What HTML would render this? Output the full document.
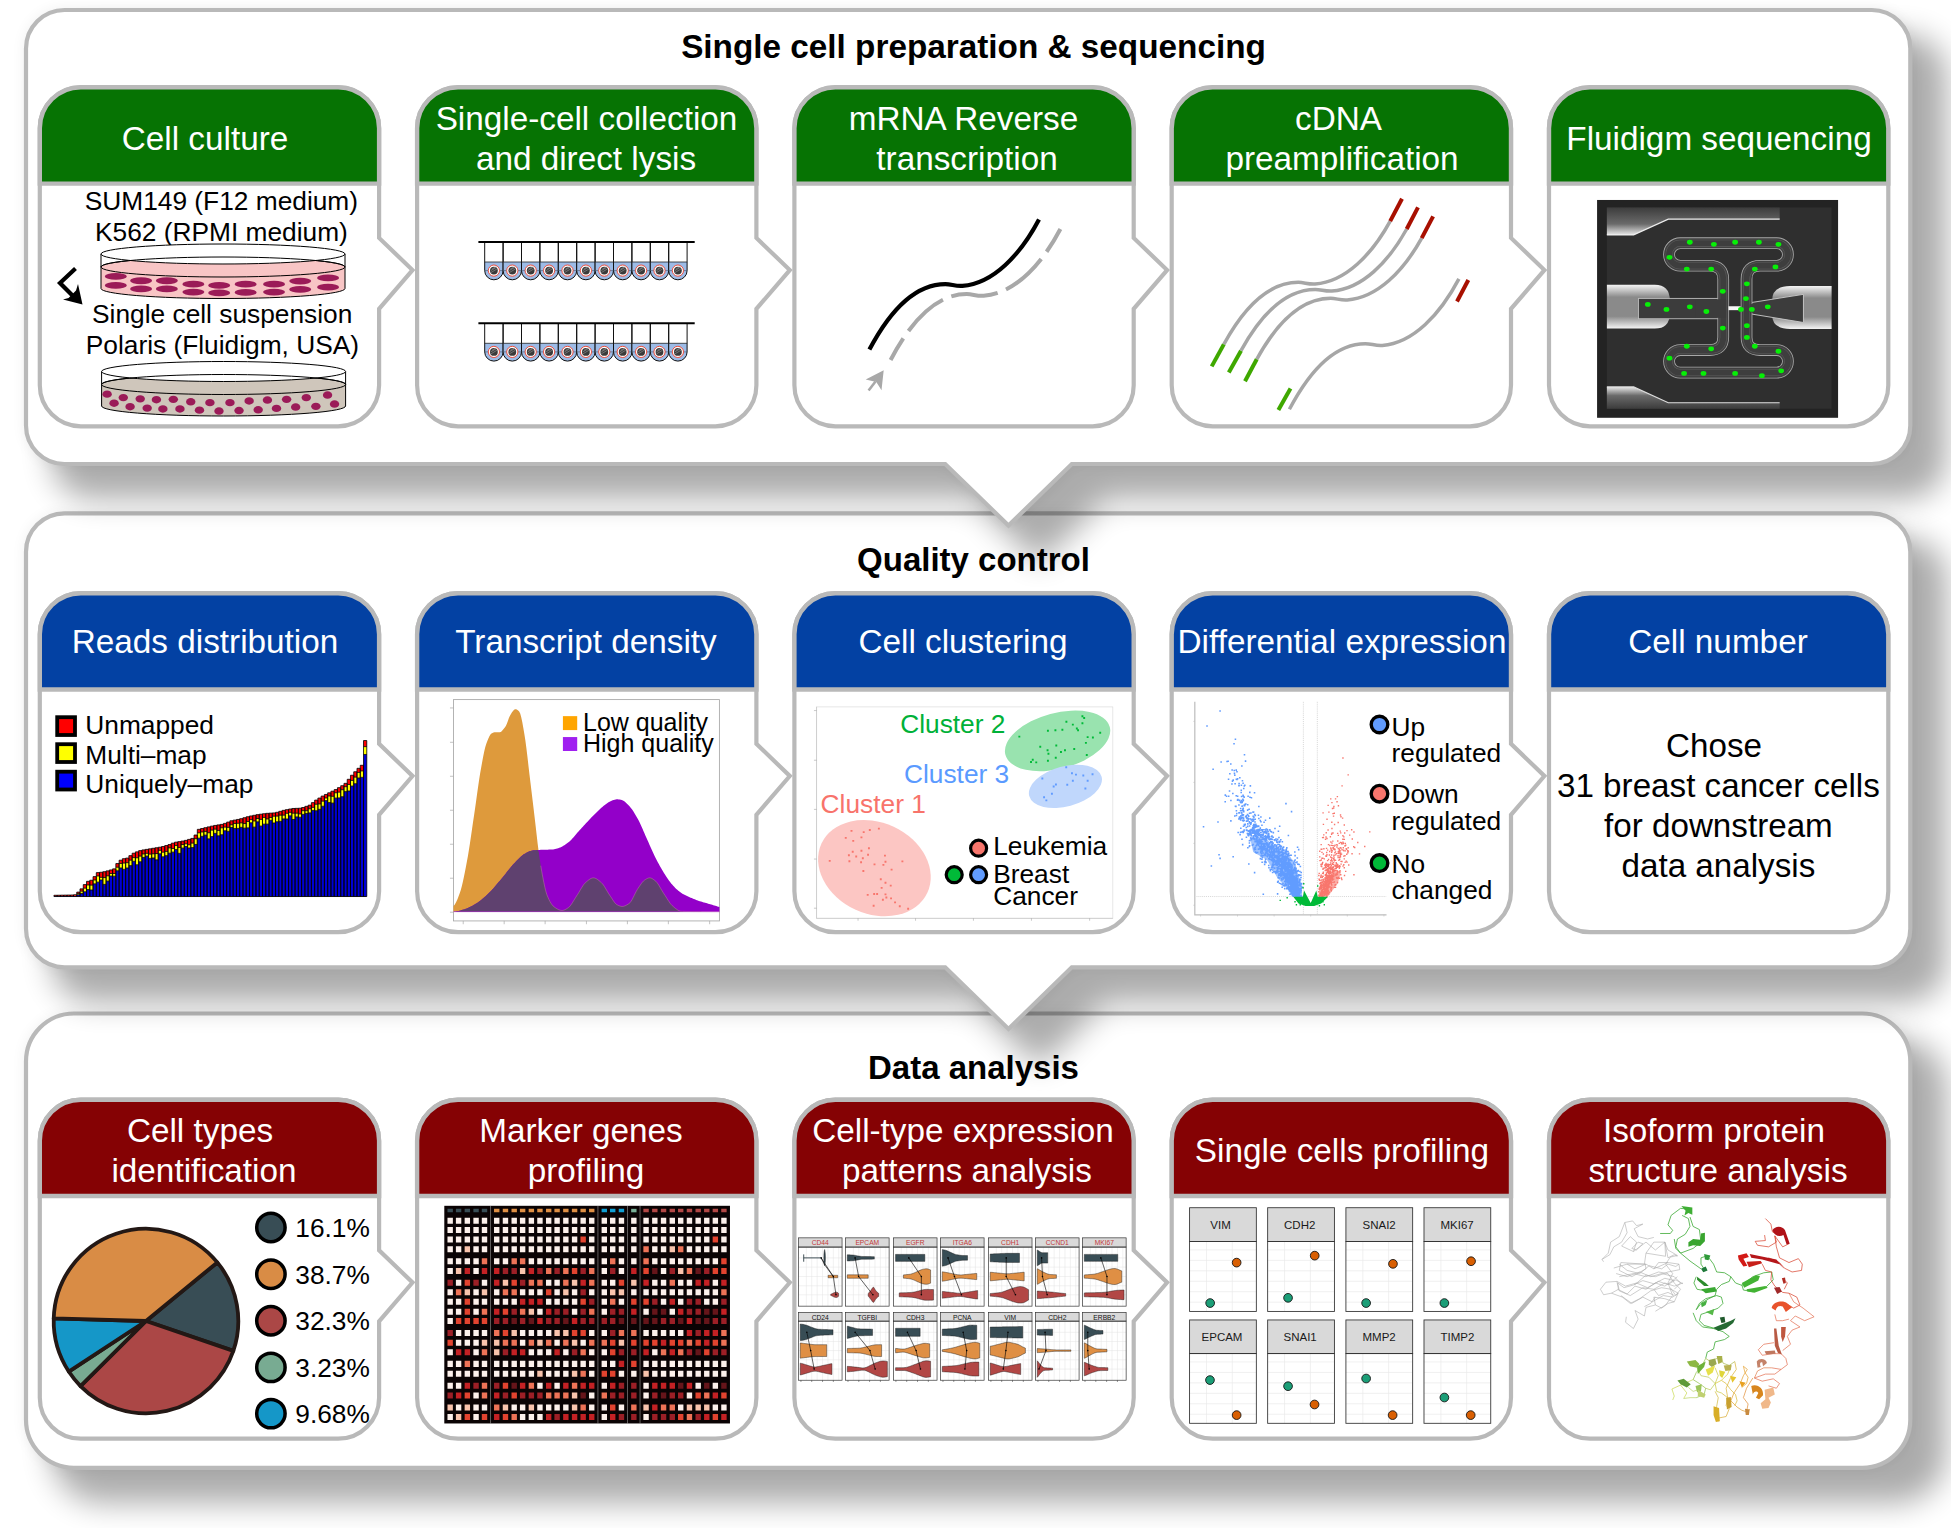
<!DOCTYPE html><html><head><meta charset="utf-8"><title>Workflow</title><style>html,body{margin:0;padding:0;background:#fff}svg{display:block}text{font-family:"Liberation Sans",sans-serif}</style></head><body><svg width="1951" height="1528" viewBox="0 0 1951 1528" font-family="Liberation Sans, sans-serif"><rect width="1951" height="1528" fill="#fff"/><defs><filter id="sh" x="-5%" y="-10%" width="110%" height="130%" color-interpolation-filters="sRGB"><feMorphology in="SourceAlpha" operator="dilate" radius="3"/><feGaussianBlur stdDeviation="15.5"/><feOffset dx="31" dy="30" result="b"/><feComponentTransfer result="s1"><feFuncA type="linear" slope="0.33"/></feComponentTransfer><feGaussianBlur in="SourceAlpha" stdDeviation="7" result="g0"/><feComponentTransfer in="g0" result="g1"><feFuncA type="linear" slope="0.06"/></feComponentTransfer><feMerge><feMergeNode in="g1"/><feMergeNode in="s1"/><feMergeNode in="SourceGraphic"/></feMerge></filter></defs><path d="M74,1013.5L1862.3,1013.5A48,48 0 0 1 1910.3,1061.5L1910.3,1419.8A48,48 0 0 1 1862.3,1467.8L74,1467.8A48,48 0 0 1 26,1419.8L26,1061.5A48,48 0 0 1 74,1013.5Z" fill="#fff" stroke="#b9b9b9" stroke-width="4.2" filter="url(#sh)"/><path d="M64.5,513.3L1871.8,513.3A38.5,38.5 0 0 1 1910.3,551.8L1910.3,928.8A38.5,38.5 0 0 1 1871.8,967.3L1071.8,967.3L1008.5,1028.9L945.2,967.3L64.5,967.3A38.5,38.5 0 0 1 26,928.8L26,551.8A38.5,38.5 0 0 1 64.5,513.3Z" fill="#fff" stroke="#b9b9b9" stroke-width="4.2" filter="url(#sh)"/><path d="M64.5,10L1871.8,10A38.5,38.5 0 0 1 1910.3,48.5L1910.3,425.5A38.5,38.5 0 0 1 1871.8,464L1071.8,464L1008.5,525.6L945.2,464L64.5,464A38.5,38.5 0 0 1 26,425.5L26,48.5A38.5,38.5 0 0 1 64.5,10Z" fill="#fff" stroke="#b9b9b9" stroke-width="4.2" filter="url(#sh)"/><text x="973.5" y="57.9" font-size="33.3" text-anchor="middle" font-weight="bold">Single cell preparation &amp; sequencing</text><text x="973.5" y="571.2" font-size="33" text-anchor="middle" font-weight="bold">Quality control</text><text x="973.5" y="1078.6" font-size="33" text-anchor="middle" font-weight="bold">Data analysis</text><path d="M80.8,87.3L338.1,87.3A41,41 0 0 1 379.1,128.3L379.1,237.9L412.5,270.1L379.1,308.9L379.1,385.3A41,41 0 0 1 338.1,426.3L80.8,426.3A41,41 0 0 1 39.8,385.3L39.8,128.3A41,41 0 0 1 80.8,87.3Z" fill="#fff" stroke="#b9b9b9" stroke-width="4.2" stroke-linejoin="miter"/><path d="M39.8,183.6L39.8,128.3A41,41 0 0 1 80.8,87.3L338.1,87.3A41,41 0 0 1 379.1,128.3L379.1,183.6Z" fill="#067303" stroke="#b9b9b9" stroke-width="4.4"/><text x="205" y="149.7" font-size="33.3" text-anchor="middle" fill="#fff">Cell culture</text><path d="M458.1,87.3L715.4,87.3A41,41 0 0 1 756.4,128.3L756.4,237.9L789.8,270.1L756.4,308.9L756.4,385.3A41,41 0 0 1 715.4,426.3L458.1,426.3A41,41 0 0 1 417.1,385.3L417.1,128.3A41,41 0 0 1 458.1,87.3Z" fill="#fff" stroke="#b9b9b9" stroke-width="4.2" stroke-linejoin="miter"/><path d="M417.1,183.6L417.1,128.3A41,41 0 0 1 458.1,87.3L715.4,87.3A41,41 0 0 1 756.4,128.3L756.4,183.6Z" fill="#067303" stroke="#b9b9b9" stroke-width="4.4"/><text x="586.5" y="130.4" font-size="33.3" text-anchor="middle" fill="#fff">Single-cell collection</text><text x="586" y="170.1" font-size="33.3" text-anchor="middle" fill="#fff">and direct lysis</text><path d="M835.4,87.3L1092.7,87.3A41,41 0 0 1 1133.7,128.3L1133.7,237.9L1167.1,270.1L1133.7,308.9L1133.7,385.3A41,41 0 0 1 1092.7,426.3L835.4,426.3A41,41 0 0 1 794.4,385.3L794.4,128.3A41,41 0 0 1 835.4,87.3Z" fill="#fff" stroke="#b9b9b9" stroke-width="4.2" stroke-linejoin="miter"/><path d="M794.4,183.6L794.4,128.3A41,41 0 0 1 835.4,87.3L1092.7,87.3A41,41 0 0 1 1133.7,128.3L1133.7,183.6Z" fill="#067303" stroke="#b9b9b9" stroke-width="4.4"/><text x="963.5" y="130.4" font-size="33.3" text-anchor="middle" fill="#fff">mRNA Reverse</text><text x="967" y="170.1" font-size="33.3" text-anchor="middle" fill="#fff">transcription</text><path d="M1212.7,87.3L1470,87.3A41,41 0 0 1 1511,128.3L1511,237.9L1544.4,270.1L1511,308.9L1511,385.3A41,41 0 0 1 1470,426.3L1212.7,426.3A41,41 0 0 1 1171.7,385.3L1171.7,128.3A41,41 0 0 1 1212.7,87.3Z" fill="#fff" stroke="#b9b9b9" stroke-width="4.2" stroke-linejoin="miter"/><path d="M1171.7,183.6L1171.7,128.3A41,41 0 0 1 1212.7,87.3L1470,87.3A41,41 0 0 1 1511,128.3L1511,183.6Z" fill="#067303" stroke="#b9b9b9" stroke-width="4.4"/><text x="1338.5" y="130.4" font-size="33.3" text-anchor="middle" fill="#fff">cDNA</text><text x="1342" y="170.1" font-size="33.3" text-anchor="middle" fill="#fff">preamplification</text><path d="M1590,87.3L1847.3,87.3A41,41 0 0 1 1888.3,128.3L1888.3,385.3A41,41 0 0 1 1847.3,426.3L1590,426.3A41,41 0 0 1 1549,385.3L1549,128.3A41,41 0 0 1 1590,87.3Z" fill="#fff" stroke="#b9b9b9" stroke-width="4.2" stroke-linejoin="miter"/><path d="M1549,183.6L1549,128.3A41,41 0 0 1 1590,87.3L1847.3,87.3A41,41 0 0 1 1888.3,128.3L1888.3,183.6Z" fill="#067303" stroke="#b9b9b9" stroke-width="4.4"/><text x="1719" y="149.7" font-size="33.3" text-anchor="middle" fill="#fff">Fluidigm sequencing</text><path d="M80.8,593.2L338.1,593.2A41,41 0 0 1 379.1,634.2L379.1,743.8L412.5,776L379.1,814.8L379.1,891.2A41,41 0 0 1 338.1,932.2L80.8,932.2A41,41 0 0 1 39.8,891.2L39.8,634.2A41,41 0 0 1 80.8,593.2Z" fill="#fff" stroke="#b9b9b9" stroke-width="4.2" stroke-linejoin="miter"/><path d="M39.8,689.5L39.8,634.2A41,41 0 0 1 80.8,593.2L338.1,593.2A41,41 0 0 1 379.1,634.2L379.1,689.5Z" fill="#0341a3" stroke="#b9b9b9" stroke-width="4.4"/><text x="205" y="653.2" font-size="33.3" text-anchor="middle" fill="#fff">Reads distribution</text><path d="M458.1,593.2L715.4,593.2A41,41 0 0 1 756.4,634.2L756.4,743.8L789.8,776L756.4,814.8L756.4,891.2A41,41 0 0 1 715.4,932.2L458.1,932.2A41,41 0 0 1 417.1,891.2L417.1,634.2A41,41 0 0 1 458.1,593.2Z" fill="#fff" stroke="#b9b9b9" stroke-width="4.2" stroke-linejoin="miter"/><path d="M417.1,689.5L417.1,634.2A41,41 0 0 1 458.1,593.2L715.4,593.2A41,41 0 0 1 756.4,634.2L756.4,689.5Z" fill="#0341a3" stroke="#b9b9b9" stroke-width="4.4"/><text x="586" y="653.2" font-size="33.3" text-anchor="middle" fill="#fff">Transcript density</text><path d="M835.4,593.2L1092.7,593.2A41,41 0 0 1 1133.7,634.2L1133.7,743.8L1167.1,776L1133.7,814.8L1133.7,891.2A41,41 0 0 1 1092.7,932.2L835.4,932.2A41,41 0 0 1 794.4,891.2L794.4,634.2A41,41 0 0 1 835.4,593.2Z" fill="#fff" stroke="#b9b9b9" stroke-width="4.2" stroke-linejoin="miter"/><path d="M794.4,689.5L794.4,634.2A41,41 0 0 1 835.4,593.2L1092.7,593.2A41,41 0 0 1 1133.7,634.2L1133.7,689.5Z" fill="#0341a3" stroke="#b9b9b9" stroke-width="4.4"/><text x="963" y="653.2" font-size="33.3" text-anchor="middle" fill="#fff">Cell clustering</text><path d="M1212.7,593.2L1470,593.2A41,41 0 0 1 1511,634.2L1511,743.8L1544.4,776L1511,814.8L1511,891.2A41,41 0 0 1 1470,932.2L1212.7,932.2A41,41 0 0 1 1171.7,891.2L1171.7,634.2A41,41 0 0 1 1212.7,593.2Z" fill="#fff" stroke="#b9b9b9" stroke-width="4.2" stroke-linejoin="miter"/><path d="M1171.7,689.5L1171.7,634.2A41,41 0 0 1 1212.7,593.2L1470,593.2A41,41 0 0 1 1511,634.2L1511,689.5Z" fill="#0341a3" stroke="#b9b9b9" stroke-width="4.4"/><text x="1342" y="653.2" font-size="33.3" text-anchor="middle" fill="#fff">Differential expression</text><path d="M1590,593.2L1847.3,593.2A41,41 0 0 1 1888.3,634.2L1888.3,891.2A41,41 0 0 1 1847.3,932.2L1590,932.2A41,41 0 0 1 1549,891.2L1549,634.2A41,41 0 0 1 1590,593.2Z" fill="#fff" stroke="#b9b9b9" stroke-width="4.2" stroke-linejoin="miter"/><path d="M1549,689.5L1549,634.2A41,41 0 0 1 1590,593.2L1847.3,593.2A41,41 0 0 1 1888.3,634.2L1888.3,689.5Z" fill="#0341a3" stroke="#b9b9b9" stroke-width="4.4"/><text x="1718" y="653.2" font-size="33.3" text-anchor="middle" fill="#fff">Cell number</text><path d="M80.8,1099.7L338.1,1099.7A41,41 0 0 1 379.1,1140.7L379.1,1250.3L412.5,1282.5L379.1,1321.3L379.1,1397.7A41,41 0 0 1 338.1,1438.7L80.8,1438.7A41,41 0 0 1 39.8,1397.7L39.8,1140.7A41,41 0 0 1 80.8,1099.7Z" fill="#fff" stroke="#b9b9b9" stroke-width="4.2" stroke-linejoin="miter"/><path d="M39.8,1196L39.8,1140.7A41,41 0 0 1 80.8,1099.7L338.1,1099.7A41,41 0 0 1 379.1,1140.7L379.1,1196Z" fill="#850204" stroke="#b9b9b9" stroke-width="4.4"/><text x="200" y="1141.7" font-size="33.3" text-anchor="middle" fill="#fff">Cell types</text><text x="204" y="1181.7" font-size="33.3" text-anchor="middle" fill="#fff">identification</text><path d="M458.1,1099.7L715.4,1099.7A41,41 0 0 1 756.4,1140.7L756.4,1250.3L789.8,1282.5L756.4,1321.3L756.4,1397.7A41,41 0 0 1 715.4,1438.7L458.1,1438.7A41,41 0 0 1 417.1,1397.7L417.1,1140.7A41,41 0 0 1 458.1,1099.7Z" fill="#fff" stroke="#b9b9b9" stroke-width="4.2" stroke-linejoin="miter"/><path d="M417.1,1196L417.1,1140.7A41,41 0 0 1 458.1,1099.7L715.4,1099.7A41,41 0 0 1 756.4,1140.7L756.4,1196Z" fill="#850204" stroke="#b9b9b9" stroke-width="4.4"/><text x="581" y="1141.7" font-size="33.3" text-anchor="middle" fill="#fff">Marker genes</text><text x="586" y="1181.7" font-size="33.3" text-anchor="middle" fill="#fff">profiling</text><path d="M835.4,1099.7L1092.7,1099.7A41,41 0 0 1 1133.7,1140.7L1133.7,1250.3L1167.1,1282.5L1133.7,1321.3L1133.7,1397.7A41,41 0 0 1 1092.7,1438.7L835.4,1438.7A41,41 0 0 1 794.4,1397.7L794.4,1140.7A41,41 0 0 1 835.4,1099.7Z" fill="#fff" stroke="#b9b9b9" stroke-width="4.2" stroke-linejoin="miter"/><path d="M794.4,1196L794.4,1140.7A41,41 0 0 1 835.4,1099.7L1092.7,1099.7A41,41 0 0 1 1133.7,1140.7L1133.7,1196Z" fill="#850204" stroke="#b9b9b9" stroke-width="4.4"/><text x="963" y="1141.7" font-size="33.3" text-anchor="middle" fill="#fff">Cell-type expression</text><text x="967" y="1181.7" font-size="33.3" text-anchor="middle" fill="#fff">patterns analysis</text><path d="M1212.7,1099.7L1470,1099.7A41,41 0 0 1 1511,1140.7L1511,1250.3L1544.4,1282.5L1511,1321.3L1511,1397.7A41,41 0 0 1 1470,1438.7L1212.7,1438.7A41,41 0 0 1 1171.7,1397.7L1171.7,1140.7A41,41 0 0 1 1212.7,1099.7Z" fill="#fff" stroke="#b9b9b9" stroke-width="4.2" stroke-linejoin="miter"/><path d="M1171.7,1196L1171.7,1140.7A41,41 0 0 1 1212.7,1099.7L1470,1099.7A41,41 0 0 1 1511,1140.7L1511,1196Z" fill="#850204" stroke="#b9b9b9" stroke-width="4.4"/><text x="1342" y="1162.1" font-size="33.3" text-anchor="middle" fill="#fff">Single cells profiling</text><path d="M1590,1099.7L1847.3,1099.7A41,41 0 0 1 1888.3,1140.7L1888.3,1397.7A41,41 0 0 1 1847.3,1438.7L1590,1438.7A41,41 0 0 1 1549,1397.7L1549,1140.7A41,41 0 0 1 1590,1099.7Z" fill="#fff" stroke="#b9b9b9" stroke-width="4.2" stroke-linejoin="miter"/><path d="M1549,1196L1549,1140.7A41,41 0 0 1 1590,1099.7L1847.3,1099.7A41,41 0 0 1 1888.3,1140.7L1888.3,1196Z" fill="#850204" stroke="#b9b9b9" stroke-width="4.4"/><text x="1714" y="1141.7" font-size="33.3" text-anchor="middle" fill="#fff">Isoform protein</text><text x="1718" y="1181.7" font-size="33.3" text-anchor="middle" fill="#fff">structure analysis</text><text x="221.4" y="210.1" font-size="26.3" text-anchor="middle">SUM149 (F12 medium)</text><text x="221.4" y="241.4" font-size="26.3" text-anchor="middle">K562 (RPMI medium)</text><text x="222.2" y="323.4" font-size="26.3" text-anchor="middle">Single cell suspension</text><text x="222.4" y="354.2" font-size="26.3" text-anchor="middle">Polaris (Fluidigm, USA)</text><path d="M101,267L101,288.5A122,10 0 0 0 345,288.5L345,267Z" fill="#f8c5c5" stroke="#000" stroke-width="1"/><ellipse cx="223" cy="267" rx="122" ry="10" fill="#f8c5c5" stroke="#000" stroke-width="1"/><ellipse cx="115.81" cy="276.38" rx="11" ry="3.4" fill="#9b1b58"/><ellipse cx="141.08" cy="280.73" rx="11" ry="3.4" fill="#9b1b58"/><ellipse cx="166.87" cy="280.73" rx="11" ry="3.4" fill="#9b1b58"/><ellipse cx="193.36" cy="284.22" rx="11" ry="3.4" fill="#9b1b58"/><ellipse cx="219.16" cy="285.44" rx="11" ry="3.4" fill="#9b1b58"/><ellipse cx="245.65" cy="284.22" rx="11" ry="3.4" fill="#9b1b58"/><ellipse cx="274.05" cy="284.22" rx="11" ry="3.4" fill="#9b1b58"/><ellipse cx="300.2" cy="281.08" rx="11" ry="3.4" fill="#9b1b58"/><ellipse cx="328.08" cy="277.94" rx="11" ry="3.4" fill="#9b1b58"/><ellipse cx="115.81" cy="285.44" rx="11" ry="3.4" fill="#9b1b58"/><ellipse cx="141.08" cy="288.92" rx="11" ry="3.4" fill="#9b1b58"/><ellipse cx="166.87" cy="288.92" rx="11" ry="3.4" fill="#9b1b58"/><ellipse cx="193.36" cy="292.06" rx="11" ry="3.4" fill="#9b1b58"/><ellipse cx="219.16" cy="292.93" rx="11" ry="3.4" fill="#9b1b58"/><ellipse cx="245.65" cy="292.41" rx="11" ry="3.4" fill="#9b1b58"/><ellipse cx="274.05" cy="292.06" rx="11" ry="3.4" fill="#9b1b58"/><ellipse cx="300.2" cy="289.45" rx="11" ry="3.4" fill="#9b1b58"/><ellipse cx="328.08" cy="287.18" rx="11" ry="3.4" fill="#9b1b58"/><path d="M101,254L101,267M345,254L345,267" stroke="#000" stroke-width="1" fill="none"/><path d="M101,254A122,10 0 0 1 345,254A122,10 0 0 1 101,254Z" fill="#fff" stroke="#000" stroke-width="1"/><path d="M101,267A122,10 0 0 1 345,267" fill="none" stroke="#000" stroke-width="1"/><path d="M101.6,384.5L101.6,406A122,10 0 0 0 345.6,406L345.6,384.5Z" fill="#cfc6bb" stroke="#000" stroke-width="1"/><ellipse cx="223.6" cy="384.5" rx="122" ry="10" fill="#cfc6bb" stroke="#000" stroke-width="1"/><ellipse cx="107.1" cy="394.13" rx="4.7" ry="3.7" fill="#9b1b58"/><ellipse cx="123.3" cy="397.62" rx="4.7" ry="3.7" fill="#9b1b58"/><ellipse cx="140.21" cy="398.84" rx="4.7" ry="3.7" fill="#9b1b58"/><ellipse cx="156.42" cy="399.71" rx="4.7" ry="3.7" fill="#9b1b58"/><ellipse cx="173.32" cy="399.36" rx="4.7" ry="3.7" fill="#9b1b58"/><ellipse cx="190.75" cy="401.8" rx="4.7" ry="3.7" fill="#9b1b58"/><ellipse cx="209.92" cy="402.67" rx="4.7" ry="3.7" fill="#9b1b58"/><ellipse cx="229.96" cy="402.67" rx="4.7" ry="3.7" fill="#9b1b58"/><ellipse cx="249.13" cy="400.93" rx="4.7" ry="3.7" fill="#9b1b58"/><ellipse cx="267.43" cy="400.06" rx="4.7" ry="3.7" fill="#9b1b58"/><ellipse cx="286.6" cy="399.36" rx="4.7" ry="3.7" fill="#9b1b58"/><ellipse cx="306.29" cy="397.62" rx="4.7" ry="3.7" fill="#9b1b58"/><ellipse cx="327.56" cy="395.01" rx="4.7" ry="3.7" fill="#9b1b58"/><ellipse cx="114.07" cy="403.2" rx="4.7" ry="3.7" fill="#9b1b58"/><ellipse cx="130.1" cy="406.68" rx="4.7" ry="3.7" fill="#9b1b58"/><ellipse cx="147.18" cy="408.08" rx="4.7" ry="3.7" fill="#9b1b58"/><ellipse cx="162.87" cy="408.95" rx="4.7" ry="3.7" fill="#9b1b58"/><ellipse cx="179.94" cy="408.95" rx="4.7" ry="3.7" fill="#9b1b58"/><ellipse cx="199.46" cy="410.17" rx="4.7" ry="3.7" fill="#9b1b58"/><ellipse cx="218.98" cy="411.04" rx="4.7" ry="3.7" fill="#9b1b58"/><ellipse cx="239.02" cy="410.52" rx="4.7" ry="3.7" fill="#9b1b58"/><ellipse cx="258.19" cy="409.82" rx="4.7" ry="3.7" fill="#9b1b58"/><ellipse cx="276.49" cy="408.42" rx="4.7" ry="3.7" fill="#9b1b58"/><ellipse cx="295.66" cy="407.03" rx="4.7" ry="3.7" fill="#9b1b58"/><ellipse cx="315.88" cy="406.33" rx="4.7" ry="3.7" fill="#9b1b58"/><ellipse cx="334.53" cy="404.07" rx="4.7" ry="3.7" fill="#9b1b58"/><path d="M101.6,371.5L101.6,384.5M345.6,371.5L345.6,384.5" stroke="#000" stroke-width="1" fill="none"/><path d="M101.6,371.5A122,10 0 0 1 345.6,371.5A122,10 0 0 1 101.6,371.5Z" fill="#fff" stroke="#000" stroke-width="1"/><path d="M101.6,384.5A122,10 0 0 1 345.6,384.5" fill="none" stroke="#000" stroke-width="1"/><path d="M75.5,268.5L60,283L77,300" fill="none" stroke="#000" stroke-width="4.2" stroke-linejoin="miter"/><path d="M82.5,304.5L63,299.5L68.5,298L76,290.5L78,284Z" fill="#000"/><defs></defs><path d="M484.7,262L484.7,270.6A9.2,9.2 0 0 0 503.1,270.6L503.1,262Z" fill="#9dbbe6"/><path d="M484.7,242L484.7,270.6A9.2,9.2 0 0 0 503.1,270.6L503.1,242" fill="none" stroke="#111" stroke-width="1"/><path d="M484.7,262H503.1" stroke="#222" stroke-width="0.8"/><path d="M484.7,270.6H503.1" stroke="#345" stroke-width="0.5"/><circle cx="493.9" cy="270.6" r="5.6" fill="#fff" stroke="#f0402a" stroke-width="0.9"/><circle cx="493.9" cy="270.6" r="3.9" fill="#3a3a3a"/><path d="M490.9,270.6l5,-3M490.9,272.6l6,-3.6M491.9,269.1l5,-3" stroke="#aaa" stroke-width="0.5"/><path d="M503.1,262L503.1,270.6A9.2,9.2 0 0 0 521.5,270.6L521.5,262Z" fill="#9dbbe6"/><path d="M503.1,242L503.1,270.6A9.2,9.2 0 0 0 521.5,270.6L521.5,242" fill="none" stroke="#111" stroke-width="1"/><path d="M503.1,262H521.5" stroke="#222" stroke-width="0.8"/><path d="M503.1,270.6H521.5" stroke="#345" stroke-width="0.5"/><circle cx="512.3" cy="270.6" r="5.6" fill="#fff" stroke="#f0402a" stroke-width="0.9"/><circle cx="512.3" cy="270.6" r="3.9" fill="#3a3a3a"/><path d="M509.3,270.6l5,-3M509.3,272.6l6,-3.6M510.3,269.1l5,-3" stroke="#aaa" stroke-width="0.5"/><path d="M521.5,262L521.5,270.6A9.2,9.2 0 0 0 539.9,270.6L539.9,262Z" fill="#9dbbe6"/><path d="M521.5,242L521.5,270.6A9.2,9.2 0 0 0 539.9,270.6L539.9,242" fill="none" stroke="#111" stroke-width="1"/><path d="M521.5,262H539.9" stroke="#222" stroke-width="0.8"/><path d="M521.5,270.6H539.9" stroke="#345" stroke-width="0.5"/><circle cx="530.7" cy="270.6" r="5.6" fill="#fff" stroke="#f0402a" stroke-width="0.9"/><circle cx="530.7" cy="270.6" r="3.9" fill="#3a3a3a"/><path d="M527.7,270.6l5,-3M527.7,272.6l6,-3.6M528.7,269.1l5,-3" stroke="#aaa" stroke-width="0.5"/><path d="M539.9,262L539.9,270.6A9.2,9.2 0 0 0 558.3,270.6L558.3,262Z" fill="#9dbbe6"/><path d="M539.9,242L539.9,270.6A9.2,9.2 0 0 0 558.3,270.6L558.3,242" fill="none" stroke="#111" stroke-width="1"/><path d="M539.9,262H558.3" stroke="#222" stroke-width="0.8"/><path d="M539.9,270.6H558.3" stroke="#345" stroke-width="0.5"/><circle cx="549.1" cy="270.6" r="5.6" fill="#fff" stroke="#f0402a" stroke-width="0.9"/><circle cx="549.1" cy="270.6" r="3.9" fill="#3a3a3a"/><path d="M546.1,270.6l5,-3M546.1,272.6l6,-3.6M547.1,269.1l5,-3" stroke="#aaa" stroke-width="0.5"/><path d="M558.3,262L558.3,270.6A9.2,9.2 0 0 0 576.7,270.6L576.7,262Z" fill="#9dbbe6"/><path d="M558.3,242L558.3,270.6A9.2,9.2 0 0 0 576.7,270.6L576.7,242" fill="none" stroke="#111" stroke-width="1"/><path d="M558.3,262H576.7" stroke="#222" stroke-width="0.8"/><path d="M558.3,270.6H576.7" stroke="#345" stroke-width="0.5"/><circle cx="567.5" cy="270.6" r="5.6" fill="#fff" stroke="#f0402a" stroke-width="0.9"/><circle cx="567.5" cy="270.6" r="3.9" fill="#3a3a3a"/><path d="M564.5,270.6l5,-3M564.5,272.6l6,-3.6M565.5,269.1l5,-3" stroke="#aaa" stroke-width="0.5"/><path d="M576.7,262L576.7,270.6A9.2,9.2 0 0 0 595.1,270.6L595.1,262Z" fill="#9dbbe6"/><path d="M576.7,242L576.7,270.6A9.2,9.2 0 0 0 595.1,270.6L595.1,242" fill="none" stroke="#111" stroke-width="1"/><path d="M576.7,262H595.1" stroke="#222" stroke-width="0.8"/><path d="M576.7,270.6H595.1" stroke="#345" stroke-width="0.5"/><circle cx="585.9" cy="270.6" r="5.6" fill="#fff" stroke="#f0402a" stroke-width="0.9"/><circle cx="585.9" cy="270.6" r="3.9" fill="#3a3a3a"/><path d="M582.9,270.6l5,-3M582.9,272.6l6,-3.6M583.9,269.1l5,-3" stroke="#aaa" stroke-width="0.5"/><path d="M595.1,262L595.1,270.6A9.2,9.2 0 0 0 613.5,270.6L613.5,262Z" fill="#9dbbe6"/><path d="M595.1,242L595.1,270.6A9.2,9.2 0 0 0 613.5,270.6L613.5,242" fill="none" stroke="#111" stroke-width="1"/><path d="M595.1,262H613.5" stroke="#222" stroke-width="0.8"/><path d="M595.1,270.6H613.5" stroke="#345" stroke-width="0.5"/><circle cx="604.3" cy="270.6" r="5.6" fill="#fff" stroke="#f0402a" stroke-width="0.9"/><circle cx="604.3" cy="270.6" r="3.9" fill="#3a3a3a"/><path d="M601.3,270.6l5,-3M601.3,272.6l6,-3.6M602.3,269.1l5,-3" stroke="#aaa" stroke-width="0.5"/><path d="M613.5,262L613.5,270.6A9.2,9.2 0 0 0 631.9,270.6L631.9,262Z" fill="#9dbbe6"/><path d="M613.5,242L613.5,270.6A9.2,9.2 0 0 0 631.9,270.6L631.9,242" fill="none" stroke="#111" stroke-width="1"/><path d="M613.5,262H631.9" stroke="#222" stroke-width="0.8"/><path d="M613.5,270.6H631.9" stroke="#345" stroke-width="0.5"/><circle cx="622.7" cy="270.6" r="5.6" fill="#fff" stroke="#f0402a" stroke-width="0.9"/><circle cx="622.7" cy="270.6" r="3.9" fill="#3a3a3a"/><path d="M619.7,270.6l5,-3M619.7,272.6l6,-3.6M620.7,269.1l5,-3" stroke="#aaa" stroke-width="0.5"/><path d="M631.9,262L631.9,270.6A9.2,9.2 0 0 0 650.3,270.6L650.3,262Z" fill="#9dbbe6"/><path d="M631.9,242L631.9,270.6A9.2,9.2 0 0 0 650.3,270.6L650.3,242" fill="none" stroke="#111" stroke-width="1"/><path d="M631.9,262H650.3" stroke="#222" stroke-width="0.8"/><path d="M631.9,270.6H650.3" stroke="#345" stroke-width="0.5"/><circle cx="641.1" cy="270.6" r="5.6" fill="#fff" stroke="#f0402a" stroke-width="0.9"/><circle cx="641.1" cy="270.6" r="3.9" fill="#3a3a3a"/><path d="M638.1,270.6l5,-3M638.1,272.6l6,-3.6M639.1,269.1l5,-3" stroke="#aaa" stroke-width="0.5"/><path d="M650.3,262L650.3,270.6A9.2,9.2 0 0 0 668.7,270.6L668.7,262Z" fill="#9dbbe6"/><path d="M650.3,242L650.3,270.6A9.2,9.2 0 0 0 668.7,270.6L668.7,242" fill="none" stroke="#111" stroke-width="1"/><path d="M650.3,262H668.7" stroke="#222" stroke-width="0.8"/><path d="M650.3,270.6H668.7" stroke="#345" stroke-width="0.5"/><circle cx="659.5" cy="270.6" r="5.6" fill="#fff" stroke="#f0402a" stroke-width="0.9"/><circle cx="659.5" cy="270.6" r="3.9" fill="#3a3a3a"/><path d="M656.5,270.6l5,-3M656.5,272.6l6,-3.6M657.5,269.1l5,-3" stroke="#aaa" stroke-width="0.5"/><path d="M668.7,262L668.7,270.6A9.2,9.2 0 0 0 687.1,270.6L687.1,262Z" fill="#9dbbe6"/><path d="M668.7,242L668.7,270.6A9.2,9.2 0 0 0 687.1,270.6L687.1,242" fill="none" stroke="#111" stroke-width="1"/><path d="M668.7,262H687.1" stroke="#222" stroke-width="0.8"/><path d="M668.7,270.6H687.1" stroke="#345" stroke-width="0.5"/><circle cx="677.9" cy="270.6" r="5.6" fill="#fff" stroke="#f0402a" stroke-width="0.9"/><circle cx="677.9" cy="270.6" r="3.9" fill="#3a3a3a"/><path d="M674.9,270.6l5,-3M674.9,272.6l6,-3.6M675.9,269.1l5,-3" stroke="#aaa" stroke-width="0.5"/><path d="M478.4,242H694.7" stroke="#000" stroke-width="2"/><defs></defs><path d="M484.7,343.3L484.7,351.9A9.2,9.2 0 0 0 503.1,351.9L503.1,343.3Z" fill="#9dbbe6"/><path d="M484.7,323.3L484.7,351.9A9.2,9.2 0 0 0 503.1,351.9L503.1,323.3" fill="none" stroke="#111" stroke-width="1"/><path d="M484.7,343.3H503.1" stroke="#222" stroke-width="0.8"/><path d="M484.7,351.9H503.1" stroke="#345" stroke-width="0.5"/><circle cx="493.9" cy="351.9" r="5.6" fill="#fff" stroke="#f0402a" stroke-width="0.9"/><circle cx="493.9" cy="351.9" r="3.9" fill="#3a3a3a"/><path d="M490.9,351.9l5,-3M490.9,353.9l6,-3.6M491.9,350.4l5,-3" stroke="#aaa" stroke-width="0.5"/><path d="M503.1,343.3L503.1,351.9A9.2,9.2 0 0 0 521.5,351.9L521.5,343.3Z" fill="#9dbbe6"/><path d="M503.1,323.3L503.1,351.9A9.2,9.2 0 0 0 521.5,351.9L521.5,323.3" fill="none" stroke="#111" stroke-width="1"/><path d="M503.1,343.3H521.5" stroke="#222" stroke-width="0.8"/><path d="M503.1,351.9H521.5" stroke="#345" stroke-width="0.5"/><circle cx="512.3" cy="351.9" r="5.6" fill="#fff" stroke="#f0402a" stroke-width="0.9"/><circle cx="512.3" cy="351.9" r="3.9" fill="#3a3a3a"/><path d="M509.3,351.9l5,-3M509.3,353.9l6,-3.6M510.3,350.4l5,-3" stroke="#aaa" stroke-width="0.5"/><path d="M521.5,343.3L521.5,351.9A9.2,9.2 0 0 0 539.9,351.9L539.9,343.3Z" fill="#9dbbe6"/><path d="M521.5,323.3L521.5,351.9A9.2,9.2 0 0 0 539.9,351.9L539.9,323.3" fill="none" stroke="#111" stroke-width="1"/><path d="M521.5,343.3H539.9" stroke="#222" stroke-width="0.8"/><path d="M521.5,351.9H539.9" stroke="#345" stroke-width="0.5"/><circle cx="530.7" cy="351.9" r="5.6" fill="#fff" stroke="#f0402a" stroke-width="0.9"/><circle cx="530.7" cy="351.9" r="3.9" fill="#3a3a3a"/><path d="M527.7,351.9l5,-3M527.7,353.9l6,-3.6M528.7,350.4l5,-3" stroke="#aaa" stroke-width="0.5"/><path d="M539.9,343.3L539.9,351.9A9.2,9.2 0 0 0 558.3,351.9L558.3,343.3Z" fill="#9dbbe6"/><path d="M539.9,323.3L539.9,351.9A9.2,9.2 0 0 0 558.3,351.9L558.3,323.3" fill="none" stroke="#111" stroke-width="1"/><path d="M539.9,343.3H558.3" stroke="#222" stroke-width="0.8"/><path d="M539.9,351.9H558.3" stroke="#345" stroke-width="0.5"/><circle cx="549.1" cy="351.9" r="5.6" fill="#fff" stroke="#f0402a" stroke-width="0.9"/><circle cx="549.1" cy="351.9" r="3.9" fill="#3a3a3a"/><path d="M546.1,351.9l5,-3M546.1,353.9l6,-3.6M547.1,350.4l5,-3" stroke="#aaa" stroke-width="0.5"/><path d="M558.3,343.3L558.3,351.9A9.2,9.2 0 0 0 576.7,351.9L576.7,343.3Z" fill="#9dbbe6"/><path d="M558.3,323.3L558.3,351.9A9.2,9.2 0 0 0 576.7,351.9L576.7,323.3" fill="none" stroke="#111" stroke-width="1"/><path d="M558.3,343.3H576.7" stroke="#222" stroke-width="0.8"/><path d="M558.3,351.9H576.7" stroke="#345" stroke-width="0.5"/><circle cx="567.5" cy="351.9" r="5.6" fill="#fff" stroke="#f0402a" stroke-width="0.9"/><circle cx="567.5" cy="351.9" r="3.9" fill="#3a3a3a"/><path d="M564.5,351.9l5,-3M564.5,353.9l6,-3.6M565.5,350.4l5,-3" stroke="#aaa" stroke-width="0.5"/><path d="M576.7,343.3L576.7,351.9A9.2,9.2 0 0 0 595.1,351.9L595.1,343.3Z" fill="#9dbbe6"/><path d="M576.7,323.3L576.7,351.9A9.2,9.2 0 0 0 595.1,351.9L595.1,323.3" fill="none" stroke="#111" stroke-width="1"/><path d="M576.7,343.3H595.1" stroke="#222" stroke-width="0.8"/><path d="M576.7,351.9H595.1" stroke="#345" stroke-width="0.5"/><circle cx="585.9" cy="351.9" r="5.6" fill="#fff" stroke="#f0402a" stroke-width="0.9"/><circle cx="585.9" cy="351.9" r="3.9" fill="#3a3a3a"/><path d="M582.9,351.9l5,-3M582.9,353.9l6,-3.6M583.9,350.4l5,-3" stroke="#aaa" stroke-width="0.5"/><path d="M595.1,343.3L595.1,351.9A9.2,9.2 0 0 0 613.5,351.9L613.5,343.3Z" fill="#9dbbe6"/><path d="M595.1,323.3L595.1,351.9A9.2,9.2 0 0 0 613.5,351.9L613.5,323.3" fill="none" stroke="#111" stroke-width="1"/><path d="M595.1,343.3H613.5" stroke="#222" stroke-width="0.8"/><path d="M595.1,351.9H613.5" stroke="#345" stroke-width="0.5"/><circle cx="604.3" cy="351.9" r="5.6" fill="#fff" stroke="#f0402a" stroke-width="0.9"/><circle cx="604.3" cy="351.9" r="3.9" fill="#3a3a3a"/><path d="M601.3,351.9l5,-3M601.3,353.9l6,-3.6M602.3,350.4l5,-3" stroke="#aaa" stroke-width="0.5"/><path d="M613.5,343.3L613.5,351.9A9.2,9.2 0 0 0 631.9,351.9L631.9,343.3Z" fill="#9dbbe6"/><path d="M613.5,323.3L613.5,351.9A9.2,9.2 0 0 0 631.9,351.9L631.9,323.3" fill="none" stroke="#111" stroke-width="1"/><path d="M613.5,343.3H631.9" stroke="#222" stroke-width="0.8"/><path d="M613.5,351.9H631.9" stroke="#345" stroke-width="0.5"/><circle cx="622.7" cy="351.9" r="5.6" fill="#fff" stroke="#f0402a" stroke-width="0.9"/><circle cx="622.7" cy="351.9" r="3.9" fill="#3a3a3a"/><path d="M619.7,351.9l5,-3M619.7,353.9l6,-3.6M620.7,350.4l5,-3" stroke="#aaa" stroke-width="0.5"/><path d="M631.9,343.3L631.9,351.9A9.2,9.2 0 0 0 650.3,351.9L650.3,343.3Z" fill="#9dbbe6"/><path d="M631.9,323.3L631.9,351.9A9.2,9.2 0 0 0 650.3,351.9L650.3,323.3" fill="none" stroke="#111" stroke-width="1"/><path d="M631.9,343.3H650.3" stroke="#222" stroke-width="0.8"/><path d="M631.9,351.9H650.3" stroke="#345" stroke-width="0.5"/><circle cx="641.1" cy="351.9" r="5.6" fill="#fff" stroke="#f0402a" stroke-width="0.9"/><circle cx="641.1" cy="351.9" r="3.9" fill="#3a3a3a"/><path d="M638.1,351.9l5,-3M638.1,353.9l6,-3.6M639.1,350.4l5,-3" stroke="#aaa" stroke-width="0.5"/><path d="M650.3,343.3L650.3,351.9A9.2,9.2 0 0 0 668.7,351.9L668.7,343.3Z" fill="#9dbbe6"/><path d="M650.3,323.3L650.3,351.9A9.2,9.2 0 0 0 668.7,351.9L668.7,323.3" fill="none" stroke="#111" stroke-width="1"/><path d="M650.3,343.3H668.7" stroke="#222" stroke-width="0.8"/><path d="M650.3,351.9H668.7" stroke="#345" stroke-width="0.5"/><circle cx="659.5" cy="351.9" r="5.6" fill="#fff" stroke="#f0402a" stroke-width="0.9"/><circle cx="659.5" cy="351.9" r="3.9" fill="#3a3a3a"/><path d="M656.5,351.9l5,-3M656.5,353.9l6,-3.6M657.5,350.4l5,-3" stroke="#aaa" stroke-width="0.5"/><path d="M668.7,343.3L668.7,351.9A9.2,9.2 0 0 0 687.1,351.9L687.1,343.3Z" fill="#9dbbe6"/><path d="M668.7,323.3L668.7,351.9A9.2,9.2 0 0 0 687.1,351.9L687.1,323.3" fill="none" stroke="#111" stroke-width="1"/><path d="M668.7,343.3H687.1" stroke="#222" stroke-width="0.8"/><path d="M668.7,351.9H687.1" stroke="#345" stroke-width="0.5"/><circle cx="677.9" cy="351.9" r="5.6" fill="#fff" stroke="#f0402a" stroke-width="0.9"/><circle cx="677.9" cy="351.9" r="3.9" fill="#3a3a3a"/><path d="M674.9,351.9l5,-3M674.9,353.9l6,-3.6M675.9,350.4l5,-3" stroke="#aaa" stroke-width="0.5"/><path d="M478.4,323.3H694.7" stroke="#000" stroke-width="2"/><path d="M869.4,349.6C888.4,313.6 913.4,284.1 945.4,284.1C951.4,284.1 955.4,286.3 962.4,285.8C993.4,283.6 1020.4,254.6 1039,219.4" fill="none" stroke="#000" stroke-width="4.2"/><path d="M890.6,360C909.62,323.78 934.65,294.1 966.69,294.1C972.7,294.1 976.7,296.31 983.71,295.81C1014.75,293.59 1041.78,264.42 1060.4,229" fill="none" stroke="#a8a8a8" stroke-width="4" stroke-dasharray="47 9" stroke-dashoffset="22"/><path d="M868.6,390.5L875.5,381.5" stroke="#a8a8a8" stroke-width="2.6" fill="none"/><path d="M883.7,370.2L881.5,390.3L876.3,382L865.7,379.5Z" fill="#a8a8a8"/><path d="M1223.8,344.4C1242.44,310.31 1266.97,282.37 1298.37,282.37C1304.25,282.37 1308.18,284.45 1315.05,283.98C1345.46,281.9 1371.95,254.43 1390.2,221.1" fill="none" stroke="#a6a6a6" stroke-width="3.5"/><path d="M1223.8,344.4L1211.7,366.4" stroke="#3fa800" stroke-width="4"/><path d="M1390.2,221.1L1402,198.8" stroke="#a80f00" stroke-width="4"/><path d="M1241,350.7C1259.56,317.05 1283.99,289.48 1315.25,289.48C1321.11,289.48 1325.02,291.53 1331.86,291.07C1362.15,289.01 1388.53,261.9 1406.7,229" fill="none" stroke="#a6a6a6" stroke-width="3.5"/><path d="M1241,350.7L1228.8,372.4" stroke="#3fa800" stroke-width="4"/><path d="M1406.7,229L1418,207.3" stroke="#a80f00" stroke-width="4"/><path d="M1256.7,359.3C1275.18,325.79 1299.51,298.33 1330.64,298.33C1336.48,298.33 1340.37,300.38 1347.18,299.91C1377.34,297.86 1403.6,270.87 1421.7,238.1" fill="none" stroke="#a6a6a6" stroke-width="3.5"/><path d="M1256.7,359.3L1245,381.3" stroke="#3fa800" stroke-width="4"/><path d="M1421.7,238.1L1433.1,216.4" stroke="#a80f00" stroke-width="4"/><path d="M1289.4,409.3C1308.39,373.24 1333.37,343.7 1365.36,343.7C1371.35,343.7 1375.35,345.9 1382.35,345.4C1413.33,343.2 1440.31,314.15 1458.9,278.9" fill="none" stroke="#a6a6a6" stroke-width="3.5"/><path d="M1290.5,388.4L1278.4,409.9" stroke="#3fa800" stroke-width="4"/><path d="M1468.3,280L1457,301.5" stroke="#a80f00" stroke-width="4"/><g transform="translate(1590,195) scale(0.15053)"><rect x="47" y="33" width="1601" height="1447" fill="#232323"/><rect x="112" y="83" width="1493" height="1337" fill="#2f2f2f"/><defs><linearGradient id="fg1" x1="0" y1="0" x2="0" y2="1"><stop offset="0" stop-color="#3c3c3c"/><stop offset="0.6" stop-color="#6a6a6a"/><stop offset="1" stop-color="#e8e8e8"/></linearGradient><linearGradient id="fg2" x1="0" y1="1" x2="0" y2="0"><stop offset="0" stop-color="#3c3c3c"/><stop offset="0.6" stop-color="#6a6a6a"/><stop offset="1" stop-color="#e8e8e8"/></linearGradient><linearGradient id="fg3" x1="0" y1="0" x2="0" y2="1"><stop offset="0" stop-color="#f4f4f4"/><stop offset="0.28" stop-color="#8a8a8a"/><stop offset="0.72" stop-color="#8a8a8a"/><stop offset="1" stop-color="#f4f4f4"/></linearGradient></defs><path d="M112,83H1260V160H520L290,265H112Z" fill="url(#fg1)"/><path d="M112,265H290L520,160H1260" fill="none" stroke="#eee" stroke-width="8"/><path d="M112,1420H1260V1380H520L290,1275H112Z" fill="url(#fg2)"/><path d="M112,1275H290L520,1380H1260" fill="none" stroke="#ddd" stroke-width="8"/><path d="M112,597H430Q530,597 530,700V785Q530,887 430,887H112Z" fill="url(#fg3)"/><rect x="322" y="687" width="560" height="135" fill="#3c3c3c" stroke="#bbb" stroke-width="6"/><path d="M1605,605H1330Q1210,605 1210,700V795Q1210,890 1330,890H1605Z" fill="url(#fg3)"/><path d="M1068,715L1418,660V847L1068,790Z" fill="#3c3c3c" stroke="#ccc" stroke-width="6"/><path d="M885,752V560Q885,470 795,470H600A75,75 0 0 1 600,320H1240A75,75 0 0 1 1240,470H1130Q1040,470 1040,560V752V945Q1040,1030 1130,1030H1240A75,75 0 0 1 1240,1180H600A75,75 0 0 1 600,1030H795Q885,1030 885,945V752" fill="none" stroke="#a8a8a8" stroke-width="78"/><path d="M885,752V560Q885,470 795,470H600A75,75 0 0 1 600,320H1240A75,75 0 0 1 1240,470H1130Q1040,470 1040,560V752V945Q1040,1030 1130,1030H1240A75,75 0 0 1 1240,1180H600A75,75 0 0 1 600,1030H795Q885,1030 885,945V752" fill="none" stroke="#404040" stroke-width="67"/><path d="M885,752V560Q885,470 795,470H600A75,75 0 0 1 600,320H1240A75,75 0 0 1 1240,470H1130Q1040,470 1040,560V752V945Q1040,1030 1130,1030H1240A75,75 0 0 1 1240,1180H600A75,75 0 0 1 600,1030H795Q885,1030 885,945V752" fill="none" stroke="#5c5c5c" stroke-width="46"/><path d="M885,752V560Q885,470 795,470H600A75,75 0 0 1 600,320H1240A75,75 0 0 1 1240,470H1130Q1040,470 1040,560V752V945Q1040,1030 1130,1030H1240A75,75 0 0 1 1240,1180H600A75,75 0 0 1 600,1030H795Q885,1030 885,945V752" fill="none" stroke="#3e3e3e" stroke-width="39"/><rect x="700" y="693" width="204" height="123" fill="#3c3c3c"/><path d="M920,752H1000" stroke="#f5f5f5" stroke-width="26"/><path d="M1060,728L1120,716V790L1060,778Z" fill="#3c3c3c"/><ellipse cx="663" cy="314" rx="19" ry="16" fill="#07ef07"/><ellipse cx="823" cy="328" rx="19" ry="16" fill="#07ef07"/><ellipse cx="964" cy="314" rx="19" ry="16" fill="#07ef07"/><ellipse cx="1122" cy="314" rx="19" ry="16" fill="#07ef07"/><ellipse cx="1252" cy="328" rx="19" ry="16" fill="#07ef07"/><ellipse cx="528" cy="414" rx="19" ry="16" fill="#07ef07"/><ellipse cx="643" cy="492" rx="19" ry="16" fill="#07ef07"/><ellipse cx="805" cy="492" rx="19" ry="16" fill="#07ef07"/><ellipse cx="1095" cy="492" rx="19" ry="16" fill="#07ef07"/><ellipse cx="1232" cy="478" rx="19" ry="16" fill="#07ef07"/><ellipse cx="1042" cy="590" rx="19" ry="16" fill="#07ef07"/><ellipse cx="882" cy="640" rx="19" ry="16" fill="#07ef07"/><ellipse cx="1036" cy="688" rx="19" ry="16" fill="#07ef07"/><ellipse cx="384" cy="727" rx="19" ry="16" fill="#07ef07"/><ellipse cx="508" cy="760" rx="19" ry="16" fill="#07ef07"/><ellipse cx="663" cy="743" rx="19" ry="16" fill="#07ef07"/><ellipse cx="773" cy="774" rx="19" ry="16" fill="#07ef07"/><ellipse cx="1003" cy="760" rx="19" ry="16" fill="#07ef07"/><ellipse cx="1075" cy="760" rx="19" ry="16" fill="#07ef07"/><ellipse cx="1181" cy="743" rx="19" ry="16" fill="#07ef07"/><ellipse cx="882" cy="884" rx="19" ry="16" fill="#07ef07"/><ellipse cx="1042" cy="868" rx="19" ry="16" fill="#07ef07"/><ellipse cx="1042" cy="946" rx="19" ry="16" fill="#07ef07"/><ellipse cx="643" cy="1005" rx="19" ry="16" fill="#07ef07"/><ellipse cx="805" cy="1022" rx="19" ry="16" fill="#07ef07"/><ellipse cx="1095" cy="1005" rx="19" ry="16" fill="#07ef07"/><ellipse cx="1252" cy="1038" rx="19" ry="16" fill="#07ef07"/><ellipse cx="528" cy="1084" rx="19" ry="16" fill="#07ef07"/><ellipse cx="625" cy="1185" rx="19" ry="16" fill="#07ef07"/><ellipse cx="754" cy="1185" rx="19" ry="16" fill="#07ef07"/><ellipse cx="964" cy="1185" rx="19" ry="16" fill="#07ef07"/><ellipse cx="1142" cy="1200" rx="19" ry="16" fill="#07ef07"/><ellipse cx="1270" cy="1168" rx="19" ry="16" fill="#07ef07"/></g><g transform="translate(40,690) scale(0.17428)"><rect x="80" y="1182.14" width="18.7" height="2.86" fill="#0000d6"/><rect x="80" y="1177.84" width="18.7" height="4.29" fill="#f00"/><rect x="98.7" y="1182.01" width="18.7" height="2.99" fill="#0000d6"/><rect x="98.7" y="1177.53" width="18.7" height="4.48" fill="#f00"/><rect x="117.4" y="1181.89" width="18.7" height="3.11" fill="#0000d6"/><rect x="117.4" y="1177.22" width="18.7" height="4.67" fill="#f00"/><rect x="136.09" y="1181.76" width="18.7" height="3.24" fill="#0000d6"/><rect x="136.09" y="1176.91" width="18.7" height="4.85" fill="#f00"/><rect x="154.79" y="1181.64" width="18.7" height="3.36" fill="#0000d6"/><rect x="154.79" y="1176.6" width="18.7" height="5.04" fill="#f00"/><rect x="173.49" y="1181.51" width="18.7" height="3.49" fill="#0000d6"/><rect x="173.49" y="1176.29" width="18.7" height="5.23" fill="#f00"/><rect x="192.19" y="1180.95" width="18.7" height="4.05" fill="#0000d6"/><rect x="192.19" y="1174.87" width="18.7" height="6.08" fill="#f00"/><rect x="210.89" y="1174.91" width="18.7" height="10.09" fill="#0000d6"/><rect x="210.89" y="1167.34" width="18.7" height="7.57" fill="#ffff00"/><rect x="210.89" y="1159.77" width="18.7" height="7.57" fill="#f00"/><rect x="229.58" y="1167.43" width="18.7" height="17.57" fill="#0000d6"/><rect x="229.58" y="1154.25" width="18.7" height="13.18" fill="#ffff00"/><rect x="229.58" y="1141.07" width="18.7" height="13.18" fill="#f00"/><rect x="248.28" y="1157.6" width="18.7" height="27.4" fill="#0000d6"/><rect x="248.28" y="1137.05" width="18.7" height="20.55" fill="#ffff00"/><rect x="248.28" y="1116.49" width="18.7" height="20.55" fill="#f00"/><rect x="266.98" y="1144.98" width="18.7" height="40.02" fill="#0000d6"/><rect x="266.98" y="1118.85" width="18.7" height="26.13" fill="#ffff00"/><rect x="266.98" y="1097.89" width="18.7" height="20.95" fill="#f00"/><rect x="285.68" y="1147.66" width="18.7" height="37.34" fill="#0000d6"/><rect x="285.68" y="1119.66" width="18.7" height="28" fill="#ffff00"/><rect x="285.68" y="1091.66" width="18.7" height="28" fill="#f00"/><rect x="304.38" y="1112.18" width="18.7" height="72.82" fill="#0000d6"/><rect x="304.38" y="1090.29" width="18.7" height="21.89" fill="#ffff00"/><rect x="304.38" y="1070.79" width="18.7" height="19.51" fill="#f00"/><rect x="323.07" y="1102.26" width="18.7" height="82.74" fill="#0000d6"/><rect x="323.07" y="1067.21" width="18.7" height="35.05" fill="#ffff00"/><rect x="323.07" y="1047.76" width="18.7" height="19.45" fill="#f00"/><rect x="341.77" y="1090.07" width="18.7" height="94.93" fill="#0000d6"/><rect x="341.77" y="1074.98" width="18.7" height="15.09" fill="#ffff00"/><rect x="341.77" y="1045.89" width="18.7" height="29.1" fill="#f00"/><rect x="360.47" y="1115.34" width="18.7" height="69.66" fill="#0000d6"/><rect x="360.47" y="1076.26" width="18.7" height="39.08" fill="#ffff00"/><rect x="360.47" y="1042.55" width="18.7" height="33.72" fill="#f00"/><rect x="379.17" y="1096.34" width="18.7" height="88.66" fill="#0000d6"/><rect x="379.17" y="1066.33" width="18.7" height="30" fill="#ffff00"/><rect x="379.17" y="1037.87" width="18.7" height="28.46" fill="#f00"/><rect x="397.86" y="1067.51" width="18.7" height="117.49" fill="#0000d6"/><rect x="397.86" y="1053.12" width="18.7" height="14.39" fill="#ffff00"/><rect x="397.86" y="1032.6" width="18.7" height="20.52" fill="#f00"/><rect x="416.56" y="1068.37" width="18.7" height="116.63" fill="#0000d6"/><rect x="416.56" y="1052.82" width="18.7" height="15.55" fill="#ffff00"/><rect x="416.56" y="1026.36" width="18.7" height="26.45" fill="#f00"/><rect x="435.26" y="1037.12" width="18.7" height="147.88" fill="#0000d6"/><rect x="435.26" y="1016.82" width="18.7" height="20.29" fill="#ffff00"/><rect x="435.26" y="995.78" width="18.7" height="21.04" fill="#f00"/><rect x="453.96" y="1021.24" width="18.7" height="163.76" fill="#0000d6"/><rect x="453.96" y="995.17" width="18.7" height="26.06" fill="#ffff00"/><rect x="453.96" y="976.69" width="18.7" height="18.48" fill="#f00"/><rect x="472.66" y="1028.95" width="18.7" height="156.05" fill="#0000d6"/><rect x="472.66" y="993.05" width="18.7" height="35.9" fill="#ffff00"/><rect x="472.66" y="968" width="18.7" height="25.05" fill="#f00"/><rect x="491.35" y="1021.43" width="18.7" height="163.57" fill="#0000d6"/><rect x="491.35" y="990.78" width="18.7" height="30.65" fill="#ffff00"/><rect x="491.35" y="964.47" width="18.7" height="26.31" fill="#f00"/><rect x="510.05" y="1007.67" width="18.7" height="177.33" fill="#0000d6"/><rect x="510.05" y="976.45" width="18.7" height="31.22" fill="#ffff00"/><rect x="510.05" y="950.45" width="18.7" height="26" fill="#f00"/><rect x="528.75" y="982.98" width="18.7" height="202.02" fill="#0000d6"/><rect x="528.75" y="961.74" width="18.7" height="21.23" fill="#ffff00"/><rect x="528.75" y="936.43" width="18.7" height="25.32" fill="#f00"/><rect x="547.45" y="1002.55" width="18.7" height="182.45" fill="#0000d6"/><rect x="547.45" y="962.66" width="18.7" height="39.89" fill="#ffff00"/><rect x="547.45" y="928.7" width="18.7" height="33.96" fill="#f00"/><rect x="566.15" y="985.54" width="18.7" height="199.46" fill="#0000d6"/><rect x="566.15" y="953.13" width="18.7" height="32.4" fill="#ffff00"/><rect x="566.15" y="921.69" width="18.7" height="31.44" fill="#f00"/><rect x="584.84" y="960.65" width="18.7" height="224.35" fill="#0000d6"/><rect x="584.84" y="940.68" width="18.7" height="19.97" fill="#ffff00"/><rect x="584.84" y="917.63" width="18.7" height="23.04" fill="#f00"/><rect x="603.54" y="952.97" width="18.7" height="232.03" fill="#0000d6"/><rect x="603.54" y="937.14" width="18.7" height="15.83" fill="#ffff00"/><rect x="603.54" y="914.52" width="18.7" height="22.62" fill="#f00"/><rect x="622.24" y="966.07" width="18.7" height="218.93" fill="#0000d6"/><rect x="622.24" y="941.66" width="18.7" height="24.41" fill="#ffff00"/><rect x="622.24" y="911.4" width="18.7" height="30.26" fill="#f00"/><rect x="640.94" y="963.88" width="18.7" height="221.12" fill="#0000d6"/><rect x="640.94" y="939.83" width="18.7" height="24.05" fill="#ffff00"/><rect x="640.94" y="908.29" width="18.7" height="31.55" fill="#f00"/><rect x="659.64" y="974.53" width="18.7" height="210.47" fill="#0000d6"/><rect x="659.64" y="938.5" width="18.7" height="36.03" fill="#ffff00"/><rect x="659.64" y="905.17" width="18.7" height="33.33" fill="#f00"/><rect x="678.33" y="939.51" width="18.7" height="245.49" fill="#0000d6"/><rect x="678.33" y="920.06" width="18.7" height="19.45" fill="#ffff00"/><rect x="678.33" y="902.05" width="18.7" height="18.01" fill="#f00"/><rect x="697.03" y="956.87" width="18.7" height="228.13" fill="#0000d6"/><rect x="697.03" y="930.65" width="18.7" height="26.22" fill="#ffff00"/><rect x="697.03" y="898.09" width="18.7" height="32.56" fill="#f00"/><rect x="715.73" y="950.5" width="18.7" height="234.5" fill="#0000d6"/><rect x="715.73" y="926.16" width="18.7" height="24.33" fill="#ffff00"/><rect x="715.73" y="892.48" width="18.7" height="33.69" fill="#f00"/><rect x="734.43" y="936.4" width="18.7" height="248.6" fill="#0000d6"/><rect x="734.43" y="906.04" width="18.7" height="30.37" fill="#ffff00"/><rect x="734.43" y="886.87" width="18.7" height="19.17" fill="#f00"/><rect x="753.12" y="930.23" width="18.7" height="254.77" fill="#0000d6"/><rect x="753.12" y="909.22" width="18.7" height="21.01" fill="#ffff00"/><rect x="753.12" y="878.76" width="18.7" height="30.46" fill="#f00"/><rect x="771.82" y="915.18" width="18.7" height="269.82" fill="#0000d6"/><rect x="771.82" y="892.53" width="18.7" height="22.65" fill="#ffff00"/><rect x="771.82" y="873.14" width="18.7" height="19.39" fill="#f00"/><rect x="790.52" y="937.16" width="18.7" height="247.84" fill="#0000d6"/><rect x="790.52" y="903.45" width="18.7" height="33.71" fill="#ffff00"/><rect x="790.52" y="870.02" width="18.7" height="33.43" fill="#f00"/><rect x="809.22" y="907.2" width="18.7" height="277.8" fill="#0000d6"/><rect x="809.22" y="886.79" width="18.7" height="20.41" fill="#ffff00"/><rect x="809.22" y="866.91" width="18.7" height="19.89" fill="#f00"/><rect x="827.92" y="897.99" width="18.7" height="287.01" fill="#0000d6"/><rect x="827.92" y="882.44" width="18.7" height="15.56" fill="#ffff00"/><rect x="827.92" y="862.82" width="18.7" height="19.62" fill="#f00"/><rect x="846.61" y="906.58" width="18.7" height="278.42" fill="#0000d6"/><rect x="846.61" y="887.96" width="18.7" height="18.62" fill="#ffff00"/><rect x="846.61" y="857.21" width="18.7" height="30.75" fill="#f00"/><rect x="865.31" y="904.18" width="18.7" height="280.82" fill="#0000d6"/><rect x="865.31" y="878.55" width="18.7" height="25.63" fill="#ffff00"/><rect x="865.31" y="851.6" width="18.7" height="26.95" fill="#f00"/><rect x="884.01" y="886.27" width="18.7" height="298.73" fill="#0000d6"/><rect x="884.01" y="853.24" width="18.7" height="33.03" fill="#ffff00"/><rect x="884.01" y="832.19" width="18.7" height="21.05" fill="#f00"/><rect x="902.71" y="850.32" width="18.7" height="334.68" fill="#0000d6"/><rect x="902.71" y="819.58" width="18.7" height="30.74" fill="#ffff00"/><rect x="902.71" y="799.49" width="18.7" height="20.1" fill="#f00"/><rect x="921.41" y="839.61" width="18.7" height="345.39" fill="#0000d6"/><rect x="921.41" y="814.68" width="18.7" height="24.94" fill="#ffff00"/><rect x="921.41" y="794.81" width="18.7" height="19.86" fill="#f00"/><rect x="940.1" y="832.56" width="18.7" height="352.44" fill="#0000d6"/><rect x="940.1" y="811.54" width="18.7" height="21.01" fill="#ffff00"/><rect x="940.1" y="790.14" width="18.7" height="21.41" fill="#f00"/><rect x="958.8" y="854.07" width="18.7" height="330.93" fill="#0000d6"/><rect x="958.8" y="819.18" width="18.7" height="34.89" fill="#ffff00"/><rect x="958.8" y="785.64" width="18.7" height="33.53" fill="#f00"/><rect x="977.5" y="841.03" width="18.7" height="343.97" fill="#0000d6"/><rect x="977.5" y="804.02" width="18.7" height="37.01" fill="#ffff00"/><rect x="977.5" y="781.16" width="18.7" height="22.87" fill="#f00"/><rect x="996.2" y="822.74" width="18.7" height="362.26" fill="#0000d6"/><rect x="996.2" y="798.48" width="18.7" height="24.25" fill="#ffff00"/><rect x="996.2" y="777.11" width="18.7" height="21.37" fill="#f00"/><rect x="1014.9" y="836.48" width="18.7" height="348.52" fill="#0000d6"/><rect x="1014.9" y="805.79" width="18.7" height="30.69" fill="#ffff00"/><rect x="1014.9" y="774.12" width="18.7" height="31.67" fill="#f00"/><rect x="1033.59" y="830.46" width="18.7" height="354.54" fill="#0000d6"/><rect x="1033.59" y="790.73" width="18.7" height="39.72" fill="#ffff00"/><rect x="1033.59" y="771.13" width="18.7" height="19.61" fill="#f00"/><rect x="1052.29" y="807.47" width="18.7" height="377.53" fill="#0000d6"/><rect x="1052.29" y="786.76" width="18.7" height="20.72" fill="#ffff00"/><rect x="1052.29" y="765.34" width="18.7" height="21.41" fill="#f00"/><rect x="1070.99" y="810.78" width="18.7" height="374.22" fill="#0000d6"/><rect x="1070.99" y="788.23" width="18.7" height="22.55" fill="#ffff00"/><rect x="1070.99" y="757.86" width="18.7" height="30.36" fill="#f00"/><rect x="1089.69" y="789.03" width="18.7" height="395.97" fill="#0000d6"/><rect x="1089.69" y="773.13" width="18.7" height="15.91" fill="#ffff00"/><rect x="1089.69" y="750.39" width="18.7" height="22.74" fill="#f00"/><rect x="1108.39" y="795.05" width="18.7" height="389.95" fill="#0000d6"/><rect x="1108.39" y="765.89" width="18.7" height="29.15" fill="#ffff00"/><rect x="1108.39" y="746.45" width="18.7" height="19.44" fill="#f00"/><rect x="1127.08" y="794.24" width="18.7" height="390.76" fill="#0000d6"/><rect x="1127.08" y="764.6" width="18.7" height="29.63" fill="#ffff00"/><rect x="1127.08" y="742.71" width="18.7" height="21.89" fill="#f00"/><rect x="1145.78" y="788.19" width="18.7" height="396.81" fill="#0000d6"/><rect x="1145.78" y="762.41" width="18.7" height="25.78" fill="#ffff00"/><rect x="1145.78" y="738.46" width="18.7" height="23.95" fill="#f00"/><rect x="1164.48" y="792.77" width="18.7" height="392.23" fill="#0000d6"/><rect x="1164.48" y="766.2" width="18.7" height="26.58" fill="#ffff00"/><rect x="1164.48" y="732.85" width="18.7" height="33.35" fill="#f00"/><rect x="1183.18" y="790.96" width="18.7" height="394.04" fill="#0000d6"/><rect x="1183.18" y="754.44" width="18.7" height="36.53" fill="#ffff00"/><rect x="1183.18" y="727.24" width="18.7" height="27.19" fill="#f00"/><rect x="1201.88" y="761.69" width="18.7" height="423.31" fill="#0000d6"/><rect x="1201.88" y="743.68" width="18.7" height="18.01" fill="#ffff00"/><rect x="1201.88" y="722.76" width="18.7" height="20.93" fill="#f00"/><rect x="1220.57" y="786.81" width="18.7" height="398.19" fill="#0000d6"/><rect x="1220.57" y="751.55" width="18.7" height="35.26" fill="#ffff00"/><rect x="1220.57" y="719.02" width="18.7" height="32.53" fill="#f00"/><rect x="1239.27" y="756.2" width="18.7" height="428.8" fill="#0000d6"/><rect x="1239.27" y="737.27" width="18.7" height="18.93" fill="#ffff00"/><rect x="1239.27" y="715.28" width="18.7" height="21.99" fill="#f00"/><rect x="1257.97" y="780.86" width="18.7" height="404.14" fill="#0000d6"/><rect x="1257.97" y="742.41" width="18.7" height="38.45" fill="#ffff00"/><rect x="1257.97" y="712.58" width="18.7" height="29.83" fill="#f00"/><rect x="1276.67" y="769.81" width="18.7" height="415.19" fill="#0000d6"/><rect x="1276.67" y="731.1" width="18.7" height="38.7" fill="#ffff00"/><rect x="1276.67" y="709.96" width="18.7" height="21.15" fill="#f00"/><rect x="1295.36" y="769.52" width="18.7" height="415.48" fill="#0000d6"/><rect x="1295.36" y="739.83" width="18.7" height="29.69" fill="#ffff00"/><rect x="1295.36" y="707.72" width="18.7" height="32.12" fill="#f00"/><rect x="1314.06" y="748.04" width="18.7" height="436.96" fill="#0000d6"/><rect x="1314.06" y="731.34" width="18.7" height="16.7" fill="#ffff00"/><rect x="1314.06" y="706.6" width="18.7" height="24.74" fill="#f00"/><rect x="1332.76" y="763.12" width="18.7" height="421.88" fill="#0000d6"/><rect x="1332.76" y="724.09" width="18.7" height="39.03" fill="#ffff00"/><rect x="1332.76" y="705.47" width="18.7" height="18.62" fill="#f00"/><rect x="1351.46" y="755.89" width="18.7" height="429.11" fill="#0000d6"/><rect x="1351.46" y="723.57" width="18.7" height="32.32" fill="#ffff00"/><rect x="1351.46" y="701.76" width="18.7" height="21.81" fill="#f00"/><rect x="1370.16" y="753.68" width="18.7" height="431.32" fill="#0000d6"/><rect x="1370.16" y="718.26" width="18.7" height="35.42" fill="#ffff00"/><rect x="1370.16" y="696.15" width="18.7" height="22.11" fill="#f00"/><rect x="1388.85" y="739.71" width="18.7" height="445.29" fill="#0000d6"/><rect x="1388.85" y="718.08" width="18.7" height="21.63" fill="#ffff00"/><rect x="1388.85" y="690.54" width="18.7" height="27.54" fill="#f00"/><rect x="1407.55" y="740.16" width="18.7" height="444.84" fill="#0000d6"/><rect x="1407.55" y="707.43" width="18.7" height="32.73" fill="#ffff00"/><rect x="1407.55" y="686.62" width="18.7" height="20.81" fill="#f00"/><rect x="1426.25" y="721.92" width="18.7" height="463.08" fill="#0000d6"/><rect x="1426.25" y="701.98" width="18.7" height="19.94" fill="#ffff00"/><rect x="1426.25" y="682.88" width="18.7" height="19.1" fill="#f00"/><rect x="1444.95" y="742.94" width="18.7" height="442.06" fill="#0000d6"/><rect x="1444.95" y="706.78" width="18.7" height="36.16" fill="#ffff00"/><rect x="1444.95" y="679.83" width="18.7" height="26.95" fill="#f00"/><rect x="1463.65" y="728.19" width="18.7" height="456.81" fill="#0000d6"/><rect x="1463.65" y="706.91" width="18.7" height="21.29" fill="#ffff00"/><rect x="1463.65" y="679.08" width="18.7" height="27.83" fill="#f00"/><rect x="1482.34" y="730.31" width="18.7" height="454.69" fill="#0000d6"/><rect x="1482.34" y="711.01" width="18.7" height="19.3" fill="#ffff00"/><rect x="1482.34" y="678.33" width="18.7" height="32.68" fill="#f00"/><rect x="1501.04" y="713.52" width="18.7" height="471.48" fill="#0000d6"/><rect x="1501.04" y="692.52" width="18.7" height="21" fill="#ffff00"/><rect x="1501.04" y="674.26" width="18.7" height="18.27" fill="#f00"/><rect x="1519.74" y="708.23" width="18.7" height="476.77" fill="#0000d6"/><rect x="1519.74" y="692.66" width="18.7" height="15.57" fill="#ffff00"/><rect x="1519.74" y="667.53" width="18.7" height="25.13" fill="#f00"/><rect x="1538.44" y="705.21" width="18.7" height="479.79" fill="#0000d6"/><rect x="1538.44" y="681.62" width="18.7" height="23.59" fill="#ffff00"/><rect x="1538.44" y="660.8" width="18.7" height="20.82" fill="#f00"/><rect x="1557.14" y="690.84" width="18.7" height="494.16" fill="#0000d6"/><rect x="1557.14" y="673.42" width="18.7" height="17.42" fill="#ffff00"/><rect x="1557.14" y="646.26" width="18.7" height="27.15" fill="#f00"/><rect x="1575.83" y="692.72" width="18.7" height="492.28" fill="#0000d6"/><rect x="1575.83" y="655.56" width="18.7" height="37.16" fill="#ffff00"/><rect x="1575.83" y="631.76" width="18.7" height="23.79" fill="#f00"/><rect x="1594.53" y="684.84" width="18.7" height="500.16" fill="#0000d6"/><rect x="1594.53" y="653.76" width="18.7" height="31.08" fill="#ffff00"/><rect x="1594.53" y="620.07" width="18.7" height="33.69" fill="#f00"/><rect x="1613.23" y="666.97" width="18.7" height="518.03" fill="#0000d6"/><rect x="1613.23" y="637.77" width="18.7" height="29.2" fill="#ffff00"/><rect x="1613.23" y="608.71" width="18.7" height="29.06" fill="#f00"/><rect x="1631.93" y="634.52" width="18.7" height="550.48" fill="#0000d6"/><rect x="1631.93" y="619.61" width="18.7" height="14.91" fill="#ffff00"/><rect x="1631.93" y="599.36" width="18.7" height="20.25" fill="#f00"/><rect x="1650.62" y="645.96" width="18.7" height="539.04" fill="#0000d6"/><rect x="1650.62" y="608.3" width="18.7" height="37.67" fill="#ffff00"/><rect x="1650.62" y="590.01" width="18.7" height="18.29" fill="#f00"/><rect x="1669.32" y="648.91" width="18.7" height="536.09" fill="#0000d6"/><rect x="1669.32" y="609.88" width="18.7" height="39.03" fill="#ffff00"/><rect x="1669.32" y="580.66" width="18.7" height="29.22" fill="#f00"/><rect x="1688.02" y="620.2" width="18.7" height="564.8" fill="#0000d6"/><rect x="1688.02" y="589.66" width="18.7" height="30.54" fill="#ffff00"/><rect x="1688.02" y="571.32" width="18.7" height="18.34" fill="#f00"/><rect x="1706.72" y="619.07" width="18.7" height="565.93" fill="#0000d6"/><rect x="1706.72" y="586.08" width="18.7" height="32.99" fill="#ffff00"/><rect x="1706.72" y="560.36" width="18.7" height="25.72" fill="#f00"/><rect x="1725.42" y="612.23" width="18.7" height="572.77" fill="#0000d6"/><rect x="1725.42" y="572.24" width="18.7" height="39.98" fill="#ffff00"/><rect x="1725.42" y="549.14" width="18.7" height="23.1" fill="#f00"/><rect x="1744.11" y="583.07" width="18.7" height="601.93" fill="#0000d6"/><rect x="1744.11" y="554.87" width="18.7" height="28.2" fill="#ffff00"/><rect x="1744.11" y="535.67" width="18.7" height="19.2" fill="#f00"/><rect x="1762.81" y="579.5" width="18.7" height="605.5" fill="#0000d6"/><rect x="1762.81" y="542.09" width="18.7" height="37.41" fill="#ffff00"/><rect x="1762.81" y="512.3" width="18.7" height="29.79" fill="#f00"/><rect x="1781.51" y="551.17" width="18.7" height="633.83" fill="#0000d6"/><rect x="1781.51" y="518.88" width="18.7" height="32.3" fill="#ffff00"/><rect x="1781.51" y="489.08" width="18.7" height="29.79" fill="#f00"/><rect x="1800.21" y="537.62" width="18.7" height="647.38" fill="#0000d6"/><rect x="1800.21" y="499.83" width="18.7" height="37.79" fill="#ffff00"/><rect x="1800.21" y="469.14" width="18.7" height="30.69" fill="#f00"/><rect x="1818.91" y="504.86" width="18.7" height="680.14" fill="#0000d6"/><rect x="1818.91" y="473.04" width="18.7" height="31.81" fill="#ffff00"/><rect x="1818.91" y="449.41" width="18.7" height="23.63" fill="#f00"/><rect x="1837.6" y="501.06" width="18.7" height="683.94" fill="#0000d6"/><rect x="1837.6" y="464.41" width="18.7" height="36.65" fill="#ffff00"/><rect x="1837.6" y="432" width="18.7" height="32.41" fill="#f00"/><rect x="1856.3" y="370" width="18.7" height="815" fill="#0000d6"/><rect x="1856.3" y="325" width="18.7" height="45" fill="#ffff00"/><rect x="1856.3" y="290" width="18.7" height="35" fill="#f00"/><path d="M80,1185V1177.84H98.7V1185M98.7,1185V1177.53H117.4V1185M117.4,1185V1177.22H136.09V1185M136.09,1185V1176.91H154.79V1185M154.79,1185V1176.6H173.49V1185M173.49,1185V1176.29H192.19V1185M192.19,1185V1174.87H210.89V1185M210.89,1185V1159.77H229.58V1185M210.89,1167.34h18.7M210.89,1174.91h18.7M229.58,1185V1141.07H248.28V1185M229.58,1154.25h18.7M229.58,1167.43h18.7M248.28,1185V1116.49H266.98V1185M248.28,1137.05h18.7M248.28,1157.6h18.7M266.98,1185V1097.89H285.68V1185M266.98,1118.85h18.7M266.98,1144.98h18.7M285.68,1185V1091.66H304.38V1185M285.68,1119.66h18.7M285.68,1147.66h18.7M304.38,1185V1070.79H323.07V1185M304.38,1090.29h18.7M304.38,1112.18h18.7M323.07,1185V1047.76H341.77V1185M323.07,1067.21h18.7M323.07,1102.26h18.7M341.77,1185V1045.89H360.47V1185M341.77,1074.98h18.7M341.77,1090.07h18.7M360.47,1185V1042.55H379.17V1185M360.47,1076.26h18.7M360.47,1115.34h18.7M379.17,1185V1037.87H397.86V1185M379.17,1066.33h18.7M379.17,1096.34h18.7M397.86,1185V1032.6H416.56V1185M397.86,1053.12h18.7M397.86,1067.51h18.7M416.56,1185V1026.36H435.26V1185M416.56,1052.82h18.7M416.56,1068.37h18.7M435.26,1185V995.78H453.96V1185M435.26,1016.82h18.7M435.26,1037.12h18.7M453.96,1185V976.69H472.66V1185M453.96,995.17h18.7M453.96,1021.24h18.7M472.66,1185V968H491.35V1185M472.66,993.05h18.7M472.66,1028.95h18.7M491.35,1185V964.47H510.05V1185M491.35,990.78h18.7M491.35,1021.43h18.7M510.05,1185V950.45H528.75V1185M510.05,976.45h18.7M510.05,1007.67h18.7M528.75,1185V936.43H547.45V1185M528.75,961.74h18.7M528.75,982.98h18.7M547.45,1185V928.7H566.15V1185M547.45,962.66h18.7M547.45,1002.55h18.7M566.15,1185V921.69H584.84V1185M566.15,953.13h18.7M566.15,985.54h18.7M584.84,1185V917.63H603.54V1185M584.84,940.68h18.7M584.84,960.65h18.7M603.54,1185V914.52H622.24V1185M603.54,937.14h18.7M603.54,952.97h18.7M622.24,1185V911.4H640.94V1185M622.24,941.66h18.7M622.24,966.07h18.7M640.94,1185V908.29H659.64V1185M640.94,939.83h18.7M640.94,963.88h18.7M659.64,1185V905.17H678.33V1185M659.64,938.5h18.7M659.64,974.53h18.7M678.33,1185V902.05H697.03V1185M678.33,920.06h18.7M678.33,939.51h18.7M697.03,1185V898.09H715.73V1185M697.03,930.65h18.7M697.03,956.87h18.7M715.73,1185V892.48H734.43V1185M715.73,926.16h18.7M715.73,950.5h18.7M734.43,1185V886.87H753.12V1185M734.43,906.04h18.7M734.43,936.4h18.7M753.12,1185V878.76H771.82V1185M753.12,909.22h18.7M753.12,930.23h18.7M771.82,1185V873.14H790.52V1185M771.82,892.53h18.7M771.82,915.18h18.7M790.52,1185V870.02H809.22V1185M790.52,903.45h18.7M790.52,937.16h18.7M809.22,1185V866.91H827.92V1185M809.22,886.79h18.7M809.22,907.2h18.7M827.92,1185V862.82H846.61V1185M827.92,882.44h18.7M827.92,897.99h18.7M846.61,1185V857.21H865.31V1185M846.61,887.96h18.7M846.61,906.58h18.7M865.31,1185V851.6H884.01V1185M865.31,878.55h18.7M865.31,904.18h18.7M884.01,1185V832.19H902.71V1185M884.01,853.24h18.7M884.01,886.27h18.7M902.71,1185V799.49H921.41V1185M902.71,819.58h18.7M902.71,850.32h18.7M921.41,1185V794.81H940.1V1185M921.41,814.68h18.7M921.41,839.61h18.7M940.1,1185V790.14H958.8V1185M940.1,811.54h18.7M940.1,832.56h18.7M958.8,1185V785.64H977.5V1185M958.8,819.18h18.7M958.8,854.07h18.7M977.5,1185V781.16H996.2V1185M977.5,804.02h18.7M977.5,841.03h18.7M996.2,1185V777.11H1014.9V1185M996.2,798.48h18.7M996.2,822.74h18.7M1014.9,1185V774.12H1033.59V1185M1014.9,805.79h18.7M1014.9,836.48h18.7M1033.59,1185V771.13H1052.29V1185M1033.59,790.73h18.7M1033.59,830.46h18.7M1052.29,1185V765.34H1070.99V1185M1052.29,786.76h18.7M1052.29,807.47h18.7M1070.99,1185V757.86H1089.69V1185M1070.99,788.23h18.7M1070.99,810.78h18.7M1089.69,1185V750.39H1108.39V1185M1089.69,773.13h18.7M1089.69,789.03h18.7M1108.39,1185V746.45H1127.08V1185M1108.39,765.89h18.7M1108.39,795.05h18.7M1127.08,1185V742.71H1145.78V1185M1127.08,764.6h18.7M1127.08,794.24h18.7M1145.78,1185V738.46H1164.48V1185M1145.78,762.41h18.7M1145.78,788.19h18.7M1164.48,1185V732.85H1183.18V1185M1164.48,766.2h18.7M1164.48,792.77h18.7M1183.18,1185V727.24H1201.88V1185M1183.18,754.44h18.7M1183.18,790.96h18.7M1201.88,1185V722.76H1220.57V1185M1201.88,743.68h18.7M1201.88,761.69h18.7M1220.57,1185V719.02H1239.27V1185M1220.57,751.55h18.7M1220.57,786.81h18.7M1239.27,1185V715.28H1257.97V1185M1239.27,737.27h18.7M1239.27,756.2h18.7M1257.97,1185V712.58H1276.67V1185M1257.97,742.41h18.7M1257.97,780.86h18.7M1276.67,1185V709.96H1295.36V1185M1276.67,731.1h18.7M1276.67,769.81h18.7M1295.36,1185V707.72H1314.06V1185M1295.36,739.83h18.7M1295.36,769.52h18.7M1314.06,1185V706.6H1332.76V1185M1314.06,731.34h18.7M1314.06,748.04h18.7M1332.76,1185V705.47H1351.46V1185M1332.76,724.09h18.7M1332.76,763.12h18.7M1351.46,1185V701.76H1370.16V1185M1351.46,723.57h18.7M1351.46,755.89h18.7M1370.16,1185V696.15H1388.85V1185M1370.16,718.26h18.7M1370.16,753.68h18.7M1388.85,1185V690.54H1407.55V1185M1388.85,718.08h18.7M1388.85,739.71h18.7M1407.55,1185V686.62H1426.25V1185M1407.55,707.43h18.7M1407.55,740.16h18.7M1426.25,1185V682.88H1444.95V1185M1426.25,701.98h18.7M1426.25,721.92h18.7M1444.95,1185V679.83H1463.65V1185M1444.95,706.78h18.7M1444.95,742.94h18.7M1463.65,1185V679.08H1482.34V1185M1463.65,706.91h18.7M1463.65,728.19h18.7M1482.34,1185V678.33H1501.04V1185M1482.34,711.01h18.7M1482.34,730.31h18.7M1501.04,1185V674.26H1519.74V1185M1501.04,692.52h18.7M1501.04,713.52h18.7M1519.74,1185V667.53H1538.44V1185M1519.74,692.66h18.7M1519.74,708.23h18.7M1538.44,1185V660.8H1557.14V1185M1538.44,681.62h18.7M1538.44,705.21h18.7M1557.14,1185V646.26H1575.83V1185M1557.14,673.42h18.7M1557.14,690.84h18.7M1575.83,1185V631.76H1594.53V1185M1575.83,655.56h18.7M1575.83,692.72h18.7M1594.53,1185V620.07H1613.23V1185M1594.53,653.76h18.7M1594.53,684.84h18.7M1613.23,1185V608.71H1631.93V1185M1613.23,637.77h18.7M1613.23,666.97h18.7M1631.93,1185V599.36H1650.63V1185M1631.93,619.61h18.7M1631.93,634.52h18.7M1650.62,1185V590.01H1669.32V1185M1650.62,608.3h18.7M1650.62,645.96h18.7M1669.32,1185V580.66H1688.02V1185M1669.32,609.88h18.7M1669.32,648.91h18.7M1688.02,1185V571.32H1706.72V1185M1688.02,589.66h18.7M1688.02,620.2h18.7M1706.72,1185V560.36H1725.42V1185M1706.72,586.08h18.7M1706.72,619.07h18.7M1725.42,1185V549.14H1744.11V1185M1725.42,572.24h18.7M1725.42,612.23h18.7M1744.11,1185V535.67H1762.81V1185M1744.11,554.87h18.7M1744.11,583.07h18.7M1762.81,1185V512.3H1781.51V1185M1762.81,542.09h18.7M1762.81,579.5h18.7M1781.51,1185V489.08H1800.21V1185M1781.51,518.88h18.7M1781.51,551.17h18.7M1800.21,1185V469.14H1818.91V1185M1800.21,499.83h18.7M1800.21,537.62h18.7M1818.91,1185V449.41H1837.6V1185M1818.91,473.04h18.7M1818.91,504.86h18.7M1837.6,1185V432H1856.3V1185M1837.6,464.41h18.7M1837.6,501.06h18.7M1856.3,1185V290H1875V1185M1856.3,325h18.7M1856.3,370h18.7" fill="none" stroke="#000" stroke-width="4.6"/><path d="M80,1185H1875" stroke="#000" stroke-width="5"/></g><rect x="57.2" y="717.2" width="17.8" height="17.8" fill="#f00" stroke="#000" stroke-width="3.8"/><text x="85.3" y="734" font-size="26.3">Unmapped</text><rect x="57.2" y="744.2" width="17.8" height="17.8" fill="#ff0" stroke="#000" stroke-width="3.8"/><text x="85.3" y="763.6" font-size="26.3">Multi–map</text><rect x="57.2" y="771.7" width="17.8" height="17.8" fill="#00f" stroke="#000" stroke-width="3.8"/><text x="85.3" y="792.8" font-size="26.3">Uniquely–map</text><g transform="translate(420,690) scale(0.17428)"><rect x="192" y="55" width="1526" height="1270" fill="#fff" stroke="#a9a9a9" stroke-width="5"/><path d="M172,103H192" stroke="#a9a9a9" stroke-width="4"/><path d="M172,300H192" stroke="#a9a9a9" stroke-width="4"/><path d="M172,495H192" stroke="#a9a9a9" stroke-width="4"/><path d="M172,690H192" stroke="#a9a9a9" stroke-width="4"/><path d="M172,885H192" stroke="#a9a9a9" stroke-width="4"/><path d="M172,1080H192" stroke="#a9a9a9" stroke-width="4"/><path d="M172,1275H192" stroke="#a9a9a9" stroke-width="4"/><path d="M248,1325V1344" stroke="#a9a9a9" stroke-width="4"/><path d="M483,1325V1344" stroke="#a9a9a9" stroke-width="4"/><path d="M718,1325V1344" stroke="#a9a9a9" stroke-width="4"/><path d="M955,1325V1344" stroke="#a9a9a9" stroke-width="4"/><path d="M1190,1325V1344" stroke="#a9a9a9" stroke-width="4"/><path d="M1425,1325V1344" stroke="#a9a9a9" stroke-width="4"/><path d="M1662,1325V1344" stroke="#a9a9a9" stroke-width="4"/><path d="M192,1272L192,1240L197.89,1233.09L203.78,1223.64L209.68,1212L215.57,1198.54L221.46,1183.59L227.35,1167.51L233.24,1150.1L239.14,1129.13L245.03,1104.87L250.92,1077.94L256.81,1048.98L262.7,1018.61L268.59,987.47L274.49,955.07L280.38,919.51L286.27,881.49L292.16,841.83L298.05,801.33L303.95,760.81L309.84,721.07L315.73,680.96L321.62,639.23L327.51,596.97L333.41,555.26L339.3,515.17L345.19,477.77L351.08,444.08L356.97,411.83L362.86,380.71L368.76,352.15L374.65,327.6L380.54,308.49L386.43,292.48L392.32,277.87L398.22,265.4L404.11,255.86L410,250L415.89,246.45L421.78,243.67L427.68,242.15L433.57,242.06L439.46,242.32L445.35,242.67L451.24,242.94L457.14,242.81L463.03,240.52L468.92,236.02L474.81,229.86L480.7,222.56L486.59,214.64L492.49,206.07L498.38,193.23L504.27,177.43L510.16,161.2L516.05,147.05L521.95,137.12L527.84,128.32L533.73,120.22L539.62,113.88L545.51,110.37L551.41,110.46L557.3,113.18L563.19,117.87L569.08,123.96L574.97,134.89L580.86,155.88L586.76,184.23L592.65,217.07L598.54,251.54L604.43,288.16L610.32,332.27L616.22,381.4L622.11,432.74L628,483.44L633.89,531.89L639.78,580.59L645.68,629.68L651.57,679.06L657.46,728.61L663.35,778.83L669.24,830.96L675.14,881.74L681.03,927.54L686.92,969.46L692.81,1008.33L698.7,1043.03L704.59,1074.14L710.49,1104.17L716.38,1131.92L722.27,1156.06L728.16,1175.24L734.05,1189.52L739.95,1202.31L745.84,1213.79L751.73,1223.85L757.62,1232.4L763.51,1239.34L769.41,1244.57L775.3,1248.68L781.19,1252.55L787.08,1256.1L792.97,1259.2L798.86,1261.75L804.76,1263.63L810.65,1264.74L816.54,1264.96L822.43,1264.05L828.32,1262.13L834.22,1259.43L840.11,1256.16L846,1252.54L851.89,1248.69L857.78,1243.39L863.68,1236.5L869.57,1228.37L875.46,1219.35L881.35,1209.79L887.24,1200.05L893.14,1190.48L899.03,1181.42L904.92,1172.55L910.81,1162.94L916.7,1152.92L922.59,1142.83L928.49,1133.01L934.38,1123.81L940.27,1115.58L946.16,1108.65L952.05,1103.24L957.95,1098.19L963.84,1093.27L969.73,1088.69L975.62,1084.67L981.51,1081.41L987.41,1079.14L993.3,1078.06L999.19,1078.36L1005.08,1079.97L1010.97,1082.68L1016.86,1086.28L1022.76,1090.56L1028.65,1095.31L1034.54,1100.32L1040.43,1105.37L1046.32,1111.43L1052.22,1119.05L1058.11,1127.84L1064,1137.45L1069.89,1147.5L1075.78,1157.6L1081.68,1167.4L1087.57,1176.52L1093.46,1184.97L1099.35,1193.96L1105.24,1203.16L1111.14,1212.02L1117.03,1220.03L1122.92,1226.65L1128.81,1231.33L1134.7,1234.39L1140.59,1237.15L1146.49,1239.47L1152.38,1241.14L1158.27,1241.95L1164.16,1241.74L1170.05,1240.58L1175.95,1238.59L1181.84,1235.93L1187.73,1232.74L1193.62,1229.16L1199.51,1225.32L1205.41,1220.12L1211.3,1212.27L1217.19,1202.4L1223.08,1191.15L1228.97,1179.16L1234.86,1167.07L1240.76,1155.51L1246.65,1145.13L1252.54,1136.32L1258.43,1127.62L1264.32,1118.94L1270.22,1110.65L1276.11,1103.06L1282,1096.54L1287.89,1091.42L1293.78,1087.65L1299.68,1084.12L1305.57,1081.09L1311.46,1078.93L1317.35,1078.01L1323.24,1078.68L1329.14,1080.83L1335.03,1084.1L1340.92,1088.14L1346.81,1092.57L1352.7,1097.27L1358.59,1103.58L1364.49,1111.46L1370.38,1120.52L1376.27,1130.35L1382.16,1140.59L1388.05,1150.83L1393.95,1160.68L1399.84,1169.76L1405.73,1178.56L1411.62,1187.76L1417.51,1197.11L1423.41,1206.35L1429.3,1215.24L1435.19,1223.52L1441.08,1230.95L1446.97,1237.27L1452.86,1242.42L1458.76,1247.41L1464.65,1252.3L1470.54,1256.91L1476.43,1261.07L1482.32,1264.63L1488.22,1267.41L1494.11,1269.26L1500,1270L1505.89,1270.13L1511.78,1270.26L1517.68,1270.38L1523.57,1270.49L1529.46,1270.6L1535.35,1270.7L1541.24,1270.8L1547.14,1270.9L1553.03,1270.99L1558.92,1271.07L1564.81,1271.15L1570.7,1271.23L1576.59,1271.3L1582.49,1271.36L1588.38,1271.43L1594.27,1271.49L1600.16,1271.54L1606.05,1271.59L1611.95,1271.64L1617.84,1271.69L1623.73,1271.73L1629.62,1271.76L1635.51,1271.8L1641.41,1271.83L1647.3,1271.86L1653.19,1271.88L1659.08,1271.9L1664.97,1271.92L1670.86,1271.94L1676.76,1271.96L1682.65,1271.97L1688.54,1271.98L1694.43,1271.99L1700.32,1271.99L1706.22,1272L1712.11,1272L1718,1272L1718,1272Z" fill="#de9a3c"/><path d="M192,1272L192,1272L197.89,1271.41L203.78,1270.64L209.68,1269.69L215.57,1268.6L221.46,1267.37L227.35,1266.02L233.24,1264.56L239.14,1263.02L245.03,1261.41L250.92,1259.73L256.81,1257.88L262.7,1255.8L268.59,1253.49L274.49,1250.98L280.38,1248.28L286.27,1245.4L292.16,1242.36L298.05,1239.17L303.95,1235.85L309.84,1232.42L315.73,1228.89L321.62,1225.27L327.51,1221.58L333.41,1217.78L339.3,1213.71L345.19,1209.36L351.08,1204.76L356.97,1199.92L362.86,1194.88L368.76,1189.67L374.65,1184.29L380.54,1178.79L386.43,1173.18L392.32,1167.49L398.22,1161.75L404.11,1155.91L410,1149.81L415.89,1143.48L421.78,1136.95L427.68,1130.25L433.57,1123.41L439.46,1116.47L445.35,1109.45L451.24,1102.39L457.14,1095.31L463.03,1088.27L468.92,1081.27L474.81,1074.26L480.7,1067.05L486.59,1059.68L492.49,1052.23L498.38,1044.72L504.27,1037.23L510.16,1029.8L516.05,1022.48L521.95,1015.33L527.84,1008.39L533.73,1001.73L539.62,995.39L545.51,989.21L551.41,982.97L557.3,976.76L563.19,970.64L569.08,964.72L574.97,959.07L580.86,953.77L586.76,948.91L592.65,944.57L598.54,940.82L604.43,937.57L610.32,934.39L616.22,931.35L622.11,928.51L628,925.94L633.89,923.73L639.78,921.92L645.68,920.61L651.57,919.84L657.46,919.3L663.35,918.84L669.24,918.45L675.14,918.11L681.03,917.82L686.92,917.55L692.81,917.3L698.7,917.06L704.59,916.82L710.49,916.62L716.38,916.46L722.27,916.32L728.16,916.18L734.05,916.04L739.95,915.88L745.84,915.68L751.73,915.44L757.62,915.14L763.51,914.7L769.41,913.85L775.3,912.63L781.19,911.1L787.08,909.34L792.97,907.41L798.86,905.39L804.76,903.19L810.65,900.56L816.54,897.52L822.43,894.13L828.32,890.44L834.22,886.49L840.11,882.33L846,878.01L851.89,873.54L857.78,868.59L863.68,863.12L869.57,857.21L875.46,850.93L881.35,844.38L887.24,837.62L893.14,830.73L899.03,823.81L904.92,816.92L910.81,810.14L916.7,803.57L922.59,797.23L928.49,790.89L934.38,784.51L940.27,778.1L946.16,771.68L952.05,765.26L957.95,758.86L963.84,752.49L969.73,746.17L975.62,739.92L981.51,733.73L987.41,727.64L993.3,721.66L999.19,715.8L1005.08,710L1010.97,704.17L1016.86,698.36L1022.76,692.6L1028.65,686.93L1034.54,681.4L1040.43,676.04L1046.32,670.89L1052.22,666L1058.11,661.41L1064,657.05L1069.89,652.73L1075.78,648.53L1081.68,644.57L1087.57,640.96L1093.46,637.81L1099.35,635.24L1105.24,633.04L1111.14,630.9L1117.03,629.03L1122.92,627.66L1128.81,627.02L1134.7,627.16L1140.59,627.78L1146.49,628.77L1152.38,630.06L1158.27,631.54L1164.16,633.49L1170.05,636.73L1175.95,641.08L1181.84,646.28L1187.73,652.08L1193.62,658.23L1199.51,664.49L1205.41,671.04L1211.3,678.36L1217.19,686.38L1223.08,695L1228.97,704.17L1234.86,713.78L1240.76,723.77L1246.65,734.05L1252.54,744.64L1258.43,756.13L1264.32,768.48L1270.22,781.49L1276.11,794.96L1282,808.67L1287.89,822.44L1293.78,836.04L1299.68,849.29L1305.57,862.37L1311.46,875.66L1317.35,889.04L1323.24,902.41L1329.14,915.66L1335.03,928.68L1340.92,941.36L1346.81,953.6L1352.7,965.33L1358.59,976.81L1364.49,988.06L1370.38,999.08L1376.27,1009.83L1382.16,1020.29L1388.05,1030.45L1393.95,1040.27L1399.84,1049.74L1405.73,1058.98L1411.62,1068.1L1417.51,1077.03L1423.41,1085.7L1429.3,1094.06L1435.19,1102.04L1441.08,1109.57L1446.97,1116.61L1452.86,1123.12L1458.76,1129.37L1464.65,1135.4L1470.54,1141.16L1476.43,1146.63L1482.32,1151.78L1488.22,1156.58L1494.11,1161L1500,1165L1505.89,1168.63L1511.78,1171.99L1517.68,1175.12L1523.57,1178.05L1529.46,1180.84L1535.35,1183.52L1541.24,1186.13L1547.14,1188.73L1553.03,1191.34L1558.92,1193.91L1564.81,1196.43L1570.7,1198.88L1576.59,1201.28L1582.49,1203.59L1588.38,1205.83L1594.27,1207.99L1600.16,1210.06L1606.05,1212.02L1611.95,1213.89L1617.84,1215.68L1623.73,1217.42L1629.62,1219.12L1635.51,1220.8L1641.41,1222.49L1647.3,1224.2L1653.19,1225.95L1659.08,1227.7L1664.97,1229.44L1670.86,1231.18L1676.76,1232.92L1682.65,1234.66L1688.54,1236.39L1694.43,1238.12L1700.32,1239.84L1706.22,1241.57L1712.11,1243.29L1718,1245L1718,1272Z" fill="#9300c9"/><path d="M192,1272L192,1272L197.89,1271.41L203.78,1270.64L209.68,1269.69L215.57,1268.6L221.46,1267.37L227.35,1266.02L233.24,1264.56L239.14,1263.02L245.03,1261.41L250.92,1259.73L256.81,1257.88L262.7,1255.8L268.59,1253.49L274.49,1250.98L280.38,1248.28L286.27,1245.4L292.16,1242.36L298.05,1239.17L303.95,1235.85L309.84,1232.42L315.73,1228.89L321.62,1225.27L327.51,1221.58L333.41,1217.78L339.3,1213.71L345.19,1209.36L351.08,1204.76L356.97,1199.92L362.86,1194.88L368.76,1189.67L374.65,1184.29L380.54,1178.79L386.43,1173.18L392.32,1167.49L398.22,1161.75L404.11,1155.91L410,1149.81L415.89,1143.48L421.78,1136.95L427.68,1130.25L433.57,1123.41L439.46,1116.47L445.35,1109.45L451.24,1102.39L457.14,1095.31L463.03,1088.27L468.92,1081.27L474.81,1074.26L480.7,1067.05L486.59,1059.68L492.49,1052.23L498.38,1044.72L504.27,1037.23L510.16,1029.8L516.05,1022.48L521.95,1015.33L527.84,1008.39L533.73,1001.73L539.62,995.39L545.51,989.21L551.41,982.97L557.3,976.76L563.19,970.64L569.08,964.72L574.97,959.07L580.86,953.77L586.76,948.91L592.65,944.57L598.54,940.82L604.43,937.57L610.32,934.39L616.22,931.35L622.11,928.51L628,925.94L633.89,923.73L639.78,921.92L645.68,920.61L651.57,919.84L657.46,919.3L663.35,918.84L669.24,918.45L675.14,918.11L681.03,927.54L686.92,969.46L692.81,1008.33L698.7,1043.03L704.59,1074.14L710.49,1104.17L716.38,1131.92L722.27,1156.06L728.16,1175.24L734.05,1189.52L739.95,1202.31L745.84,1213.79L751.73,1223.85L757.62,1232.4L763.51,1239.34L769.41,1244.57L775.3,1248.68L781.19,1252.55L787.08,1256.1L792.97,1259.2L798.86,1261.75L804.76,1263.63L810.65,1264.74L816.54,1264.96L822.43,1264.05L828.32,1262.13L834.22,1259.43L840.11,1256.16L846,1252.54L851.89,1248.69L857.78,1243.39L863.68,1236.5L869.57,1228.37L875.46,1219.35L881.35,1209.79L887.24,1200.05L893.14,1190.48L899.03,1181.42L904.92,1172.55L910.81,1162.94L916.7,1152.92L922.59,1142.83L928.49,1133.01L934.38,1123.81L940.27,1115.58L946.16,1108.65L952.05,1103.24L957.95,1098.19L963.84,1093.27L969.73,1088.69L975.62,1084.67L981.51,1081.41L987.41,1079.14L993.3,1078.06L999.19,1078.36L1005.08,1079.97L1010.97,1082.68L1016.86,1086.28L1022.76,1090.56L1028.65,1095.31L1034.54,1100.32L1040.43,1105.37L1046.32,1111.43L1052.22,1119.05L1058.11,1127.84L1064,1137.45L1069.89,1147.5L1075.78,1157.6L1081.68,1167.4L1087.57,1176.52L1093.46,1184.97L1099.35,1193.96L1105.24,1203.16L1111.14,1212.02L1117.03,1220.03L1122.92,1226.65L1128.81,1231.33L1134.7,1234.39L1140.59,1237.15L1146.49,1239.47L1152.38,1241.14L1158.27,1241.95L1164.16,1241.74L1170.05,1240.58L1175.95,1238.59L1181.84,1235.93L1187.73,1232.74L1193.62,1229.16L1199.51,1225.32L1205.41,1220.12L1211.3,1212.27L1217.19,1202.4L1223.08,1191.15L1228.97,1179.16L1234.86,1167.07L1240.76,1155.51L1246.65,1145.13L1252.54,1136.32L1258.43,1127.62L1264.32,1118.94L1270.22,1110.65L1276.11,1103.06L1282,1096.54L1287.89,1091.42L1293.78,1087.65L1299.68,1084.12L1305.57,1081.09L1311.46,1078.93L1317.35,1078.01L1323.24,1078.68L1329.14,1080.83L1335.03,1084.1L1340.92,1088.14L1346.81,1092.57L1352.7,1097.27L1358.59,1103.58L1364.49,1111.46L1370.38,1120.52L1376.27,1130.35L1382.16,1140.59L1388.05,1150.83L1393.95,1160.68L1399.84,1169.76L1405.73,1178.56L1411.62,1187.76L1417.51,1197.11L1423.41,1206.35L1429.3,1215.24L1435.19,1223.52L1441.08,1230.95L1446.97,1237.27L1452.86,1242.42L1458.76,1247.41L1464.65,1252.3L1470.54,1256.91L1476.43,1261.07L1482.32,1264.63L1488.22,1267.41L1494.11,1269.26L1500,1270L1505.89,1270.13L1511.78,1270.26L1517.68,1270.38L1523.57,1270.49L1529.46,1270.6L1535.35,1270.7L1541.24,1270.8L1547.14,1270.9L1553.03,1270.99L1558.92,1271.07L1564.81,1271.15L1570.7,1271.23L1576.59,1271.3L1582.49,1271.36L1588.38,1271.43L1594.27,1271.49L1600.16,1271.54L1606.05,1271.59L1611.95,1271.64L1617.84,1271.69L1623.73,1271.73L1629.62,1271.76L1635.51,1271.8L1641.41,1271.83L1647.3,1271.86L1653.19,1271.88L1659.08,1271.9L1664.97,1271.92L1670.86,1271.94L1676.76,1271.96L1682.65,1271.97L1688.54,1271.98L1694.43,1271.99L1700.32,1271.99L1706.22,1272L1712.11,1272L1718,1272L1718,1272Z" fill="#5f416f"/><path d="M692.81,1008.33L698.7,1043.03L704.59,1074.14L710.49,1104.17L716.38,1131.92L722.27,1156.06L728.16,1175.24L734.05,1189.52L739.95,1202.31L745.84,1213.79L751.73,1223.85L757.62,1232.4L763.51,1239.34L769.41,1244.57L775.3,1248.68L781.19,1252.55L787.08,1256.1L792.97,1259.2L798.86,1261.75L804.76,1263.63L810.65,1264.74L816.54,1264.96L822.43,1264.05L828.32,1262.13L834.22,1259.43L840.11,1256.16L846,1252.54L851.89,1248.69L857.78,1243.39L863.68,1236.5L869.57,1228.37L875.46,1219.35L881.35,1209.79L887.24,1200.05L893.14,1190.48L899.03,1181.42L904.92,1172.55L910.81,1162.94L916.7,1152.92L922.59,1142.83L928.49,1133.01L934.38,1123.81L940.27,1115.58L946.16,1108.65L952.05,1103.24L957.95,1098.19L963.84,1093.27L969.73,1088.69L975.62,1084.67L981.51,1081.41L987.41,1079.14L993.3,1078.06L999.19,1078.36L1005.08,1079.97L1010.97,1082.68L1016.86,1086.28L1022.76,1090.56L1028.65,1095.31L1034.54,1100.32L1040.43,1105.37L1046.32,1111.43L1052.22,1119.05L1058.11,1127.84L1064,1137.45L1069.89,1147.5L1075.78,1157.6L1081.68,1167.4L1087.57,1176.52L1093.46,1184.97L1099.35,1193.96L1105.24,1203.16L1111.14,1212.02L1117.03,1220.03L1122.92,1226.65L1128.81,1231.33L1134.7,1234.39L1140.59,1237.15L1146.49,1239.47L1152.38,1241.14L1158.27,1241.95L1164.16,1241.74L1170.05,1240.58L1175.95,1238.59L1181.84,1235.93L1187.73,1232.74L1193.62,1229.16L1199.51,1225.32L1205.41,1220.12L1211.3,1212.27L1217.19,1202.4L1223.08,1191.15L1228.97,1179.16L1234.86,1167.07L1240.76,1155.51L1246.65,1145.13L1252.54,1136.32L1258.43,1127.62L1264.32,1118.94L1270.22,1110.65L1276.11,1103.06L1282,1096.54L1287.89,1091.42L1293.78,1087.65L1299.68,1084.12L1305.57,1081.09L1311.46,1078.93L1317.35,1078.01L1323.24,1078.68L1329.14,1080.83L1335.03,1084.1L1340.92,1088.14L1346.81,1092.57L1352.7,1097.27L1358.59,1103.58L1364.49,1111.46L1370.38,1120.52L1376.27,1130.35L1382.16,1140.59L1388.05,1150.83L1393.95,1160.68L1399.84,1169.76L1405.73,1178.56L1411.62,1187.76L1417.51,1197.11L1423.41,1206.35L1429.3,1215.24L1435.19,1223.52L1441.08,1230.95L1446.97,1237.27L1452.86,1242.42L1458.76,1247.41L1464.65,1252.3L1470.54,1256.91L1476.43,1261.07L1482.32,1264.63L1488.22,1267.41L1494.11,1269.26L1500,1270L1505.89,1270.13L1511.78,1270.26L1517.68,1270.38L1523.57,1270.49L1529.46,1270.6L1535.35,1270.7L1541.24,1270.8L1547.14,1270.9L1553.03,1270.99L1558.92,1271.07L1564.81,1271.15L1570.7,1271.23L1576.59,1271.3L1582.49,1271.36L1588.38,1271.43L1594.27,1271.49L1600.16,1271.54L1606.05,1271.59L1611.95,1271.64L1617.84,1271.69L1623.73,1271.73L1629.62,1271.76L1635.51,1271.8L1641.41,1271.83L1647.3,1271.86L1653.19,1271.88L1659.08,1271.9L1664.97,1271.92L1670.86,1271.94L1676.76,1271.96L1682.65,1271.97L1688.54,1271.98L1694.43,1271.99L1700.32,1271.99L1706.22,1272L1712.11,1272L1718,1272" fill="none" stroke="#d9a3a0" stroke-width="2"/><path d="M192,1272H1718" stroke="#b030d0" stroke-width="3"/><rect x="820" y="150" width="82" height="80" fill="#ffa500"/><rect x="820" y="270" width="82" height="80" fill="#a020f0"/></g><text x="583" y="731.2" font-size="25">Low quality</text><text x="583" y="751.8" font-size="25">High quality</text><g transform="translate(800,690) scale(0.17428)"><rect x="95" y="97" width="1700" height="1213" fill="#fff" stroke="#dcdcdc" stroke-width="4"/><path d="M95,97V1310H1795" fill="none" stroke="#c4c4c4" stroke-width="4"/><path d="M80,118H95" stroke="#999" stroke-width="3"/><path d="M80,403H95" stroke="#999" stroke-width="3"/><path d="M80,685H95" stroke="#999" stroke-width="3"/><path d="M80,970H95" stroke="#999" stroke-width="3"/><path d="M80,1252H95" stroke="#999" stroke-width="3"/><path d="M333,1310V1324" stroke="#999" stroke-width="3"/><path d="M663,1310V1324" stroke="#999" stroke-width="3"/><path d="M995,1310V1324" stroke="#999" stroke-width="3"/><path d="M1328,1310V1324" stroke="#999" stroke-width="3"/><path d="M1662,1310V1324" stroke="#999" stroke-width="3"/><ellipse cx="1478" cy="292" rx="310" ry="160" transform="rotate(-15 1478 292)" fill="#99e3af"/><ellipse cx="1523" cy="553" rx="215" ry="115" transform="rotate(-15 1523 553)" fill="#c0d7fc"/><ellipse cx="427" cy="1022" rx="335" ry="262" transform="rotate(25 427 1022)" fill="#fcc6c3"/><path d="M290,803h11v11h-11zM360,810h11v11h-11zM395,798h11v11h-11zM447,790h11v11h-11zM257,843h11v11h-11zM347,840h11v11h-11zM300,860h11v11h-11zM390,903h11v11h-11zM297,923h11v11h-11zM347,917h11v11h-11zM275,943h11v11h-11zM317,950h11v11h-11zM385,940h11v11h-11zM482,945h11v11h-11zM165,975h11v11h-11zM278,977h11v11h-11zM355,960h11v11h-11zM345,983h11v11h-11zM422,995h11v11h-11zM473,998h11v11h-11zM485,980h11v11h-11zM582,978h11v11h-11zM520,1025h11v11h-11zM358,1033h11v11h-11zM458,1080h11v11h-11zM485,1100h11v11h-11zM515,1117h11v11h-11zM463,1130h11v11h-11zM383,1170h11v11h-11zM420,1165h11v11h-11zM437,1165h11v11h-11zM485,1167h11v11h-11zM490,1185h11v11h-11zM470,1198h11v11h-11zM517,1190h11v11h-11zM540,1213h11v11h-11zM417,1232h11v11h-11zM567,1235h11v11h-11zM615,1250h11v11h-11z" fill="#f8766d"/><path d="M1615,145h11v11h-11zM1625,155h11v11h-11zM1523,177h11v11h-11zM1560,193h11v11h-11zM1615,185h11v11h-11zM1583,215h11v11h-11zM1590,225h11v11h-11zM1417,228h11v11h-11zM1460,225h11v11h-11zM1500,223h11v11h-11zM1717,240h11v11h-11zM1253,262h11v11h-11zM1645,265h11v11h-11zM1675,267h11v11h-11zM1635,298h11v11h-11zM1373,320h11v11h-11zM1465,313h11v11h-11zM1568,333h11v11h-11zM1415,340h11v11h-11zM1492,350h11v11h-11zM1515,340h11v11h-11zM1420,360h11v11h-11zM1640,367h11v11h-11zM1462,383h11v11h-11zM1330,395h11v11h-11zM1320,408h11v11h-11zM1350,410h11v11h-11zM1417,400h11v11h-11z" fill="#00ba38"/><path d="M1522,438h11v11h-11zM1555,472h11v11h-11zM1578,480h11v11h-11zM1620,485h11v11h-11zM1673,478h11v11h-11zM1385,502h11v11h-11zM1560,515h11v11h-11zM1645,515h11v11h-11zM1463,537h11v11h-11zM1450,548h11v11h-11zM1528,538h11v11h-11zM1632,560h11v11h-11zM1440,590h11v11h-11zM1395,610h11v11h-11zM1408,628h11v11h-11z" fill="#619cff"/></g><text x="900.2" y="733.1" font-size="26.3" fill="#00b138">Cluster 2</text><text x="904" y="783.2" font-size="26.3" fill="#5a9aff">Cluster 3</text><text x="820.6" y="813.3" font-size="26.3" fill="#f8736b">Cluster 1</text><text x="993.2" y="855.2" font-size="26.3">Leukemia</text><text x="993.2" y="883.1" font-size="26.3">Breast</text><text x="993.2" y="905.4" font-size="26.3">Cancer</text><circle cx="978.6" cy="848.2" r="8" fill="#f8766d" stroke="#000" stroke-width="3.2"/><circle cx="954.2" cy="874.7" r="8" fill="#00ba38" stroke="#000" stroke-width="3.2"/><circle cx="978.6" cy="874.7" r="8" fill="#619cff" stroke="#000" stroke-width="3.2"/><g transform="translate(1180,690) scale(0.17428)"><path d="M85,68V1290H1185" fill="none" stroke="#bdbdbd" stroke-width="7"/><path d="M118,1290V1300" stroke="#bbb" stroke-width="3"/><path d="M330,1290V1300" stroke="#bbb" stroke-width="3"/><path d="M540,1290V1300" stroke="#bbb" stroke-width="3"/><path d="M750,1290V1300" stroke="#bbb" stroke-width="3"/><path d="M960,1290V1300" stroke="#bbb" stroke-width="3"/><path d="M1170,1290V1300" stroke="#bbb" stroke-width="3"/><path d="M76,180H85" stroke="#bbb" stroke-width="3"/><path d="M76,530H85" stroke="#bbb" stroke-width="3"/><path d="M76,880H85" stroke="#bbb" stroke-width="3"/><path d="M76,1235H85" stroke="#bbb" stroke-width="3"/><path d="M708,68V1285M788,68V1285M95,1185H1185" fill="none" stroke="#999" stroke-width="2.5" stroke-dasharray="5 6"/><path d="M655,1183L700,1183L700,1130L665,1010L610,920L540,890L470,840L400,840L420,930L500,975L560,1080Z" fill="#619cff" opacity="0.6"/><path d="M667.3,1123.03h9v9h-9zM671.85,1101.66h9v9h-9zM649.58,1141.05h9v9h-9zM658.65,1138.63h9v9h-9zM626.61,1098.69h9v9h-9zM643.05,1103.21h9v9h-9zM655.7,1131.58h9v9h-9zM631.48,1114.48h9v9h-9zM680.69,1148.83h9v9h-9zM639.71,1129.22h9v9h-9zM693.2,1178.48h9v9h-9zM659.78,1120.12h9v9h-9zM657.93,1107.76h9v9h-9zM672.93,1164.87h9v9h-9zM608.56,1110.86h9v9h-9zM632.22,1127.15h9v9h-9zM661.19,1142.06h9v9h-9zM646.25,1113.01h9v9h-9zM645.46,1153.33h9v9h-9zM663.42,1145.27h9v9h-9zM639.41,1134.02h9v9h-9zM689.44,1154.91h9v9h-9zM616.15,1116.25h9v9h-9zM658.29,1169.89h9v9h-9zM649.88,1157.5h9v9h-9zM637.35,1105.54h9v9h-9zM672.96,1159.86h9v9h-9zM664.58,1098.83h9v9h-9zM661.03,1152.3h9v9h-9zM647.64,1169.92h9v9h-9zM635.46,1122.17h9v9h-9zM631.05,1144.79h9v9h-9zM679.55,1134.28h9v9h-9zM608.48,1135.8h9v9h-9zM684.79,1151.95h9v9h-9zM668.77,1150.51h9v9h-9zM674.59,1179.91h9v9h-9zM632.03,1128.29h9v9h-9zM678.7,1152.34h9v9h-9zM645.62,1109.78h9v9h-9zM684.06,1105.45h9v9h-9zM657.16,1106.49h9v9h-9zM604.11,1116.55h9v9h-9zM674.91,1102.35h9v9h-9zM607.96,1133.68h9v9h-9zM654.51,1165.14h9v9h-9zM663.08,1168.94h9v9h-9zM672.06,1126h9v9h-9zM674.22,1170.66h9v9h-9zM637.64,1110.48h9v9h-9zM646.73,1115.22h9v9h-9zM678.34,1145.58h9v9h-9zM671.02,1117.83h9v9h-9zM649.05,1126.89h9v9h-9zM684.35,1143.64h9v9h-9zM644.32,1139.32h9v9h-9zM654.3,1148h9v9h-9zM662.87,1171.96h9v9h-9zM682.92,1161.8h9v9h-9zM620.14,1128.85h9v9h-9zM675.22,1129.41h9v9h-9zM662.49,1100.79h9v9h-9zM642.25,1101.22h9v9h-9zM661.14,1124.4h9v9h-9zM653.98,1099.97h9v9h-9zM639.07,1104.12h9v9h-9zM695.39,1126.41h9v9h-9zM663.15,1147.7h9v9h-9zM640.34,1108.13h9v9h-9zM669.9,1126.45h9v9h-9zM690.86,1105.94h9v9h-9zM596.38,1135.11h9v9h-9zM660.92,1136.63h9v9h-9zM653.18,1124.62h9v9h-9zM651.89,1118h9v9h-9zM620.86,1097.46h9v9h-9zM661.64,1176.33h9v9h-9zM652.5,1141.67h9v9h-9zM555.93,1097.8h9v9h-9zM658.68,1168.88h9v9h-9zM658.7,1154.68h9v9h-9zM667.08,1109.7h9v9h-9zM635.12,1161.11h9v9h-9zM638.53,1123.52h9v9h-9zM671.68,1114.46h9v9h-9zM626.03,1167.97h9v9h-9zM674.3,1164.02h9v9h-9zM604.76,1114.77h9v9h-9zM650.53,1139.5h9v9h-9zM642.11,1097.87h9v9h-9zM643.07,1119.25h9v9h-9zM688.58,1176.8h9v9h-9zM661.14,1133.51h9v9h-9zM621.38,1126.49h9v9h-9zM645.71,1114.24h9v9h-9zM659.89,1112.87h9v9h-9zM686.47,1148.55h9v9h-9zM628.28,1136.26h9v9h-9zM660.71,1151h9v9h-9zM651.37,1151.65h9v9h-9zM671.92,1172.83h9v9h-9zM617.33,1136.13h9v9h-9zM647.61,1110.67h9v9h-9zM649.94,1163.57h9v9h-9zM659.45,1178.09h9v9h-9zM676.63,1175.98h9v9h-9zM665.13,1157.11h9v9h-9zM653.25,1108.35h9v9h-9zM669.85,1172.41h9v9h-9zM656.46,1165.75h9v9h-9zM663.5,1178.83h9v9h-9zM639.09,1142.14h9v9h-9zM644.22,1106.63h9v9h-9zM658.81,1140.26h9v9h-9zM643.71,1174.86h9v9h-9zM676.8,1165.72h9v9h-9zM642.63,1113.44h9v9h-9zM665.29,1115.95h9v9h-9zM654.83,1145.35h9v9h-9zM668.84,1106.64h9v9h-9zM658.2,1172.85h9v9h-9zM673.08,1145.08h9v9h-9zM640.22,1172.37h9v9h-9zM675.47,1138.14h9v9h-9zM650.19,1140.71h9v9h-9zM650.27,1132.91h9v9h-9zM689.74,1111.06h9v9h-9zM642.72,1110.15h9v9h-9zM647.82,1135.75h9v9h-9zM616.51,1123.21h9v9h-9zM619.62,1139.56h9v9h-9zM622.42,1104.52h9v9h-9zM655.26,1143.13h9v9h-9zM675.49,1161.14h9v9h-9zM620.64,1138.66h9v9h-9zM658.76,1173.06h9v9h-9zM631.14,1133.18h9v9h-9zM637.4,1139.03h9v9h-9zM639.07,1154.38h9v9h-9zM660.02,1136.13h9v9h-9zM660.08,1175.53h9v9h-9zM643.15,1175.59h9v9h-9zM588.1,1117.57h9v9h-9zM651.88,1166.9h9v9h-9zM661.77,1107.16h9v9h-9zM659.49,1101.67h9v9h-9zM678.16,1115.95h9v9h-9zM673.42,1162.13h9v9h-9zM679.32,1171.75h9v9h-9zM682.33,1151.62h9v9h-9zM693.72,1107.65h9v9h-9zM597.39,1114.16h9v9h-9zM656.91,1176.46h9v9h-9zM678.55,1179.64h9v9h-9zM673.06,1166.26h9v9h-9zM672.25,1139.33h9v9h-9zM654.37,1124.32h9v9h-9zM674.81,1156.88h9v9h-9zM606.06,1097.16h9v9h-9zM625.48,1097.04h9v9h-9zM626.6,1123.68h9v9h-9zM613.48,1100.96h9v9h-9zM677.8,1179.23h9v9h-9zM566.27,1104.41h9v9h-9zM687.27,1118.07h9v9h-9zM655.72,1118.49h9v9h-9zM586.24,1106.51h9v9h-9zM679.93,1165.11h9v9h-9zM678.15,1117.48h9v9h-9zM691.17,1144h9v9h-9zM665.08,1155.04h9v9h-9zM662.82,1154h9v9h-9zM653.39,1131.65h9v9h-9zM679.71,1163.64h9v9h-9zM644.98,1102.62h9v9h-9zM661.48,1168.84h9v9h-9zM636.66,1134.07h9v9h-9zM682.25,1174.27h9v9h-9zM666.07,1118.27h9v9h-9zM666.67,1115.77h9v9h-9zM644.09,1104.8h9v9h-9zM649.76,1112.65h9v9h-9zM632.47,1122.02h9v9h-9zM685.01,1120.15h9v9h-9zM661.49,1138.01h9v9h-9zM660.77,1097.04h9v9h-9zM685.51,1116.79h9v9h-9zM657.93,1142.34h9v9h-9zM580.8,1111.6h9v9h-9zM649.58,1104.53h9v9h-9zM647.92,1165.11h9v9h-9zM671.95,1166.44h9v9h-9zM614.31,1128.91h9v9h-9zM669.1,1179.01h9v9h-9zM665.95,1124.63h9v9h-9zM632.5,1149.56h9v9h-9zM645.29,1129.9h9v9h-9zM647.61,1106.53h9v9h-9zM636.71,1101.51h9v9h-9zM620.46,1109.38h9v9h-9zM669.7,1102.68h9v9h-9zM628.51,1152.5h9v9h-9zM646.38,1119.46h9v9h-9zM669.66,1134.55h9v9h-9zM621,1108.89h9v9h-9zM672.47,1177.25h9v9h-9zM660.59,1178.17h9v9h-9zM666.54,1177.58h9v9h-9zM645.63,1121.81h9v9h-9zM649.7,1127.94h9v9h-9zM637.74,1135.84h9v9h-9zM652.92,1138.4h9v9h-9zM634.52,1095.92h9v9h-9zM659.34,1129.46h9v9h-9zM661.62,1099.04h9v9h-9zM646.75,1115.29h9v9h-9zM624.11,1145.27h9v9h-9zM652.99,1151.39h9v9h-9zM672.89,1156.36h9v9h-9zM630.4,1123.22h9v9h-9zM681.6,1179.2h9v9h-9zM681.87,1150.17h9v9h-9zM668.5,1099.22h9v9h-9zM623.52,1148.82h9v9h-9zM664.69,1157.88h9v9h-9zM643.41,1140.02h9v9h-9zM672.39,1138.37h9v9h-9zM640.89,1165.74h9v9h-9zM679.03,1145.15h9v9h-9zM643.21,1154.43h9v9h-9zM657.11,1115.04h9v9h-9zM650.57,1126.16h9v9h-9zM657.63,1104.42h9v9h-9zM636.95,1148.86h9v9h-9zM648.26,1148.73h9v9h-9zM604.15,1095.78h9v9h-9zM663.22,1163.3h9v9h-9zM630.15,1140.99h9v9h-9zM685.69,1151.54h9v9h-9zM661.1,1116.94h9v9h-9zM633.58,1101.83h9v9h-9zM685.01,1112.94h9v9h-9zM680.64,1158.39h9v9h-9zM644.79,1128.02h9v9h-9zM637.5,1136.22h9v9h-9zM627.6,1147.94h9v9h-9zM667.2,1150.13h9v9h-9zM651.11,1117.08h9v9h-9zM654.29,1158.67h9v9h-9zM672.27,1096.56h9v9h-9zM632.54,1100.66h9v9h-9zM685.74,1154.34h9v9h-9zM653.69,1152.94h9v9h-9zM676.99,1135h9v9h-9zM685.46,1135.14h9v9h-9zM680.37,1112.44h9v9h-9zM671.88,1178.64h9v9h-9zM649.97,1134.51h9v9h-9zM680.52,1165.19h9v9h-9zM639.43,1118.34h9v9h-9zM659.84,1113.34h9v9h-9zM651.35,1144.93h9v9h-9zM573.42,1107.55h9v9h-9zM629.86,1106.77h9v9h-9zM632.45,1165.22h9v9h-9zM658.13,1155.28h9v9h-9zM667.46,1115.17h9v9h-9zM615.93,1097.61h9v9h-9zM602.9,1095.81h9v9h-9zM647.47,1121.17h9v9h-9zM627.1,1107.46h9v9h-9zM675.68,1166.92h9v9h-9zM635.83,1095.65h9v9h-9zM586.49,1105.7h9v9h-9zM661.32,1174.24h9v9h-9zM593.71,1120.14h9v9h-9zM581.73,1127.14h9v9h-9zM653.42,1145.58h9v9h-9zM649.38,1131.88h9v9h-9zM647.81,1104.15h9v9h-9zM656.93,1166.45h9v9h-9zM638.25,1116.69h9v9h-9zM660.81,1138.93h9v9h-9zM680.46,1176.77h9v9h-9zM674,1170.66h9v9h-9zM649.76,1173.14h9v9h-9zM648.58,1175.46h9v9h-9zM623.1,1099.71h9v9h-9zM634.35,1157.75h9v9h-9zM667.4,1150.28h9v9h-9zM636.26,1119.83h9v9h-9zM666.92,1135.64h9v9h-9zM635.99,1124.71h9v9h-9zM689.13,1178.49h9v9h-9zM632.68,1117.61h9v9h-9zM640.97,1142.87h9v9h-9zM656.05,1129.02h9v9h-9zM656.31,1113.17h9v9h-9zM657.56,1172.51h9v9h-9zM667.4,1172.53h9v9h-9zM664.09,1180.2h9v9h-9zM646.73,1111.85h9v9h-9zM631.9,1103.21h9v9h-9zM653.28,1115.83h9v9h-9zM596.57,1117.46h9v9h-9zM647.13,1159.22h9v9h-9zM626.37,1130.59h9v9h-9zM663.26,1127.53h9v9h-9zM665.17,1124.25h9v9h-9zM673.23,1177.75h9v9h-9zM600.83,1106.2h9v9h-9zM665.27,1168.84h9v9h-9zM640.46,1113.86h9v9h-9zM666.58,1129.48h9v9h-9zM692.03,1133.4h9v9h-9zM658.13,1169.7h9v9h-9zM681.87,1097.35h9v9h-9zM671.24,1171.63h9v9h-9zM651.72,1135.73h9v9h-9zM648.98,1128.78h9v9h-9zM679.92,1174.28h9v9h-9zM647.66,1178.14h9v9h-9zM655.64,1116.62h9v9h-9zM661.33,1139.9h9v9h-9zM685.83,1153.48h9v9h-9zM647.61,1150.52h9v9h-9zM642.44,1160.51h9v9h-9zM646.71,1098.86h9v9h-9zM666.79,1162h9v9h-9zM654.49,1150.37h9v9h-9zM591.31,1008.3h9v9h-9zM666.52,1065.36h9v9h-9zM632,1006.71h9v9h-9zM632.03,1053.79h9v9h-9zM612.72,1034.31h9v9h-9zM636.72,996.55h9v9h-9zM513.38,1025.65h9v9h-9zM638.02,1059.96h9v9h-9zM607.33,1083.88h9v9h-9zM601.93,1020.21h9v9h-9zM626.23,1091.56h9v9h-9zM555.48,997.68h9v9h-9zM594.19,1045.33h9v9h-9zM564.99,1021.23h9v9h-9zM639.75,1062.24h9v9h-9zM574.94,998.91h9v9h-9zM555.46,1029.31h9v9h-9zM621.81,1015.31h9v9h-9zM622.79,1075.21h9v9h-9zM552.75,1016.02h9v9h-9zM612.82,1092.49h9v9h-9zM659.02,1018.58h9v9h-9zM598.56,1017.64h9v9h-9zM607.75,1090.69h9v9h-9zM619.57,1045.08h9v9h-9zM629.11,1037.2h9v9h-9zM636.21,1062.03h9v9h-9zM598.97,1034.85h9v9h-9zM615.96,1016.79h9v9h-9zM584.73,1000.68h9v9h-9zM525.66,1001.51h9v9h-9zM670.75,1083.86h9v9h-9zM616.65,1068.77h9v9h-9zM593.46,1014.05h9v9h-9zM632.11,1089.09h9v9h-9zM610.4,1061.94h9v9h-9zM582.39,1033.36h9v9h-9zM617.39,1012.43h9v9h-9zM579.06,995.79h9v9h-9zM661.03,1091.05h9v9h-9zM616.29,1007.87h9v9h-9zM598,1031.16h9v9h-9zM641.2,1077.66h9v9h-9zM551.96,1000.43h9v9h-9zM555.65,1042.85h9v9h-9zM653.84,1014.8h9v9h-9zM610.65,1031.92h9v9h-9zM600.85,1036.58h9v9h-9zM627.04,1076.68h9v9h-9zM576.44,998.99h9v9h-9zM613.97,1001.76h9v9h-9zM610.98,1070.23h9v9h-9zM617.39,1085.36h9v9h-9zM653.88,1091.27h9v9h-9zM612.34,1057.2h9v9h-9zM657.49,1027.15h9v9h-9zM659.36,1023.06h9v9h-9zM632.54,1087.15h9v9h-9zM624.04,1058.9h9v9h-9zM594.4,1018.89h9v9h-9zM690.99,1043.02h9v9h-9zM581.6,1034.15h9v9h-9zM560.08,1020.6h9v9h-9zM647.1,1088.31h9v9h-9zM614.05,1013.79h9v9h-9zM577.96,1077.78h9v9h-9zM601.98,1072.78h9v9h-9zM581.76,1027.45h9v9h-9zM606.46,1031.69h9v9h-9zM580.89,1015.23h9v9h-9zM623.34,1070.79h9v9h-9zM600.99,998.89h9v9h-9zM570.02,1050.76h9v9h-9zM644.76,1083.85h9v9h-9zM612.7,1021.99h9v9h-9zM618.14,1045.35h9v9h-9zM598.68,1066.48h9v9h-9zM614.63,1037.18h9v9h-9zM591.34,1057.53h9v9h-9zM581.79,1080.2h9v9h-9zM664.09,1061.94h9v9h-9zM647.34,1024.88h9v9h-9zM575.61,1052.19h9v9h-9zM638.13,1015.42h9v9h-9zM598.48,1020.24h9v9h-9zM647.54,1083.92h9v9h-9zM598.95,1053.33h9v9h-9zM661.91,1094.74h9v9h-9zM618.07,1046.23h9v9h-9zM677.34,1060.83h9v9h-9zM662.36,1094.6h9v9h-9zM647.85,1077.41h9v9h-9zM635.24,1079.56h9v9h-9zM594.94,1024.87h9v9h-9zM628.36,1007.42h9v9h-9zM629,1053.82h9v9h-9zM629.61,1032.72h9v9h-9zM569.26,1021.49h9v9h-9zM638.55,1073.28h9v9h-9zM610.05,1055.11h9v9h-9zM622.9,1057.49h9v9h-9zM627.2,1009.64h9v9h-9zM594.18,1015.9h9v9h-9zM662.41,1060.66h9v9h-9zM627.97,1015.84h9v9h-9zM621.49,1063.33h9v9h-9zM585.38,1014.01h9v9h-9zM644.99,1075.03h9v9h-9zM627.23,1050.3h9v9h-9zM611.5,1035.03h9v9h-9zM603.59,1050.51h9v9h-9zM581.38,1011.87h9v9h-9zM597.94,1065.04h9v9h-9zM616.46,1026.26h9v9h-9zM618.16,1090.82h9v9h-9zM645.35,1031.22h9v9h-9zM683.25,1037.14h9v9h-9zM514.53,1031.88h9v9h-9zM591.98,1015.22h9v9h-9zM560.42,996.09h9v9h-9zM579.95,1085.66h9v9h-9zM635.49,1036.12h9v9h-9zM611.77,1083.78h9v9h-9zM591.73,996.98h9v9h-9zM566.35,1050.65h9v9h-9zM526.71,1004.4h9v9h-9zM589.67,1057.72h9v9h-9zM624.45,1010.09h9v9h-9zM518.95,1023.83h9v9h-9zM579.72,1006.38h9v9h-9zM640.06,1044.55h9v9h-9zM505.87,1015.23h9v9h-9zM686.22,1008.17h9v9h-9zM577.08,1043.77h9v9h-9zM621.46,1000.84h9v9h-9zM617.07,1085.92h9v9h-9zM625.33,1057.53h9v9h-9zM608.07,1074.08h9v9h-9zM538.74,1017.71h9v9h-9zM661.25,1078.42h9v9h-9zM601.99,1013.8h9v9h-9zM644.92,1047.29h9v9h-9zM623.51,1033.86h9v9h-9zM638.69,1067.99h9v9h-9zM668.67,1085.23h9v9h-9zM633.86,1071.25h9v9h-9zM597.34,999.31h9v9h-9zM601.34,1055.45h9v9h-9zM592.95,1050.51h9v9h-9zM585.29,1037.51h9v9h-9zM570.96,1053.76h9v9h-9zM630.55,1040.18h9v9h-9zM654.81,1039.34h9v9h-9zM616.9,1044.45h9v9h-9zM602.61,1019.03h9v9h-9zM548.89,1041.33h9v9h-9zM577.32,1013.46h9v9h-9zM594.87,1008.35h9v9h-9zM638.33,1038.56h9v9h-9zM630.97,1046.52h9v9h-9zM577.32,999.58h9v9h-9zM612.11,1068.85h9v9h-9zM613.79,1073.26h9v9h-9zM609.88,1045.89h9v9h-9zM622.42,1033.29h9v9h-9zM623.23,1081.21h9v9h-9zM629.11,1095.11h9v9h-9zM528.65,1014.87h9v9h-9zM559.16,1093.67h9v9h-9zM635.23,1087.1h9v9h-9zM613.99,1012.01h9v9h-9zM504.72,1002.05h9v9h-9zM603.85,1030.59h9v9h-9zM612.21,1085.15h9v9h-9zM607.24,1023h9v9h-9zM593.28,1045.72h9v9h-9zM637.69,1087.49h9v9h-9zM636.41,1046.1h9v9h-9zM623.33,1027.41h9v9h-9zM598.9,1011.62h9v9h-9zM604.6,1089.14h9v9h-9zM523.54,1012.37h9v9h-9zM654,1073.99h9v9h-9zM644.1,1059.13h9v9h-9zM634.69,1031.48h9v9h-9zM584.09,1053.5h9v9h-9zM633.64,1083.75h9v9h-9zM672.24,1034.93h9v9h-9zM616.45,1075.27h9v9h-9zM609.7,1053.24h9v9h-9zM605.14,1071.96h9v9h-9zM629.77,1069.86h9v9h-9zM600.14,1000.33h9v9h-9zM594.69,1059.42h9v9h-9zM596.54,1093.91h9v9h-9zM574.21,1026.76h9v9h-9zM606.71,995.68h9v9h-9zM620.27,1057.11h9v9h-9zM533.92,1038.72h9v9h-9zM585.85,1008.7h9v9h-9zM592.47,1018.23h9v9h-9zM579.02,995.76h9v9h-9zM629.19,1031h9v9h-9zM617.8,1017.93h9v9h-9zM595.59,1053.86h9v9h-9zM604.85,1057.89h9v9h-9zM662.46,1042.99h9v9h-9zM661.11,1019.86h9v9h-9zM636.22,1010.43h9v9h-9zM654.12,1082.63h9v9h-9zM604.31,1073.72h9v9h-9zM603.23,996.65h9v9h-9zM589.56,1059.99h9v9h-9zM606.14,1060.06h9v9h-9zM659.4,1039.88h9v9h-9zM575.4,1020.35h9v9h-9zM667.13,1085.85h9v9h-9zM617.48,1036.1h9v9h-9zM655.92,1019.27h9v9h-9zM609.73,996.74h9v9h-9zM630.39,1050.59h9v9h-9zM588.16,1015.45h9v9h-9zM568.48,1056.31h9v9h-9zM624.2,1076.84h9v9h-9zM582.96,1012.96h9v9h-9zM617.52,1000.35h9v9h-9zM640.04,1084.44h9v9h-9zM526.94,996.13h9v9h-9zM626.66,1079.94h9v9h-9zM586.73,1069.68h9v9h-9zM610.57,1040.75h9v9h-9zM613.97,1018.73h9v9h-9zM555.34,999.38h9v9h-9zM666.64,1065.01h9v9h-9zM621.91,1080.03h9v9h-9zM587.55,1050.88h9v9h-9zM617.35,1039.11h9v9h-9zM556.36,1022.03h9v9h-9zM640.04,1059.7h9v9h-9zM624.8,1083.5h9v9h-9zM584.45,997.02h9v9h-9zM646.17,1069.89h9v9h-9zM632.08,1089.97h9v9h-9zM601.97,1083.52h9v9h-9zM607.18,1028.36h9v9h-9zM688.79,1058.57h9v9h-9zM574.33,1064.78h9v9h-9zM526.96,1042.45h9v9h-9zM607.53,1079.47h9v9h-9zM542.9,1039.22h9v9h-9zM596.77,1067.96h9v9h-9zM582.78,1016.7h9v9h-9zM680.72,1057.76h9v9h-9zM630.77,1009.96h9v9h-9zM654.94,998.19h9v9h-9zM653.09,1029.99h9v9h-9zM603.17,1009.68h9v9h-9zM621.83,1064.76h9v9h-9zM599.61,1058.89h9v9h-9zM530.92,1002.08h9v9h-9zM574.89,1054.55h9v9h-9zM670.37,1077.46h9v9h-9zM686.91,1084.63h9v9h-9zM656.07,1086.94h9v9h-9zM648.87,1089.93h9v9h-9zM606.8,1006.7h9v9h-9zM626.96,998.94h9v9h-9zM568,1058.92h9v9h-9zM609.24,1078.01h9v9h-9zM567.97,1005.49h9v9h-9zM591.56,1005.29h9v9h-9zM577.47,1027.41h9v9h-9zM633.12,1037.88h9v9h-9zM603.24,1023.76h9v9h-9zM602.11,1067.08h9v9h-9zM653.35,1091.9h9v9h-9zM638.73,1045.87h9v9h-9zM544.93,998.6h9v9h-9zM551.09,1036.79h9v9h-9zM626.42,1030.18h9v9h-9zM598.76,1065.97h9v9h-9zM623.49,1081.72h9v9h-9zM599.72,1004.59h9v9h-9zM564.54,995.63h9v9h-9zM603.28,1015.7h9v9h-9zM481.22,995.94h9v9h-9zM549.3,1044.58h9v9h-9zM598.21,1013.95h9v9h-9zM573.37,1044.96h9v9h-9zM654.09,1021.56h9v9h-9zM628.24,1089.89h9v9h-9zM642.5,1065.45h9v9h-9zM647.72,1045.33h9v9h-9zM623.4,1003.59h9v9h-9zM606.73,1074.29h9v9h-9zM562.07,1058.29h9v9h-9zM574.62,1031.06h9v9h-9zM648,1084.54h9v9h-9zM596.25,1004.12h9v9h-9zM590.51,1016.11h9v9h-9zM633.1,1021.82h9v9h-9zM580.48,1033.43h9v9h-9zM633.24,1083.9h9v9h-9zM649.39,1048.65h9v9h-9zM624.09,1070.95h9v9h-9zM552.17,1030.35h9v9h-9zM640,1028.17h9v9h-9zM670.74,1061.71h9v9h-9zM639.29,1069.7h9v9h-9zM654.09,1072.84h9v9h-9zM640.55,1053.42h9v9h-9zM654.26,1084.01h9v9h-9zM608.37,1019.29h9v9h-9zM646.26,1065.82h9v9h-9zM637.95,1079.87h9v9h-9zM615.2,1020.26h9v9h-9zM581.07,1028.16h9v9h-9zM598.99,1028.31h9v9h-9zM653.18,1014.43h9v9h-9zM581.25,1005.68h9v9h-9zM657.58,1091.74h9v9h-9zM652.38,1093.88h9v9h-9zM621.7,1074.99h9v9h-9zM556.6,1015.12h9v9h-9zM634.91,1059.3h9v9h-9zM619.68,1034.33h9v9h-9zM533.43,998.89h9v9h-9zM654.21,1064.84h9v9h-9zM584.98,1045.55h9v9h-9zM562.19,1009.68h9v9h-9zM570.65,1055.87h9v9h-9zM659.37,1086.3h9v9h-9zM555.63,1038.5h9v9h-9zM580.74,1037.62h9v9h-9zM583.99,1018.36h9v9h-9zM559.69,1072.9h9v9h-9zM649.84,1065.51h9v9h-9zM577.91,1059.65h9v9h-9zM589.55,1040.89h9v9h-9zM638.7,1005.29h9v9h-9zM617.54,1037.46h9v9h-9zM565.96,1058.46h9v9h-9zM562.81,1020.51h9v9h-9zM633.39,1057.66h9v9h-9zM569.7,1036.43h9v9h-9zM519.48,1013.81h9v9h-9zM623.95,1060.95h9v9h-9zM576.71,1044.48h9v9h-9zM670.97,1092.96h9v9h-9zM604.45,1011.58h9v9h-9zM660.36,1073.68h9v9h-9zM574.14,1005.61h9v9h-9zM562.89,1052.96h9v9h-9zM597.37,1046.72h9v9h-9zM636.48,1059.43h9v9h-9zM568.94,1036.53h9v9h-9zM644.36,1090.3h9v9h-9zM656.41,1034.75h9v9h-9zM689.79,1071.77h9v9h-9zM673.84,1031.05h9v9h-9zM582.55,1001.16h9v9h-9zM624,996.83h9v9h-9zM559.33,1037.36h9v9h-9zM629.18,1030.71h9v9h-9zM608.2,1022.02h9v9h-9zM681.99,1089.49h9v9h-9zM623.64,1048.21h9v9h-9zM666.6,1034.7h9v9h-9zM639.33,1016.7h9v9h-9zM665.6,1076.46h9v9h-9zM575.7,1058.93h9v9h-9zM605.76,1018.1h9v9h-9zM607.6,1091.89h9v9h-9zM662.22,1077.37h9v9h-9zM600.56,1077.12h9v9h-9zM618.5,1050.33h9v9h-9zM609.15,1008.02h9v9h-9zM602.78,1080.57h9v9h-9zM579.34,1022.24h9v9h-9zM625.38,1038.11h9v9h-9zM653.19,1014.09h9v9h-9zM600.53,1023.62h9v9h-9zM584.57,1020h9v9h-9zM644.36,1038.35h9v9h-9zM600.52,1059.23h9v9h-9zM607.52,1088.37h9v9h-9zM682.97,1080.94h9v9h-9zM651.04,1086.08h9v9h-9zM662.74,1073.9h9v9h-9zM665.14,1058.82h9v9h-9zM679.28,997h9v9h-9zM624.11,1061.1h9v9h-9zM614.05,1020.5h9v9h-9zM609.12,1018.86h9v9h-9zM613.89,1073.13h9v9h-9zM645.26,1085.91h9v9h-9zM657.98,1074.67h9v9h-9zM676.62,1056.34h9v9h-9zM591.59,1073.63h9v9h-9zM566.39,1074.31h9v9h-9zM643.05,1079.38h9v9h-9zM661.09,1048.58h9v9h-9zM561.1,1069.69h9v9h-9zM639.4,1051.01h9v9h-9zM600.68,1021.95h9v9h-9zM628.72,1044.81h9v9h-9zM567.91,1001.35h9v9h-9zM613.97,1044.64h9v9h-9zM544.69,1045.32h9v9h-9zM567.23,996.16h9v9h-9zM588.13,1079.58h9v9h-9zM627.17,1062.03h9v9h-9zM604.49,1079.56h9v9h-9zM655.87,1091.56h9v9h-9zM554.62,1003.04h9v9h-9zM546.19,998.35h9v9h-9zM584.46,1056.47h9v9h-9zM527.39,1028.55h9v9h-9zM599.95,1093.67h9v9h-9zM628.01,1085.26h9v9h-9zM576.7,998.89h9v9h-9zM553.97,1029.36h9v9h-9zM605.06,1081.67h9v9h-9zM640.35,1048.05h9v9h-9zM632.34,1072.56h9v9h-9zM642.5,1037.74h9v9h-9zM626.16,1050.9h9v9h-9zM603.74,1078.27h9v9h-9zM578.01,1035.87h9v9h-9zM610.18,1046.14h9v9h-9zM545.07,993h9v9h-9zM459.75,928.59h9v9h-9zM510.8,927.21h9v9h-9zM612.25,958.98h9v9h-9zM632.87,973.92h9v9h-9zM592.28,984.06h9v9h-9zM585.92,950.04h9v9h-9zM520.25,896.12h9v9h-9zM583.15,914.49h9v9h-9zM529.7,961.3h9v9h-9zM616.89,974.4h9v9h-9zM521.97,957.17h9v9h-9zM535.91,958.18h9v9h-9zM504.78,963.6h9v9h-9zM494.17,916.75h9v9h-9zM526.18,971.77h9v9h-9zM519.73,905.64h9v9h-9zM577.89,972.95h9v9h-9zM557.49,986.91h9v9h-9zM538.66,977.76h9v9h-9zM538.68,974.15h9v9h-9zM515.01,925.7h9v9h-9zM518.07,937.68h9v9h-9zM599.37,959.68h9v9h-9zM627.91,988.89h9v9h-9zM532.32,899.44h9v9h-9zM540.67,907.38h9v9h-9zM531.11,987.36h9v9h-9zM587.95,940.15h9v9h-9zM556.8,954.7h9v9h-9zM624.56,989.27h9v9h-9zM531.93,936.74h9v9h-9zM491.02,905.7h9v9h-9zM489.1,910.68h9v9h-9zM589.76,897.05h9v9h-9zM517.65,907.67h9v9h-9zM649.02,992.13h9v9h-9zM571.87,908.4h9v9h-9zM499.12,897.28h9v9h-9zM533.09,968.86h9v9h-9zM605.46,914.24h9v9h-9zM585.49,966.86h9v9h-9zM571.78,981.05h9v9h-9zM537.34,958.36h9v9h-9zM465.61,966.42h9v9h-9zM554.66,920.91h9v9h-9zM581.45,991.93h9v9h-9zM498.56,896.97h9v9h-9zM564.91,960.57h9v9h-9zM511.91,926.61h9v9h-9zM606.47,968.44h9v9h-9zM624.61,944.13h9v9h-9zM462.73,901.48h9v9h-9zM586.58,939.37h9v9h-9zM607.32,963.19h9v9h-9zM603.46,931.83h9v9h-9zM525.67,959.99h9v9h-9zM499.68,934.07h9v9h-9zM637.03,974.12h9v9h-9zM523.88,952.18h9v9h-9zM654.33,924.74h9v9h-9zM604.99,965.83h9v9h-9zM544.16,978.24h9v9h-9zM629.27,993.24h9v9h-9zM543.75,978.63h9v9h-9zM515.45,938.36h9v9h-9zM533.22,984.31h9v9h-9zM601.24,955.68h9v9h-9zM588.66,985.11h9v9h-9zM463.66,895.67h9v9h-9zM467.19,921.8h9v9h-9zM596.36,977.1h9v9h-9zM649.39,984.24h9v9h-9zM590.92,976.68h9v9h-9zM545.9,982.22h9v9h-9zM559.44,980.62h9v9h-9zM533.58,976.2h9v9h-9zM433.58,930.19h9v9h-9zM422,904.01h9v9h-9zM491.03,915.54h9v9h-9zM593.57,970.52h9v9h-9zM540.48,956.19h9v9h-9zM530.83,963.27h9v9h-9zM533.33,920.97h9v9h-9zM577.72,970.61h9v9h-9zM455.16,904.27h9v9h-9zM574.2,976.16h9v9h-9zM519.31,953.46h9v9h-9zM613.5,985.19h9v9h-9zM505.98,943.16h9v9h-9zM563.61,954.43h9v9h-9zM551.44,913.57h9v9h-9zM525.43,965.61h9v9h-9zM584.83,935.75h9v9h-9zM555.15,947.22h9v9h-9zM594.53,995.21h9v9h-9zM589.53,932.9h9v9h-9zM604.92,974.23h9v9h-9zM478.55,911.12h9v9h-9zM522.7,947.45h9v9h-9zM670.05,897.56h9v9h-9zM600.5,982.11h9v9h-9zM511.2,944.13h9v9h-9zM554.51,973.42h9v9h-9zM616.56,938.09h9v9h-9zM547.87,977.38h9v9h-9zM582.31,991.85h9v9h-9zM535.91,915.6h9v9h-9zM534.49,913.57h9v9h-9zM557.48,951.24h9v9h-9zM480.99,982.57h9v9h-9zM603.14,986.49h9v9h-9zM466.36,901.92h9v9h-9zM484.29,907.49h9v9h-9zM579.99,991.43h9v9h-9zM613.56,959.56h9v9h-9zM563.3,991.14h9v9h-9zM499.91,940.33h9v9h-9zM676.43,911.47h9v9h-9zM489.38,917.67h9v9h-9zM506.73,899.36h9v9h-9zM614.63,985.78h9v9h-9zM584.27,985.96h9v9h-9zM557.38,974.14h9v9h-9zM486.79,966.46h9v9h-9zM384.74,901.08h9v9h-9zM520.95,909.98h9v9h-9zM456.72,963.19h9v9h-9zM458.83,925.38h9v9h-9zM465.22,906.04h9v9h-9zM530.29,927.89h9v9h-9zM568.09,943.63h9v9h-9zM521.09,912.36h9v9h-9zM583.82,963.26h9v9h-9zM499.13,896.76h9v9h-9zM473.3,899.1h9v9h-9zM596.54,988.27h9v9h-9zM667.11,982.18h9v9h-9zM604.33,984.37h9v9h-9zM557.97,905.2h9v9h-9zM610.02,988.38h9v9h-9zM485.99,940.73h9v9h-9zM557.54,929.48h9v9h-9zM510.48,958.32h9v9h-9zM520.1,909.78h9v9h-9zM577.02,966.87h9v9h-9zM606.43,950.84h9v9h-9zM607.37,922.14h9v9h-9zM559.76,936.68h9v9h-9zM599.53,979.46h9v9h-9zM560.56,928.95h9v9h-9zM581.06,927.31h9v9h-9zM660.61,985.82h9v9h-9zM608.55,901.19h9v9h-9zM563.64,985h9v9h-9zM515.57,943.25h9v9h-9zM526.75,924.12h9v9h-9zM567.36,931.93h9v9h-9zM671.63,994.6h9v9h-9zM511.84,905.26h9v9h-9zM542.35,924.44h9v9h-9zM554.71,968.15h9v9h-9zM537.89,924.85h9v9h-9zM569.07,976.2h9v9h-9zM534.72,929.59h9v9h-9zM574.03,978.72h9v9h-9zM566.94,948.16h9v9h-9zM617.29,986.7h9v9h-9zM497.76,917.33h9v9h-9zM507.64,913.51h9v9h-9zM560.51,972.54h9v9h-9zM477.36,903.43h9v9h-9zM463.9,904.24h9v9h-9zM490.29,922.89h9v9h-9zM460.54,916.1h9v9h-9zM528.47,976.66h9v9h-9zM557.04,953.79h9v9h-9zM579.1,968.77h9v9h-9zM535.28,936.31h9v9h-9zM556.66,976.56h9v9h-9zM586.13,929.02h9v9h-9zM466.85,944.8h9v9h-9zM559.37,897.04h9v9h-9zM550.82,982.7h9v9h-9zM564.06,922.13h9v9h-9zM619.58,932.21h9v9h-9zM470.15,911.85h9v9h-9zM559.32,895.96h9v9h-9zM494.7,947.48h9v9h-9zM536.47,907.58h9v9h-9zM597.51,966.96h9v9h-9zM440.49,927.6h9v9h-9zM509.79,966.62h9v9h-9zM571.44,901.62h9v9h-9zM620.32,982.78h9v9h-9zM531.17,946.83h9v9h-9zM538.8,948.55h9v9h-9zM581.06,992.24h9v9h-9zM533.22,917.87h9v9h-9zM547.06,920.55h9v9h-9zM589.06,977.22h9v9h-9zM565.07,965.4h9v9h-9zM590.58,915.01h9v9h-9zM558.4,953.15h9v9h-9zM541.03,947.79h9v9h-9zM557.15,982.45h9v9h-9zM583.93,967.21h9v9h-9zM551.68,944.86h9v9h-9zM541.17,945.58h9v9h-9zM562.07,936.07h9v9h-9zM428.74,909.2h9v9h-9zM460.39,910.22h9v9h-9zM550.74,952.78h9v9h-9zM547.05,978.1h9v9h-9zM549.27,989.26h9v9h-9zM600.05,979.47h9v9h-9zM460.61,948.06h9v9h-9zM628.33,973.19h9v9h-9zM535.27,929.35h9v9h-9zM583.27,939.06h9v9h-9zM612.36,993.62h9v9h-9zM485.08,977h9v9h-9zM619.56,980.26h9v9h-9zM597.56,991.29h9v9h-9zM580.43,988.93h9v9h-9zM602.45,958.77h9v9h-9zM516.51,931.94h9v9h-9zM536.67,938.8h9v9h-9zM571.1,945.98h9v9h-9zM585.83,992.47h9v9h-9zM622.24,973.16h9v9h-9zM547.7,976.43h9v9h-9zM584.16,983.94h9v9h-9zM549.09,959.66h9v9h-9zM509.22,922.08h9v9h-9zM515.92,949.73h9v9h-9zM557.86,987.94h9v9h-9zM522.93,947.53h9v9h-9zM577.56,938.87h9v9h-9zM517.47,926.04h9v9h-9zM600.28,960.25h9v9h-9zM617.7,991.11h9v9h-9zM540.62,946.88h9v9h-9zM599.34,948.88h9v9h-9zM537.2,910.34h9v9h-9zM547.63,924.86h9v9h-9zM529.46,936.15h9v9h-9zM551.34,904.28h9v9h-9zM582.73,950.13h9v9h-9zM498.57,952.52h9v9h-9zM578.41,960.54h9v9h-9zM613.16,941.59h9v9h-9zM510.32,950.3h9v9h-9zM493.93,926.55h9v9h-9zM535.71,919.73h9v9h-9zM593.35,933.82h9v9h-9zM594.25,954.07h9v9h-9zM577.25,981.69h9v9h-9zM469.06,919.35h9v9h-9zM507.96,923.98h9v9h-9zM565.97,994.25h9v9h-9zM604.49,911.36h9v9h-9zM550.89,902.18h9v9h-9zM468.43,901.7h9v9h-9zM463.16,934.29h9v9h-9zM546.19,906.42h9v9h-9zM604.62,918.02h9v9h-9zM496.16,910.95h9v9h-9zM488.1,929.2h9v9h-9zM608.22,957.13h9v9h-9zM594.68,980.5h9v9h-9zM518.39,969.38h9v9h-9zM567.89,969.83h9v9h-9zM521.08,973.99h9v9h-9zM581.45,966.36h9v9h-9zM564.46,982.58h9v9h-9zM513.02,895.93h9v9h-9zM483.84,945.29h9v9h-9zM546.37,991.77h9v9h-9zM549.25,973.87h9v9h-9zM544.67,982.78h9v9h-9zM512.82,940.73h9v9h-9zM535.51,941.29h9v9h-9zM497.07,934.57h9v9h-9zM519.88,951.04h9v9h-9zM592.82,974.21h9v9h-9zM529.52,980.46h9v9h-9zM520.4,913.92h9v9h-9zM569.8,925.9h9v9h-9zM598.68,953.66h9v9h-9zM554.04,904.29h9v9h-9zM555.67,979.84h9v9h-9zM599.18,979.32h9v9h-9zM531.34,938.14h9v9h-9zM590.64,986.56h9v9h-9zM551.64,951.99h9v9h-9zM615.65,945.23h9v9h-9zM510.65,949.35h9v9h-9zM539.75,995.33h9v9h-9zM554.59,964.02h9v9h-9zM495.94,934.45h9v9h-9zM584.96,930.61h9v9h-9zM560.18,990.29h9v9h-9zM455.16,905.4h9v9h-9zM484.74,932.94h9v9h-9zM585.3,952.91h9v9h-9zM620.99,983.48h9v9h-9zM528.56,939.52h9v9h-9zM596.16,957.96h9v9h-9zM546.88,948.51h9v9h-9zM587.97,977.09h9v9h-9zM613.27,993.34h9v9h-9zM551.82,978.1h9v9h-9zM575.54,984.95h9v9h-9zM617.17,964.49h9v9h-9zM466.86,984.31h9v9h-9zM561.14,937.59h9v9h-9zM578.31,946.66h9v9h-9zM557.06,945.99h9v9h-9zM581.92,958.51h9v9h-9zM467.67,955.81h9v9h-9zM668.61,959.15h9v9h-9zM427.75,899.73h9v9h-9zM576.34,926.17h9v9h-9zM597.61,964.57h9v9h-9zM573.72,979.72h9v9h-9zM537.73,954.12h9v9h-9zM518.52,945.29h9v9h-9zM543.15,950.82h9v9h-9zM614,948.65h9v9h-9zM550.32,995.21h9v9h-9zM490.65,907.65h9v9h-9zM519.52,911.18h9v9h-9zM488.24,905.51h9v9h-9zM423.13,912.55h9v9h-9zM542.85,956.8h9v9h-9zM576.08,976.16h9v9h-9zM569.67,972.56h9v9h-9zM521.36,927.78h9v9h-9zM471.49,912.44h9v9h-9zM615.41,922.16h9v9h-9zM609.18,953.73h9v9h-9zM487.36,930.39h9v9h-9zM526.42,900.97h9v9h-9zM489.07,984.55h9v9h-9zM480.91,939.46h9v9h-9zM555.17,957.52h9v9h-9zM591.72,988.58h9v9h-9zM539.57,980.97h9v9h-9zM651.62,977.09h9v9h-9zM428.69,925.87h9v9h-9zM474.15,945.06h9v9h-9zM583.19,990.47h9v9h-9zM605.46,967.35h9v9h-9zM485.24,917.64h9v9h-9zM633.16,943.94h9v9h-9zM569.98,974.78h9v9h-9zM564.34,931.34h9v9h-9zM562.7,914.16h9v9h-9zM543.72,951.65h9v9h-9zM463.51,906.99h9v9h-9zM527.75,935.82h9v9h-9zM582.74,902.04h9v9h-9zM597.72,930.62h9v9h-9zM540.09,919.99h9v9h-9zM563.29,919.22h9v9h-9zM482.79,898.99h9v9h-9zM476.9,911.09h9v9h-9zM590.45,966.09h9v9h-9zM590.08,979h9v9h-9zM421.53,908.28h9v9h-9zM597.31,975.99h9v9h-9zM467.79,911.42h9v9h-9zM597.75,933.19h9v9h-9zM606.93,991.34h9v9h-9zM655.93,945.98h9v9h-9zM497.78,918.23h9v9h-9zM568.69,966.15h9v9h-9zM580.71,921.58h9v9h-9zM496.68,932.3h9v9h-9zM497.88,920.13h9v9h-9zM557.83,982.74h9v9h-9zM449.36,907.78h9v9h-9zM521.98,922.54h9v9h-9zM521.3,972.67h9v9h-9zM594.87,952.27h9v9h-9zM514.12,926.58h9v9h-9zM533.73,913.2h9v9h-9zM547.78,980.6h9v9h-9zM584.9,906.4h9v9h-9zM515.95,951.7h9v9h-9zM574.25,925.2h9v9h-9zM496.27,902.09h9v9h-9zM550.69,908.11h9v9h-9zM554.05,967.17h9v9h-9zM617.58,986.39h9v9h-9zM629.08,973h9v9h-9zM445.63,908.72h9v9h-9zM602.21,923.15h9v9h-9zM570.78,961.86h9v9h-9zM472.27,930.64h9v9h-9zM594.46,965.42h9v9h-9zM552.39,920.34h9v9h-9zM521.91,958.38h9v9h-9zM605.91,913.67h9v9h-9zM626.42,968.91h9v9h-9zM574.37,966.76h9v9h-9zM522.21,911.7h9v9h-9zM504.8,915.31h9v9h-9zM558.9,899.42h9v9h-9zM510.18,926.59h9v9h-9zM553.08,979.45h9v9h-9zM543.88,952.52h9v9h-9zM504.59,938.99h9v9h-9zM559.13,963.93h9v9h-9zM573.7,978.93h9v9h-9zM564.81,973.15h9v9h-9zM585.52,980.91h9v9h-9zM586.07,956.24h9v9h-9zM526.05,906.62h9v9h-9zM591.65,974.64h9v9h-9zM656.25,970.45h9v9h-9zM494.15,904.11h9v9h-9zM525.53,970.26h9v9h-9zM568.34,978.37h9v9h-9zM597.78,990.14h9v9h-9zM605.79,937.9h9v9h-9zM536.95,969.36h9v9h-9zM540.77,978.5h9v9h-9zM467.04,900.93h9v9h-9zM426.93,865.33h9v9h-9zM527.85,888.31h9v9h-9zM436.65,808.26h9v9h-9zM466.65,865.77h9v9h-9zM485.35,876.07h9v9h-9zM571.46,892.44h9v9h-9zM440.36,859.25h9v9h-9zM421.8,801.44h9v9h-9zM428.27,831.28h9v9h-9zM466.13,826.56h9v9h-9zM419.69,809.16h9v9h-9zM381.98,819.29h9v9h-9zM397.71,819.67h9v9h-9zM494.71,889.08h9v9h-9zM424.89,830.65h9v9h-9zM520.24,809.69h9v9h-9zM425.92,851.83h9v9h-9zM546.06,850.33h9v9h-9zM523.38,871.55h9v9h-9zM536.83,855.37h9v9h-9zM471.36,841.62h9v9h-9zM356.38,806.95h9v9h-9zM429.36,824.43h9v9h-9zM451.71,801.53h9v9h-9zM470.4,823.59h9v9h-9zM530.03,840.3h9v9h-9zM413.39,806.8h9v9h-9zM500.15,831.8h9v9h-9zM444.59,812.31h9v9h-9zM508.4,894.71h9v9h-9zM555.92,870.54h9v9h-9zM547.69,893.52h9v9h-9zM514.12,851.87h9v9h-9zM494.28,838.92h9v9h-9zM435.35,814.48h9v9h-9zM497.21,887.46h9v9h-9zM396.32,859.95h9v9h-9zM393.93,860.76h9v9h-9zM446.22,820.64h9v9h-9zM449.79,798.27h9v9h-9zM510.55,872.94h9v9h-9zM410.02,814.07h9v9h-9zM540.67,859.31h9v9h-9zM358.81,812.35h9v9h-9zM529.53,873.96h9v9h-9zM386.93,828.17h9v9h-9zM457.39,813.95h9v9h-9zM419.38,832.35h9v9h-9zM407.55,850.61h9v9h-9zM504.86,819.44h9v9h-9zM376.63,799.63h9v9h-9zM461.07,877.47h9v9h-9zM582.77,866.06h9v9h-9zM400.99,844.94h9v9h-9zM487.47,845.45h9v9h-9zM506.35,853.61h9v9h-9zM422.56,803.52h9v9h-9zM435.16,839.82h9v9h-9zM516.25,892.48h9v9h-9zM467.76,839.45h9v9h-9zM440.22,814.58h9v9h-9zM488.88,879.58h9v9h-9zM506.71,881.03h9v9h-9zM402.82,823.83h9v9h-9zM426.44,861.66h9v9h-9zM448.27,829.37h9v9h-9zM416.77,839.37h9v9h-9zM411.24,885.9h9v9h-9zM425.63,811.95h9v9h-9zM520.85,851.84h9v9h-9zM459.76,830.31h9v9h-9zM469.21,827.87h9v9h-9zM563.31,841.55h9v9h-9zM473.94,882.04h9v9h-9zM577.24,892.94h9v9h-9zM473.15,876.61h9v9h-9zM405.3,801.5h9v9h-9zM394.72,825.2h9v9h-9zM524.37,852.61h9v9h-9zM460.66,860.24h9v9h-9zM398.19,825.43h9v9h-9zM497.74,798.28h9v9h-9zM420.4,814.38h9v9h-9zM391.8,804.02h9v9h-9zM432.69,861.55h9v9h-9zM502.73,837.14h9v9h-9zM423.66,848.5h9v9h-9zM418.04,806.93h9v9h-9zM481.41,813.55h9v9h-9zM400.99,806.73h9v9h-9zM493.96,881.72h9v9h-9zM489.38,848.58h9v9h-9zM390.12,820.65h9v9h-9zM447.34,818.16h9v9h-9zM515.53,852.77h9v9h-9zM510.77,854.35h9v9h-9zM418.44,803.52h9v9h-9zM470.61,839.45h9v9h-9zM414.92,881.85h9v9h-9zM460.65,871.19h9v9h-9zM501.27,806.96h9v9h-9zM429.77,805.71h9v9h-9zM466.89,878.52h9v9h-9zM523.24,891.5h9v9h-9zM474.65,851.8h9v9h-9zM459.93,873.12h9v9h-9zM433.35,801.26h9v9h-9zM465.41,797.02h9v9h-9zM482.53,854.93h9v9h-9zM523.69,866.24h9v9h-9zM509.02,838.1h9v9h-9zM447.64,882.71h9v9h-9zM555.67,851.8h9v9h-9zM396.32,812.3h9v9h-9zM437.91,870.04h9v9h-9zM551.54,863.55h9v9h-9zM527.85,878.06h9v9h-9zM518.86,869.22h9v9h-9zM498.49,890.3h9v9h-9zM459.4,855.88h9v9h-9zM362.17,805.46h9v9h-9zM411.84,806.8h9v9h-9zM480.83,888.04h9v9h-9zM411.63,814.81h9v9h-9zM493.66,840.18h9v9h-9zM387.78,806.86h9v9h-9zM482.85,797.6h9v9h-9zM489.45,814.03h9v9h-9zM451.51,850.92h9v9h-9zM523.46,833.58h9v9h-9zM474.21,809.92h9v9h-9zM436.51,864.45h9v9h-9zM498.4,876.32h9v9h-9zM450.51,829.74h9v9h-9zM351.71,810.59h9v9h-9zM488.36,875.55h9v9h-9zM459.23,799.05h9v9h-9zM564.29,863.45h9v9h-9zM430.28,834.76h9v9h-9zM497.8,880.01h9v9h-9zM501.01,834.84h9v9h-9zM391.11,803.09h9v9h-9zM471.84,828.43h9v9h-9zM573.8,854.42h9v9h-9zM447.59,799.87h9v9h-9zM501.88,842.28h9v9h-9zM437.03,853.2h9v9h-9zM450.24,796.1h9v9h-9zM466.85,853.42h9v9h-9zM470.51,841.44h9v9h-9zM533.94,894.14h9v9h-9zM487.08,862.6h9v9h-9zM439.73,822.77h9v9h-9zM497.64,821.71h9v9h-9zM351.18,852.4h9v9h-9zM480.65,894.72h9v9h-9zM363.67,798.91h9v9h-9zM461.41,882.74h9v9h-9zM438.36,872.93h9v9h-9zM406.67,831.79h9v9h-9zM473.25,823.66h9v9h-9zM395.19,889.36h9v9h-9zM451.63,863.63h9v9h-9zM566.46,869.45h9v9h-9zM436.99,846.39h9v9h-9zM435.89,850.57h9v9h-9zM496.8,836.1h9v9h-9zM466.44,827.82h9v9h-9zM452.47,894.34h9v9h-9zM449.83,819.84h9v9h-9zM430.57,818.98h9v9h-9zM443.66,796.22h9v9h-9zM440.03,882.6h9v9h-9zM486.3,852.37h9v9h-9zM457.74,825.74h9v9h-9zM464.02,825.65h9v9h-9zM441.92,826.35h9v9h-9zM432.79,889.24h9v9h-9zM505.26,829.55h9v9h-9zM406.01,803.5h9v9h-9zM329.3,813.37h9v9h-9zM389.04,831.2h9v9h-9zM393.9,872.94h9v9h-9zM466.9,802.27h9v9h-9zM494.86,843.95h9v9h-9zM425.23,821.25h9v9h-9zM443.65,797.81h9v9h-9zM516.18,865.94h9v9h-9zM419.6,817.33h9v9h-9zM493.08,855.79h9v9h-9zM473.68,881.91h9v9h-9zM457.14,868.89h9v9h-9zM484.73,891.81h9v9h-9zM477.69,876.45h9v9h-9zM479.93,883.05h9v9h-9zM460.06,814.32h9v9h-9zM517.15,849.19h9v9h-9zM445.07,887.79h9v9h-9zM409.16,816.72h9v9h-9zM550.71,860.39h9v9h-9zM439.87,836.03h9v9h-9zM396.63,801.24h9v9h-9zM520.86,836.93h9v9h-9zM470.06,828.95h9v9h-9zM435.19,844.94h9v9h-9zM441.7,841.84h9v9h-9zM472.8,796.86h9v9h-9zM472.55,894.25h9v9h-9zM380.54,801.1h9v9h-9zM404.49,828.42h9v9h-9zM445.74,804.84h9v9h-9zM510.63,872.22h9v9h-9zM449.67,804.49h9v9h-9zM422.18,849.37h9v9h-9zM405.34,854.35h9v9h-9zM449.32,855.66h9v9h-9zM450.02,828.58h9v9h-9zM443.35,866.64h9v9h-9zM493.76,871.83h9v9h-9zM443.52,872.76h9v9h-9zM461.45,893.24h9v9h-9zM478.57,847.83h9v9h-9zM505.7,889.59h9v9h-9zM468.24,843.08h9v9h-9zM485.08,861.04h9v9h-9zM453.22,894.45h9v9h-9zM444.53,818.32h9v9h-9zM410.21,798.3h9v9h-9zM482.33,808.91h9v9h-9zM490.98,851.02h9v9h-9zM477.92,813.68h9v9h-9zM422.55,810.43h9v9h-9zM432.29,813.24h9v9h-9zM343.04,811.71h9v9h-9zM433.12,798.4h9v9h-9zM463.92,893.73h9v9h-9zM436.8,845.39h9v9h-9zM453.48,875.55h9v9h-9zM416.93,841.51h9v9h-9zM514.61,806.28h9v9h-9zM551.5,868.84h9v9h-9zM484.14,835.69h9v9h-9zM558.09,881.91h9v9h-9zM480.18,836.49h9v9h-9zM570.11,887.41h9v9h-9zM422.78,817.91h9v9h-9zM442.04,820.69h9v9h-9zM490.24,818.64h9v9h-9zM445.31,815.82h9v9h-9zM385.67,825.35h9v9h-9zM519.89,894.93h9v9h-9zM491.82,811.17h9v9h-9zM522.99,881.81h9v9h-9zM456.02,870.65h9v9h-9zM481.78,877.78h9v9h-9zM505.9,844.06h9v9h-9zM539.42,884.6h9v9h-9zM536.35,855.26h9v9h-9zM376.59,840.8h9v9h-9zM399.62,816.48h9v9h-9zM436.97,883.86h9v9h-9zM565.41,881.83h9v9h-9zM531.1,813.73h9v9h-9zM340.48,825.26h9v9h-9zM510.95,797.94h9v9h-9zM496.32,796.44h9v9h-9zM549.56,886.66h9v9h-9zM488.25,805.25h9v9h-9zM431.42,812.37h9v9h-9zM434.78,829.45h9v9h-9zM475.66,887.35h9v9h-9zM393.32,893.47h9v9h-9zM435.06,798.79h9v9h-9zM569.47,864.45h9v9h-9zM399.09,799.29h9v9h-9zM458.93,838.55h9v9h-9zM560.17,805.99h9v9h-9zM467.93,827.15h9v9h-9zM540.48,883.36h9v9h-9zM469.73,809.08h9v9h-9zM490.25,838.35h9v9h-9zM495.25,810.29h9v9h-9zM459.62,869.32h9v9h-9zM453.68,830.86h9v9h-9zM503.58,845.13h9v9h-9zM423.11,817.01h9v9h-9zM568.52,892.25h9v9h-9zM399.44,822.8h9v9h-9zM438.2,813.22h9v9h-9zM444.25,799.82h9v9h-9zM415.3,846.38h9v9h-9zM486.14,831.76h9v9h-9zM404.2,796.56h9v9h-9zM404.16,849.9h9v9h-9zM419.18,850.38h9v9h-9zM355,882.91h9v9h-9zM447.09,867.28h9v9h-9zM482.99,837.41h9v9h-9zM462.47,892.79h9v9h-9zM487.96,836.5h9v9h-9zM382.65,709.81h9v9h-9zM403.89,756.28h9v9h-9zM419.83,788.13h9v9h-9zM447.88,733.2h9v9h-9zM390.31,719.58h9v9h-9zM435.86,779.81h9v9h-9zM424.43,773.9h9v9h-9zM401.64,764.92h9v9h-9zM356.68,727.94h9v9h-9zM346.37,727.06h9v9h-9zM490.27,792.66h9v9h-9zM417.83,780.85h9v9h-9zM287.48,746.51h9v9h-9zM309.66,718.94h9v9h-9zM403.45,758.45h9v9h-9zM370.11,766.72h9v9h-9zM336.14,734.85h9v9h-9zM398.55,763.22h9v9h-9zM352.53,727.71h9v9h-9zM345.11,717.83h9v9h-9zM395.83,756.75h9v9h-9zM485.97,742.83h9v9h-9zM364.48,767.66h9v9h-9zM376.14,717.62h9v9h-9zM424.24,709.71h9v9h-9zM377.17,747.89h9v9h-9zM411.23,748.25h9v9h-9zM351.62,712.74h9v9h-9zM359.76,777.69h9v9h-9zM430.26,778.24h9v9h-9zM427.74,784.9h9v9h-9zM382.41,733.63h9v9h-9zM424.8,778.71h9v9h-9zM359.51,710.88h9v9h-9zM415.45,720.65h9v9h-9zM437.51,775.82h9v9h-9zM382.36,747.64h9v9h-9zM397.42,735.05h9v9h-9zM410.53,795.2h9v9h-9zM354.62,743.33h9v9h-9zM415.68,775.33h9v9h-9zM384.79,763.52h9v9h-9zM360.54,732.19h9v9h-9zM386.95,732.58h9v9h-9zM383.46,729.51h9v9h-9zM386.9,715.59h9v9h-9zM425.83,752.55h9v9h-9zM419.02,767.32h9v9h-9zM371.77,722.96h9v9h-9zM443.2,778.91h9v9h-9zM321.24,704.63h9v9h-9zM319.45,715.67h9v9h-9zM408.77,737.81h9v9h-9zM335.72,732.66h9v9h-9zM335.41,699.89h9v9h-9zM423.4,766.75h9v9h-9zM336.62,725.02h9v9h-9zM447.01,776.58h9v9h-9zM349.07,730.74h9v9h-9zM456.19,787.98h9v9h-9zM445.63,714.66h9v9h-9zM379.34,732.74h9v9h-9zM399.65,762.06h9v9h-9zM425.7,771.1h9v9h-9zM343.68,733.44h9v9h-9zM412.47,785.63h9v9h-9zM465.71,771.2h9v9h-9zM404.75,741.75h9v9h-9zM418.61,741.72h9v9h-9zM360.6,742.86h9v9h-9zM376.01,784.54h9v9h-9zM416.23,746.68h9v9h-9zM384.07,777.97h9v9h-9zM333.22,735.67h9v9h-9zM350.01,699.56h9v9h-9zM366.32,772.42h9v9h-9zM433.9,772.49h9v9h-9zM394.72,703.21h9v9h-9zM429.39,777.25h9v9h-9zM422.31,770.83h9v9h-9zM459.67,751.94h9v9h-9zM430.39,766.61h9v9h-9zM456.26,743.78h9v9h-9zM414.77,737.29h9v9h-9zM477.85,753.89h9v9h-9zM417.57,782.69h9v9h-9zM353.03,710.05h9v9h-9zM414.62,696.1h9v9h-9zM420.06,794.37h9v9h-9zM419.61,726.8h9v9h-9zM417.93,721h9v9h-9zM358.15,746.6h9v9h-9zM426.89,737.52h9v9h-9zM429.01,782.18h9v9h-9zM433.95,775.7h9v9h-9zM356.48,715.7h9v9h-9zM333.91,700.71h9v9h-9zM386.91,741.92h9v9h-9zM363.55,744.4h9v9h-9zM395.21,775.64h9v9h-9zM427.88,715.53h9v9h-9zM347.41,700.62h9v9h-9zM346.27,726.93h9v9h-9zM392.92,751.99h9v9h-9zM377.42,727.86h9v9h-9zM459.59,724.65h9v9h-9zM427.17,766.56h9v9h-9zM343.44,740.96h9v9h-9zM344.48,788.99h9v9h-9zM402.84,701.27h9v9h-9zM342.61,638.87h9v9h-9zM355.61,681.76h9v9h-9zM318.17,602.69h9v9h-9zM352.84,687.74h9v9h-9zM369.94,651.61h9v9h-9zM313.7,662.89h9v9h-9zM351.32,663h9v9h-9zM392.19,679.33h9v9h-9zM363.45,610.08h9v9h-9zM326.13,605.59h9v9h-9zM358.96,605.02h9v9h-9zM254.9,636.97h9v9h-9zM354.35,661.39h9v9h-9zM447.98,664.09h9v9h-9zM396.76,610.98h9v9h-9zM357.48,599.68h9v9h-9zM356.62,679.11h9v9h-9zM384.13,653.71h9v9h-9zM325.57,627.37h9v9h-9zM358.47,686.69h9v9h-9zM359.1,627.94h9v9h-9zM343.62,675.44h9v9h-9zM361.38,693.51h9v9h-9zM355.24,633.5h9v9h-9zM366.42,659.58h9v9h-9zM386.31,604.86h9v9h-9zM346,641.95h9v9h-9zM316.5,663.39h9v9h-9zM348.8,606.94h9v9h-9zM349.07,687.83h9v9h-9zM418.02,695.11h9v9h-9zM327.89,624.58h9v9h-9zM347.79,630.29h9v9h-9zM319.17,688.48h9v9h-9zM262.46,604.8h9v9h-9zM364.14,655.28h9v9h-9zM373.14,649.57h9v9h-9zM356.3,622.62h9v9h-9zM383.6,684.81h9v9h-9zM343.14,687.96h9v9h-9zM255.49,598.74h9v9h-9zM287.63,629.93h9v9h-9zM361.14,689.94h9v9h-9zM336.67,628.81h9v9h-9zM352.31,640.46h9v9h-9zM405.51,613.39h9v9h-9zM358.41,674.27h9v9h-9zM369.64,651.42h9v9h-9zM274.76,605.07h9v9h-9zM333.7,655.06h9v9h-9zM367.42,541.64h9v9h-9zM326.35,505.22h9v9h-9zM361.21,560.18h9v9h-9zM357.48,530.79h9v9h-9zM311.78,532.97h9v9h-9zM300.73,512.47h9v9h-9zM298.66,589.65h9v9h-9zM395.97,582.84h9v9h-9zM334.7,543.52h9v9h-9zM346.55,583.41h9v9h-9zM274.05,507.21h9v9h-9zM318.92,507.26h9v9h-9zM348.04,542.28h9v9h-9zM364.42,546.18h9v9h-9zM334.68,532.19h9v9h-9zM353.84,515.85h9v9h-9zM322.59,508.21h9v9h-9zM399.34,545.68h9v9h-9zM423.16,584.56h9v9h-9zM333.55,544.34h9v9h-9zM279.7,574.6h9v9h-9zM296.74,518.43h9v9h-9zM347.1,570.5h9v9h-9zM338.72,498.59h9v9h-9zM293.5,534.83h9v9h-9zM309.96,484.55h9v9h-9zM271.74,403.93h9v9h-9zM294.61,455.03h9v9h-9zM308.03,473.9h9v9h-9zM286.95,420.08h9v9h-9zM318.16,455.42h9v9h-9zM306.72,457.32h9v9h-9zM322.55,464.68h9v9h-9zM281.49,476.56h9v9h-9zM225.5,115.5h9v9h-9zM150.5,202.5h9v9h-9zM313.5,278.5h9v9h-9zM305.5,303.5h9v9h-9zM365.5,367.5h9v9h-9zM371.5,403.5h9v9h-9zM231.5,408.5h9v9h-9zM265.5,405.5h9v9h-9zM350.5,431.5h9v9h-9zM185.5,450.5h9v9h-9zM603.5,647.5h9v9h-9zM635.5,693.5h9v9h-9zM213.5,752.5h9v9h-9zM130.5,780.5h9v9h-9zM219.5,940.5h9v9h-9zM225.5,961.5h9v9h-9zM300.5,952.5h9v9h-9zM175.5,1005.5h9v9h-9zM390.5,993.5h9v9h-9zM423.5,1043.5h9v9h-9zM473.5,1167.5h9v9h-9zM555.5,1165.5h9v9h-9zM510.5,730.5h9v9h-9zM567.5,777.5h9v9h-9zM540.5,790.5h9v9h-9zM617.5,830.5h9v9h-9z" fill="#619cff"/><path d="M797,1183L850,1183L905,1110L925,1040L880,1040L830,1080L798,1130Z" fill="#f8766d" opacity="0.6"/><path d="M833.89,1135.25h8v8h-8zM815,1175.93h8v8h-8zM825.15,1131.02h8v8h-8zM843.86,1116.81h8v8h-8zM818.49,1158.37h8v8h-8zM823.37,1125.27h8v8h-8zM847.31,1107.93h8v8h-8zM850.56,1124.14h8v8h-8zM836.7,1178.96h8v8h-8zM830.04,1136.78h8v8h-8zM838.09,1138.27h8v8h-8zM824.13,1159.87h8v8h-8zM805.74,1112.92h8v8h-8zM799.73,1162.86h8v8h-8zM838.05,1103.85h8v8h-8zM817.75,1109.79h8v8h-8zM805.41,1178.09h8v8h-8zM803.87,1107.47h8v8h-8zM849.01,1166.42h8v8h-8zM808.74,1159.32h8v8h-8zM825.68,1166.76h8v8h-8zM805.46,1133h8v8h-8zM826.02,1166.14h8v8h-8zM847.13,1121.41h8v8h-8zM838.11,1141.19h8v8h-8zM812.94,1178.32h8v8h-8zM820.43,1162.94h8v8h-8zM884.94,1115.73h8v8h-8zM822.05,1112.83h8v8h-8zM834.1,1137.87h8v8h-8zM808.56,1173.19h8v8h-8zM802.03,1129.32h8v8h-8zM827.26,1162.63h8v8h-8zM797,1176.05h8v8h-8zM814.33,1166.19h8v8h-8zM829.29,1151.46h8v8h-8zM808.75,1167.08h8v8h-8zM835.86,1167.09h8v8h-8zM838.36,1163.4h8v8h-8zM846.38,1097.39h8v8h-8zM852.9,1105.4h8v8h-8zM809.01,1147.4h8v8h-8zM824.03,1134.89h8v8h-8zM847.99,1126.07h8v8h-8zM810.16,1167.79h8v8h-8zM828.13,1103.48h8v8h-8zM829.61,1119.04h8v8h-8zM806.9,1152.18h8v8h-8zM836.77,1164.61h8v8h-8zM873.17,1099.53h8v8h-8zM824.42,1165.95h8v8h-8zM824.59,1177.41h8v8h-8zM841.93,1126.8h8v8h-8zM864.27,1147.87h8v8h-8zM804.7,1171.98h8v8h-8zM824.63,1177.24h8v8h-8zM842.64,1139.07h8v8h-8zM818.73,1166.6h8v8h-8zM840.14,1109.79h8v8h-8zM840.28,1110.9h8v8h-8zM793.26,1176.33h8v8h-8zM850.27,1117.32h8v8h-8zM857.58,1125.95h8v8h-8zM829.08,1169.29h8v8h-8zM797.08,1139.68h8v8h-8zM839.42,1171.97h8v8h-8zM846.22,1152.64h8v8h-8zM845.2,1133.75h8v8h-8zM803.3,1177.42h8v8h-8zM845.86,1149.71h8v8h-8zM801.26,1127.95h8v8h-8zM814.16,1173.11h8v8h-8zM794.17,1138.34h8v8h-8zM900.13,1100.84h8v8h-8zM811.7,1166.96h8v8h-8zM807.36,1134.06h8v8h-8zM841.98,1159.84h8v8h-8zM805.66,1159.73h8v8h-8zM838.1,1098.98h8v8h-8zM821.67,1177h8v8h-8zM828.72,1171.77h8v8h-8zM847.24,1145.03h8v8h-8zM809.27,1099.97h8v8h-8zM843.91,1150.53h8v8h-8zM838.54,1119.87h8v8h-8zM812.63,1142.26h8v8h-8zM863.02,1131.76h8v8h-8zM817.25,1164.42h8v8h-8zM792.11,1153.5h8v8h-8zM852.46,1156.32h8v8h-8zM822.16,1154.72h8v8h-8zM838.6,1144.89h8v8h-8zM823.27,1166.2h8v8h-8zM818.62,1107.89h8v8h-8zM837.92,1139.86h8v8h-8zM815.67,1158.76h8v8h-8zM837.36,1110.51h8v8h-8zM843.6,1121.3h8v8h-8zM888.51,1128.55h8v8h-8zM826.81,1111.91h8v8h-8zM850.44,1122.3h8v8h-8zM830.48,1123.28h8v8h-8zM844.63,1133.26h8v8h-8zM844,1129.49h8v8h-8zM850.42,1128.77h8v8h-8zM835.05,1113.34h8v8h-8zM792.52,1173.25h8v8h-8zM836.05,1150.15h8v8h-8zM817.55,1162.18h8v8h-8zM830.15,1160.35h8v8h-8zM802.49,1135.97h8v8h-8zM813.34,1159.97h8v8h-8zM802.9,1119.41h8v8h-8zM862.19,1140.99h8v8h-8zM824.37,1120.51h8v8h-8zM812.45,1161.57h8v8h-8zM861.05,1099.51h8v8h-8zM809.08,1126.06h8v8h-8zM814.98,1175.89h8v8h-8zM863.75,1101.94h8v8h-8zM829.13,1142.63h8v8h-8zM800.59,1131.08h8v8h-8zM830.03,1164.66h8v8h-8zM835.11,1150.81h8v8h-8zM802.24,1178.22h8v8h-8zM803.36,1161.84h8v8h-8zM866.62,1129.53h8v8h-8zM821.48,1125.05h8v8h-8zM840.35,1129.37h8v8h-8zM818.25,1111.79h8v8h-8zM801.39,1170.09h8v8h-8zM820.42,1152.9h8v8h-8zM825.4,1172.63h8v8h-8zM862.13,1101.61h8v8h-8zM836.37,1131.12h8v8h-8zM827.02,1145.11h8v8h-8zM817.67,1130.31h8v8h-8zM813.79,1167.81h8v8h-8zM825.41,1163.02h8v8h-8zM816.12,1153.08h8v8h-8zM828.22,1160.1h8v8h-8zM822.1,1159.16h8v8h-8zM801.6,1165.78h8v8h-8zM798.99,1107.16h8v8h-8zM816.87,1155.85h8v8h-8zM806.07,1119.38h8v8h-8zM803.86,1101.72h8v8h-8zM810.62,1119.21h8v8h-8zM840.97,1114.11h8v8h-8zM831.89,1153.46h8v8h-8zM818.57,1178.86h8v8h-8zM808.59,1155.45h8v8h-8zM856.27,1102.14h8v8h-8zM824.85,1096.29h8v8h-8zM835.12,1149.49h8v8h-8zM860.72,1101.02h8v8h-8zM796.09,1133.88h8v8h-8zM827.93,1099.37h8v8h-8zM827.61,1166.33h8v8h-8zM834.04,1149.5h8v8h-8zM820.86,1124.91h8v8h-8zM866.78,1114.52h8v8h-8zM828.07,1163.44h8v8h-8zM847.97,1164.74h8v8h-8zM861.87,1141.65h8v8h-8zM854.19,1098.41h8v8h-8zM823.47,1138.9h8v8h-8zM828.82,1149.55h8v8h-8zM808.53,1157.59h8v8h-8zM819.43,1139.53h8v8h-8zM832.71,1146.04h8v8h-8zM838.14,1180.63h8v8h-8zM833.4,1164.35h8v8h-8zM811.81,1179.83h8v8h-8zM829.46,1102.07h8v8h-8zM833.01,1134.59h8v8h-8zM819.3,1154.03h8v8h-8zM811.09,1125.04h8v8h-8zM823.25,1112.14h8v8h-8zM851.41,1112.51h8v8h-8zM805.1,1158.56h8v8h-8zM836.96,1112.8h8v8h-8zM827.8,1155.82h8v8h-8zM842.2,1143.62h8v8h-8zM851.01,1155.6h8v8h-8zM812.06,1176.61h8v8h-8zM812.93,1174.2h8v8h-8zM801.59,1101.33h8v8h-8zM888.57,1113.48h8v8h-8zM825.58,1157.37h8v8h-8zM824.38,1149.57h8v8h-8zM864.46,1109.91h8v8h-8zM841.03,1149.74h8v8h-8zM843.34,1099.76h8v8h-8zM807.26,1110.89h8v8h-8zM845.82,1164.38h8v8h-8zM839.32,1134.68h8v8h-8zM848.34,1109.08h8v8h-8zM827.53,1162.08h8v8h-8zM828.95,1163.55h8v8h-8zM835.42,1136.48h8v8h-8zM830.14,1105.25h8v8h-8zM814.98,1143.89h8v8h-8zM837.12,1117.41h8v8h-8zM881.91,1097.8h8v8h-8zM804.77,1176.35h8v8h-8zM796.19,1179.35h8v8h-8zM847.44,1128.65h8v8h-8zM824.39,1165.01h8v8h-8zM833.08,1097.09h8v8h-8zM818.53,1114.19h8v8h-8zM831.82,1096.78h8v8h-8zM823.12,1166.58h8v8h-8zM814.91,1099.68h8v8h-8zM812.39,1171.57h8v8h-8zM833.79,1123.49h8v8h-8zM841.59,1149.09h8v8h-8zM812.04,1150.35h8v8h-8zM841.64,1113.49h8v8h-8zM881.27,1128.52h8v8h-8zM831.18,1104.84h8v8h-8zM832.62,1112.99h8v8h-8zM806.1,1134.79h8v8h-8zM811.22,1156.09h8v8h-8zM862.61,1133.37h8v8h-8zM862.23,1100.57h8v8h-8zM806.16,1136.01h8v8h-8zM837.7,1156.67h8v8h-8zM816.44,1116.38h8v8h-8zM805.56,1136.1h8v8h-8zM912.96,1010.18h8v8h-8zM839.35,1002.27h8v8h-8zM892.8,1019.86h8v8h-8zM859.02,1035.23h8v8h-8zM870.94,1074.81h8v8h-8zM812.37,1070.16h8v8h-8zM964.26,999.83h8v8h-8zM897.67,1076.27h8v8h-8zM899.38,999.81h8v8h-8zM854.2,1089.07h8v8h-8zM823.15,1017.96h8v8h-8zM868.89,1059.86h8v8h-8zM868.62,1022.3h8v8h-8zM857.02,1071.71h8v8h-8zM931.3,1006.38h8v8h-8zM855.92,1014.69h8v8h-8zM869.98,1076.71h8v8h-8zM909.8,1006.58h8v8h-8zM904.41,1074.7h8v8h-8zM811.2,996.23h8v8h-8zM797.29,1081.14h8v8h-8zM836.11,1046.25h8v8h-8zM806,1057.98h8v8h-8zM828,1003.76h8v8h-8zM836.83,1001.42h8v8h-8zM852.56,1035.7h8v8h-8zM870.52,996.76h8v8h-8zM843.55,1078.97h8v8h-8zM835.61,1077.16h8v8h-8zM859.13,1061.01h8v8h-8zM848.76,1016.71h8v8h-8zM852.5,1093.65h8v8h-8zM848.18,1050.61h8v8h-8zM864.04,1069.02h8v8h-8zM857.82,1080.97h8v8h-8zM847.92,1032.76h8v8h-8zM865.1,1026.27h8v8h-8zM836.94,1056.64h8v8h-8zM846.93,1093.86h8v8h-8zM864.32,1003.5h8v8h-8zM848.84,1007.37h8v8h-8zM814.11,1048.01h8v8h-8zM818.71,1041.56h8v8h-8zM879.65,1060.86h8v8h-8zM842.44,1087.64h8v8h-8zM796.34,1087.29h8v8h-8zM848.5,1079.72h8v8h-8zM846.06,1064.09h8v8h-8zM793.74,1081h8v8h-8zM900.64,1013.98h8v8h-8zM805.32,1090.27h8v8h-8zM886.24,1021.26h8v8h-8zM844.07,1026.05h8v8h-8zM897.98,1005.47h8v8h-8zM911.71,1040.29h8v8h-8zM842.64,1089.22h8v8h-8zM904.17,1072.23h8v8h-8zM845.08,1071.27h8v8h-8zM858.01,1020.97h8v8h-8zM869.4,1019.08h8v8h-8zM872.07,1084.63h8v8h-8zM838.45,1073.04h8v8h-8zM894.29,1073.5h8v8h-8zM818.46,1049.2h8v8h-8zM884.43,1006.49h8v8h-8zM829.68,1058.7h8v8h-8zM849.33,1032.71h8v8h-8zM836.89,1049.09h8v8h-8zM851.71,1060.99h8v8h-8zM831.7,1087.38h8v8h-8zM867.48,1064.98h8v8h-8zM862.25,1017.24h8v8h-8zM869.05,1024.74h8v8h-8zM860.97,1022.02h8v8h-8zM872.98,1067.58h8v8h-8zM858.61,1039.8h8v8h-8zM834.29,1064.69h8v8h-8zM803.67,1071.31h8v8h-8zM864.38,1020.85h8v8h-8zM861.37,1065.11h8v8h-8zM859.74,1016.92h8v8h-8zM939.95,1060.33h8v8h-8zM830.9,1055.11h8v8h-8zM817.43,1065.49h8v8h-8zM876.33,1026.39h8v8h-8zM876.72,997.45h8v8h-8zM873.29,1032.15h8v8h-8zM872.04,1045.37h8v8h-8zM838.07,1092.95h8v8h-8zM828.7,1072.94h8v8h-8zM893.71,1013.79h8v8h-8zM878.91,1036.89h8v8h-8zM804.64,1064.95h8v8h-8zM890.9,1005.48h8v8h-8zM817.7,1089.23h8v8h-8zM935.93,999.07h8v8h-8zM859.16,1078.88h8v8h-8zM910.71,1076.29h8v8h-8zM853.44,1063.07h8v8h-8zM871.69,1014.99h8v8h-8zM871.89,1086.49h8v8h-8zM897.85,1054.7h8v8h-8zM862.17,1062.12h8v8h-8zM889.09,1005.71h8v8h-8zM815.98,1094.27h8v8h-8zM889.92,1052.96h8v8h-8zM871.59,1018.33h8v8h-8zM851.74,1081.25h8v8h-8zM904.93,1009.01h8v8h-8zM845.96,1068.26h8v8h-8zM874.75,1009.84h8v8h-8zM834.56,1032.62h8v8h-8zM877.96,1048.3h8v8h-8zM866.13,1075.6h8v8h-8zM816.52,1024.53h8v8h-8zM910.43,1018.4h8v8h-8zM873.63,1015.39h8v8h-8zM897.5,1032.53h8v8h-8zM840.12,1060.14h8v8h-8zM866.05,1062.36h8v8h-8zM850.79,1079.64h8v8h-8zM868.76,1039.83h8v8h-8zM806.44,1007.58h8v8h-8zM884.63,1005.37h8v8h-8zM843.33,1007.78h8v8h-8zM868.31,1019.07h8v8h-8zM869.89,1040.03h8v8h-8zM871.35,1032.11h8v8h-8zM900.82,1042.92h8v8h-8zM848.98,1003.15h8v8h-8zM863.62,1018.24h8v8h-8zM810.91,1083.02h8v8h-8zM855.58,1092.25h8v8h-8zM836.58,1090.37h8v8h-8zM859.24,1048.48h8v8h-8zM867.63,1082.47h8v8h-8zM892.25,1017.24h8v8h-8zM859.28,1088.41h8v8h-8zM857.84,1042.09h8v8h-8zM845.75,1041.3h8v8h-8zM878.39,1027.78h8v8h-8zM914.32,1032.12h8v8h-8zM914,1007.97h8v8h-8zM862.01,1014h8v8h-8zM841.92,997.09h8v8h-8zM829.32,998.45h8v8h-8zM856.61,1043.03h8v8h-8zM817.17,1019.41h8v8h-8zM818.36,1045.9h8v8h-8zM831.84,1010.5h8v8h-8zM898.48,1076.36h8v8h-8zM833.05,1081.73h8v8h-8zM880.92,1032.77h8v8h-8zM851.22,1018.69h8v8h-8zM867.38,1055.8h8v8h-8zM856.23,1017.7h8v8h-8zM848.92,999.59h8v8h-8zM874.3,1015.15h8v8h-8zM849.19,1070.89h8v8h-8zM815.56,1063.91h8v8h-8zM899.57,997.26h8v8h-8zM850.88,1043.71h8v8h-8zM896.64,1047.17h8v8h-8zM835.76,1095.19h8v8h-8zM868.7,1058.12h8v8h-8zM938.53,1016.19h8v8h-8zM826.69,1095.96h8v8h-8zM852.48,1092.12h8v8h-8zM834.28,1028.18h8v8h-8zM870.79,1062.87h8v8h-8zM853.02,998.3h8v8h-8zM863.17,1078.8h8v8h-8zM845.69,996.02h8v8h-8zM842.43,1041.42h8v8h-8zM852.53,1052.19h8v8h-8zM844.56,1020.04h8v8h-8zM890.19,1008.05h8v8h-8zM861.94,1009.71h8v8h-8zM794.84,1048.22h8v8h-8zM827.5,1001.69h8v8h-8zM890.61,1019.43h8v8h-8zM900.81,1041.24h8v8h-8zM901.58,1036.89h8v8h-8zM821.03,1082.02h8v8h-8zM838.98,1091.69h8v8h-8zM946.8,1036.78h8v8h-8zM886.36,1001.16h8v8h-8zM860.57,997.75h8v8h-8zM839.74,1024.96h8v8h-8zM924.75,1083.05h8v8h-8zM871.59,1038.01h8v8h-8zM842.94,1061.34h8v8h-8zM877.53,1047.28h8v8h-8zM870.94,1061.81h8v8h-8zM879.15,1054.63h8v8h-8zM838.17,1092.24h8v8h-8zM911.66,1003.6h8v8h-8zM835.68,1014.15h8v8h-8zM852.85,1065.21h8v8h-8zM888.92,1032.63h8v8h-8zM851.94,1048.39h8v8h-8zM841.38,1070.13h8v8h-8zM806.51,1058.43h8v8h-8zM859.15,1075.96h8v8h-8zM808.49,996.96h8v8h-8zM860.72,1066.91h8v8h-8zM890.07,1060.75h8v8h-8zM922.17,1074.57h8v8h-8zM853.83,1019.29h8v8h-8zM899.31,1036.91h8v8h-8zM863.76,1092.16h8v8h-8zM839.07,1069.53h8v8h-8zM829.33,1031.97h8v8h-8zM809.11,1008.76h8v8h-8zM872.12,1018.26h8v8h-8zM901.96,999.57h8v8h-8zM832.78,1009.6h8v8h-8zM892.83,1003.78h8v8h-8zM897.96,1054.24h8v8h-8zM844.91,1031.57h8v8h-8zM834.96,1066.44h8v8h-8zM867.37,1044.17h8v8h-8zM859.46,997.76h8v8h-8zM842.26,1032.97h8v8h-8zM852.64,1092.25h8v8h-8zM792.57,1060.21h8v8h-8zM831.02,1059.46h8v8h-8zM876.54,1015.63h8v8h-8zM860.94,1026.08h8v8h-8zM918.29,1056.11h8v8h-8zM878.16,1080.97h8v8h-8zM829.1,1015.83h8v8h-8zM805.02,997.5h8v8h-8zM850.85,1023.24h8v8h-8zM894.54,1003.01h8v8h-8zM854.2,1065.59h8v8h-8zM875.03,996.39h8v8h-8zM878.18,1067.11h8v8h-8zM860.1,1094.72h8v8h-8zM849.36,1089.46h8v8h-8zM894.31,993h8v8h-8zM913.85,948.23h8v8h-8zM837.57,928.02h8v8h-8zM912.98,921.85h8v8h-8zM915.4,901.5h8v8h-8zM903.94,905.14h8v8h-8zM866.95,958.41h8v8h-8zM842.96,975.17h8v8h-8zM848.43,968.88h8v8h-8zM934.54,914.84h8v8h-8zM859.59,988.9h8v8h-8zM882.06,911.39h8v8h-8zM824.09,965.26h8v8h-8zM936.94,918.94h8v8h-8zM881.28,975.72h8v8h-8zM860.19,954.62h8v8h-8zM864.22,915.13h8v8h-8zM799.09,975.13h8v8h-8zM945.57,919.12h8v8h-8zM916.84,952.5h8v8h-8zM910.99,909.82h8v8h-8zM949.63,906.79h8v8h-8zM880.3,959.4h8v8h-8zM918.52,938.35h8v8h-8zM878.5,949.32h8v8h-8zM865.58,968.44h8v8h-8zM869.1,918.1h8v8h-8zM938.65,965.12h8v8h-8zM903.59,957.47h8v8h-8zM866.18,927.11h8v8h-8zM875.98,962.25h8v8h-8zM914.61,918.63h8v8h-8zM907.93,973.13h8v8h-8zM812.34,991.87h8v8h-8zM861.2,975.44h8v8h-8zM912.41,968.12h8v8h-8zM873.32,901.57h8v8h-8zM876.44,900.91h8v8h-8zM942.53,947.37h8v8h-8zM954.47,983.73h8v8h-8zM889.31,942.18h8v8h-8zM902.81,946.68h8v8h-8zM833.21,948.13h8v8h-8zM935.56,948.93h8v8h-8zM888.6,973.54h8v8h-8zM894.32,934.7h8v8h-8zM880.21,944.35h8v8h-8zM958.22,918.19h8v8h-8zM810.51,927.82h8v8h-8zM885.6,973.03h8v8h-8zM903.97,933.17h8v8h-8zM912.46,957.87h8v8h-8zM821.62,906.49h8v8h-8zM904.1,923.86h8v8h-8zM998.47,899.74h8v8h-8zM875.74,908.9h8v8h-8zM853.08,942.59h8v8h-8zM861.16,902.85h8v8h-8zM882.12,971.07h8v8h-8zM836.85,904.57h8v8h-8zM983.24,935.39h8v8h-8zM961.07,901.12h8v8h-8zM888.13,924.8h8v8h-8zM862.56,906.65h8v8h-8zM920.93,903.06h8v8h-8zM920.12,979.31h8v8h-8zM925.81,912.91h8v8h-8zM952.83,938.58h8v8h-8zM909.45,929.8h8v8h-8zM893.59,993.17h8v8h-8zM883.82,907.7h8v8h-8zM943.46,985.17h8v8h-8zM877.36,986.43h8v8h-8zM905.55,924.87h8v8h-8zM865.75,942.52h8v8h-8zM810.53,908.96h8v8h-8zM909.39,915.37h8v8h-8zM869.37,977.34h8v8h-8zM884.7,929.89h8v8h-8zM917.11,942.92h8v8h-8zM920.37,995.06h8v8h-8zM959.41,928.12h8v8h-8zM886.08,913.28h8v8h-8zM842.93,914.75h8v8h-8zM923.12,937.84h8v8h-8zM797.99,953.49h8v8h-8zM896.54,897.04h8v8h-8zM814.76,985.94h8v8h-8zM833.63,991.2h8v8h-8zM949.33,977.89h8v8h-8zM854.82,922.6h8v8h-8zM918.07,931.29h8v8h-8zM909.38,933.82h8v8h-8zM892.39,986.95h8v8h-8zM818.61,937.06h8v8h-8zM806.69,971.56h8v8h-8zM962.03,920.44h8v8h-8zM834.41,995.06h8v8h-8zM878.9,968.81h8v8h-8zM798.12,921.32h8v8h-8zM815.21,961.59h8v8h-8zM952.13,909.36h8v8h-8zM836.46,949.91h8v8h-8zM959.07,930.53h8v8h-8zM925.39,980.39h8v8h-8zM806.18,909.91h8v8h-8zM869.93,989.83h8v8h-8zM810.68,961.25h8v8h-8zM932.87,900.8h8v8h-8zM839.35,941.57h8v8h-8zM904.44,829.93h8v8h-8zM806.02,882.98h8v8h-8zM868.29,817.41h8v8h-8zM915.55,806.04h8v8h-8zM969.75,828.71h8v8h-8zM900.52,818.71h8v8h-8zM954.28,803.07h8v8h-8zM918.18,815.84h8v8h-8zM818.81,842.21h8v8h-8zM942.61,891.41h8v8h-8zM820.98,826.99h8v8h-8zM814.12,843.05h8v8h-8zM886.14,885.97h8v8h-8zM847.94,883.39h8v8h-8zM938.98,853.33h8v8h-8zM930.52,878.92h8v8h-8zM839.45,847.85h8v8h-8zM895.54,884.05h8v8h-8zM901.3,862.55h8v8h-8zM930.69,832.33h8v8h-8zM882.22,891.87h8v8h-8zM866.43,887.43h8v8h-8zM845.72,799.49h8v8h-8zM861.64,867.75h8v8h-8zM936.17,838.93h8v8h-8zM922.88,878.04h8v8h-8zM868.39,874.89h8v8h-8zM916.81,870.48h8v8h-8zM909.66,876.17h8v8h-8zM992.53,895.24h8v8h-8zM833.89,839.35h8v8h-8zM943.9,888.98h8v8h-8zM873.88,816.17h8v8h-8zM930.85,869.22h8v8h-8zM835.16,814.68h8v8h-8zM872.81,862.84h8v8h-8zM1084.91,810.33h8v8h-8zM830.94,852.11h8v8h-8zM933.71,875.52h8v8h-8zM984.54,851.14h8v8h-8zM921.13,871.95h8v8h-8zM856.04,888.4h8v8h-8zM940.84,816.74h8v8h-8zM899.07,885.87h8v8h-8zM947.34,886.05h8v8h-8zM874.08,889.26h8v8h-8zM930.61,852h8v8h-8zM944.36,876.34h8v8h-8zM858.88,838.39h8v8h-8zM865.88,823.6h8v8h-8zM839.54,738.03h8v8h-8zM874,705.24h8v8h-8zM850.39,696.57h8v8h-8zM938.74,770.84h8v8h-8zM876.94,719.71h8v8h-8zM917.08,713.55h8v8h-8zM903.64,756.29h8v8h-8zM867.09,754.55h8v8h-8zM882.89,768.08h8v8h-8zM818.95,767.06h8v8h-8zM919.63,723.25h8v8h-8zM816.96,701.26h8v8h-8zM867.88,790.41h8v8h-8zM881.35,702.96h8v8h-8zM870.98,675.69h8v8h-8zM867.82,642h8v8h-8zM905.13,659.87h8v8h-8zM877.94,672.66h8v8h-8zM888.46,620.51h8v8h-8zM897.12,637.01h8v8h-8zM931,386h8v8h-8zM961,483h8v8h-8zM926,546h8v8h-8zM899,608h8v8h-8zM861,621h8v8h-8zM846,658h8v8h-8zM879,664h8v8h-8zM929,731h8v8h-8zM981,798h8v8h-8zM994,811h8v8h-8zM1016,871h8v8h-8zM1056,894h8v8h-8zM1026,936h8v8h-8zM994,1056h8v8h-8z" fill="#f8766d"/><path d="M650,1186L705,1186L712,1150L750,1222L782,1150L790,1186L850,1186L810,1225L770,1240L720,1240L680,1225Z" fill="#00ba38"/><path d="M571,1203h8v8h-8zM611,1188h8v8h-8zM656,1211h8v8h-8zM664,1228h8v8h-8zM686,1228h8v8h-8zM796,1234h8v8h-8zM824,1228h8v8h-8zM816,1211h8v8h-8zM706,1108h8v8h-8zM786,1121h8v8h-8zM702,1131h8v8h-8z" fill="#00ba38"/></g><text x="1391.5" y="736.1" font-size="26.3">Up</text><text x="1391.5" y="761.8" font-size="26.3">regulated</text><text x="1391.5" y="803.2" font-size="26.3">Down</text><text x="1391.5" y="829.7" font-size="26.3">regulated</text><text x="1391.5" y="872.9" font-size="26.3">No</text><text x="1391.5" y="898.6" font-size="26.3">changed</text><circle cx="1379.5" cy="724.5" r="8.3" fill="#619cff" stroke="#000" stroke-width="3.4"/><circle cx="1379.5" cy="793.7" r="8.3" fill="#f8766d" stroke="#000" stroke-width="3.4"/><circle cx="1379.5" cy="863.1" r="8.3" fill="#00ba38" stroke="#000" stroke-width="3.4"/><text x="1714" y="756.7" font-size="33.2" text-anchor="middle">Chose</text><text x="1718.4" y="796.8" font-size="33.2" text-anchor="middle">31 breast cancer cells</text><text x="1718.4" y="837" font-size="33.2" text-anchor="middle">for downstream</text><text x="1718.4" y="876.8" font-size="33.2" text-anchor="middle">data analysis</text><path d="M146,1321L217.32,1262.41A92.3,92.3 0 0 1 233.32,1350.9Z" fill="#384d55" stroke="#231815" stroke-width="3.8" stroke-linejoin="round"/><path d="M146,1321L233.32,1350.9A92.3,92.3 0 0 1 80.51,1386.04Z" fill="#ab4746" stroke="#231815" stroke-width="3.8" stroke-linejoin="round"/><path d="M146,1321L80.51,1386.04A92.3,92.3 0 0 1 68.77,1371.54Z" fill="#78ab92" stroke="#231815" stroke-width="3.8" stroke-linejoin="round"/><path d="M146,1321L68.77,1371.54A92.3,92.3 0 0 1 53.74,1318.42Z" fill="#1597c8" stroke="#231815" stroke-width="3.8" stroke-linejoin="round"/><path d="M146,1321L53.74,1318.42A92.3,92.3 0 0 1 217.32,1262.41Z" fill="#d98c45" stroke="#231815" stroke-width="3.8" stroke-linejoin="round"/><circle cx="270.9" cy="1227.5" r="14.2" fill="#384d55" stroke="#000" stroke-width="3.5"/><text x="295.3" y="1237" font-size="26.3">16.1%</text><circle cx="270.9" cy="1274.2" r="14.2" fill="#d98c45" stroke="#000" stroke-width="3.5"/><text x="295.3" y="1283.7" font-size="26.3">38.7%</text><circle cx="270.9" cy="1320.7" r="14.2" fill="#ab4746" stroke="#000" stroke-width="3.5"/><text x="295.3" y="1330.2" font-size="26.3">32.3%</text><circle cx="270.9" cy="1367.4" r="14.2" fill="#78ab92" stroke="#000" stroke-width="3.5"/><text x="295.3" y="1376.9" font-size="26.3">3.23%</text><circle cx="270.9" cy="1413.6" r="14.2" fill="#1597c8" stroke="#000" stroke-width="3.5"/><text x="295.3" y="1423.1" font-size="26.3">9.68%</text><g transform="translate(430,1195) scale(0.15888)"><rect x="90" y="68" width="1798" height="1370" fill="#0a0304"/><path d="M110,87h34v22h-34zM163,87h34v22h-34zM218,87h34v22h-34zM273,87h34v22h-34zM326,87h34v22h-34z" fill="#384d55"/><path d="M403,87h34v22h-34zM458,87h34v22h-34zM513,87h34v22h-34zM566,87h34v22h-34zM621,87h34v22h-34zM675,87h34v22h-34zM730,87h34v22h-34zM783,87h34v22h-34zM838,87h34v22h-34zM893,87h34v22h-34zM947,87h34v22h-34zM1001,87h34v22h-34z" fill="#df8f44"/><path d="M1080,87h34v22h-34zM1133,87h34v22h-34zM1188,87h34v22h-34z" fill="#109fd3"/><path d="M1266,87h34v22h-34z" fill="#79af97"/><path d="M1343,87h34v22h-34zM1398,87h34v22h-34zM1453,87h34v22h-34zM1508,87h34v22h-34zM1561,87h34v22h-34zM1616,87h34v22h-34zM1671,87h34v22h-34zM1725,87h34v22h-34zM1779,87h34v22h-34zM1833,87h34v22h-34z" fill="#b24745"/><path d="M110,143h34v38h-34zM163,143h34v38h-34zM218,143h34v38h-34zM273,143h34v38h-34zM326,143h34v38h-34zM403,143h34v38h-34zM458,143h34v38h-34zM513,143h34v38h-34zM566,143h34v38h-34zM621,143h34v38h-34zM675,143h34v38h-34zM730,143h34v38h-34zM783,143h34v38h-34zM838,143h34v38h-34zM893,143h34v38h-34zM947,143h34v38h-34zM1001,143h34v38h-34zM1080,143h34v38h-34zM1133,143h34v38h-34zM1188,143h34v38h-34zM1266,143h34v38h-34zM1343,143h34v38h-34zM1398,143h34v38h-34zM1453,143h34v38h-34zM1508,143h34v38h-34zM1561,143h34v38h-34zM1616,143h34v38h-34zM1671,143h34v38h-34zM1725,143h34v38h-34zM1779,143h34v38h-34zM1833,143h34v38h-34zM110,201h34v38h-34zM163,201h34v38h-34zM218,201h34v38h-34zM273,201h34v38h-34zM326,201h34v38h-34zM403,201h34v38h-34zM458,201h34v38h-34zM513,201h34v38h-34zM566,201h34v38h-34zM621,201h34v38h-34zM675,201h34v38h-34zM730,201h34v38h-34zM783,201h34v38h-34zM838,201h34v38h-34zM893,201h34v38h-34zM947,201h34v38h-34zM1001,201h34v38h-34zM1080,201h34v38h-34zM1133,201h34v38h-34zM1188,201h34v38h-34zM1266,201h34v38h-34zM1343,201h34v38h-34zM1398,201h34v38h-34zM1453,201h34v38h-34zM1508,201h34v38h-34zM1561,201h34v38h-34zM1616,201h34v38h-34zM1671,201h34v38h-34zM1725,201h34v38h-34zM1779,201h34v38h-34zM1833,201h34v38h-34zM110,261h34v38h-34zM163,261h34v38h-34zM218,261h34v38h-34zM273,261h34v38h-34zM326,261h34v38h-34zM403,261h34v38h-34zM458,261h34v38h-34zM513,261h34v38h-34zM566,261h34v38h-34zM621,261h34v38h-34zM675,261h34v38h-34zM730,261h34v38h-34zM783,261h34v38h-34zM838,261h34v38h-34zM893,261h34v38h-34zM1001,261h34v38h-34zM1080,261h34v38h-34zM1133,261h34v38h-34zM1188,261h34v38h-34zM1266,261h34v38h-34zM1343,261h34v38h-34zM1398,261h34v38h-34zM1453,261h34v38h-34zM1508,261h34v38h-34zM1561,261h34v38h-34zM1616,261h34v38h-34zM1671,261h34v38h-34zM1725,261h34v38h-34zM1833,261h34v38h-34zM110,323h34v38h-34zM163,323h34v38h-34zM273,323h34v38h-34zM326,323h34v38h-34zM403,323h34v38h-34zM458,323h34v38h-34zM513,323h34v38h-34zM566,323h34v38h-34zM621,323h34v38h-34zM675,323h34v38h-34zM730,323h34v38h-34zM783,323h34v38h-34zM838,323h34v38h-34zM893,323h34v38h-34zM947,323h34v38h-34zM1001,323h34v38h-34zM1080,323h34v38h-34zM1133,323h34v38h-34zM1188,323h34v38h-34zM1266,323h34v38h-34zM1398,323h34v38h-34zM1453,323h34v38h-34zM1616,323h34v38h-34zM1671,323h34v38h-34zM1725,323h34v38h-34zM1779,323h34v38h-34zM1833,323h34v38h-34zM110,398h34v38h-34zM163,398h34v38h-34zM218,398h34v38h-34zM273,398h34v38h-34zM403,398h34v38h-34zM458,398h34v38h-34zM621,398h34v38h-34zM675,398h34v38h-34zM730,398h34v38h-34zM783,398h34v38h-34zM838,398h34v38h-34zM893,398h34v38h-34zM947,398h34v38h-34zM1001,398h34v38h-34zM1080,398h34v38h-34zM1188,398h34v38h-34zM1266,398h34v38h-34zM1398,398h34v38h-34zM1453,398h34v38h-34zM1508,398h34v38h-34zM1561,398h34v38h-34zM1616,398h34v38h-34zM1671,398h34v38h-34zM1725,398h34v38h-34zM1779,398h34v38h-34zM110,459h34v38h-34zM273,459h34v38h-34zM1080,459h34v38h-34zM1188,459h34v38h-34zM1453,459h34v38h-34zM163,533h34v38h-34zM326,533h34v38h-34zM730,533h34v38h-34zM783,533h34v38h-34zM1080,533h34v38h-34zM1133,533h34v38h-34zM1398,533h34v38h-34zM1453,533h34v38h-34zM1561,533h34v38h-34zM1616,533h34v38h-34zM1779,533h34v38h-34zM110,593h34v38h-34zM273,593h34v38h-34zM403,593h34v38h-34zM566,593h34v38h-34zM621,593h34v38h-34zM675,593h34v38h-34zM783,593h34v38h-34zM893,593h34v38h-34zM1001,593h34v38h-34zM1080,593h34v38h-34zM1266,593h34v38h-34zM1343,593h34v38h-34zM1398,593h34v38h-34zM1453,593h34v38h-34zM1508,593h34v38h-34zM1561,593h34v38h-34zM1616,593h34v38h-34zM1671,593h34v38h-34zM1725,593h34v38h-34zM1779,593h34v38h-34zM110,653h34v38h-34zM163,653h34v38h-34zM273,653h34v38h-34zM326,653h34v38h-34zM403,653h34v38h-34zM458,653h34v38h-34zM513,653h34v38h-34zM730,653h34v38h-34zM783,653h34v38h-34zM838,653h34v38h-34zM893,653h34v38h-34zM1080,653h34v38h-34zM1188,653h34v38h-34zM1453,653h34v38h-34zM1561,653h34v38h-34zM1725,653h34v38h-34zM1779,653h34v38h-34zM110,716h34v38h-34zM163,716h34v38h-34zM273,716h34v38h-34zM675,716h34v38h-34zM893,716h34v38h-34zM1080,716h34v38h-34zM1343,716h34v38h-34zM1508,716h34v38h-34zM110,774h34v38h-34zM163,849h34v38h-34zM218,849h34v38h-34zM273,849h34v38h-34zM326,849h34v38h-34zM566,849h34v38h-34zM621,849h34v38h-34zM675,849h34v38h-34zM730,849h34v38h-34zM1001,849h34v38h-34zM1080,849h34v38h-34zM1343,849h34v38h-34zM1398,849h34v38h-34zM1453,849h34v38h-34zM1508,849h34v38h-34zM1561,849h34v38h-34zM163,911h34v38h-34zM218,911h34v38h-34zM273,911h34v38h-34zM566,911h34v38h-34zM783,911h34v38h-34zM947,911h34v38h-34zM110,971h34v38h-34zM273,971h34v38h-34zM621,971h34v38h-34zM675,971h34v38h-34zM730,971h34v38h-34zM838,971h34v38h-34zM1001,971h34v38h-34zM1080,971h34v38h-34zM1398,971h34v38h-34zM110,1044h34v38h-34zM163,1044h34v38h-34zM273,1044h34v38h-34zM326,1044h34v38h-34zM403,1044h34v38h-34zM458,1044h34v38h-34zM513,1044h34v38h-34zM566,1044h34v38h-34zM621,1044h34v38h-34zM675,1044h34v38h-34zM730,1044h34v38h-34zM783,1044h34v38h-34zM838,1044h34v38h-34zM893,1044h34v38h-34zM947,1044h34v38h-34zM1001,1044h34v38h-34zM1080,1044h34v38h-34zM1133,1044h34v38h-34zM1343,1044h34v38h-34zM1398,1044h34v38h-34zM1453,1044h34v38h-34zM1508,1044h34v38h-34zM1561,1044h34v38h-34zM1616,1044h34v38h-34zM1671,1044h34v38h-34zM1725,1044h34v38h-34zM1779,1044h34v38h-34zM1833,1044h34v38h-34zM110,1106h34v38h-34zM163,1106h34v38h-34zM218,1106h34v38h-34zM273,1106h34v38h-34zM326,1106h34v38h-34zM403,1106h34v38h-34zM458,1106h34v38h-34zM513,1106h34v38h-34zM566,1106h34v38h-34zM621,1106h34v38h-34zM730,1106h34v38h-34zM783,1106h34v38h-34zM838,1106h34v38h-34zM1001,1106h34v38h-34zM1188,1106h34v38h-34zM1266,1106h34v38h-34zM1398,1106h34v38h-34zM1453,1106h34v38h-34zM1508,1106h34v38h-34zM1561,1106h34v38h-34zM1616,1106h34v38h-34zM1671,1106h34v38h-34zM1725,1106h34v38h-34zM1779,1106h34v38h-34zM1833,1106h34v38h-34zM110,1181h34v38h-34zM163,1181h34v38h-34zM675,1181h34v38h-34zM783,1181h34v38h-34zM1080,1181h34v38h-34zM1343,1181h34v38h-34zM1671,1181h34v38h-34zM1779,1181h34v38h-34zM273,1243h34v38h-34zM1001,1243h34v38h-34zM1343,1243h34v38h-34zM1616,1243h34v38h-34zM163,1318h34v38h-34zM273,1318h34v38h-34zM326,1318h34v38h-34zM513,1318h34v38h-34zM566,1318h34v38h-34zM675,1318h34v38h-34zM730,1318h34v38h-34zM783,1318h34v38h-34zM838,1318h34v38h-34zM1001,1318h34v38h-34zM1080,1318h34v38h-34zM1188,1318h34v38h-34zM1561,1318h34v38h-34zM1779,1318h34v38h-34zM1833,1318h34v38h-34zM110,1378h34v38h-34zM273,1378h34v38h-34zM566,1378h34v38h-34zM621,1378h34v38h-34zM675,1378h34v38h-34zM1080,1378h34v38h-34zM1343,1378h34v38h-34z" fill="#fdf1ec"/><path d="M947,261h34v38h-34zM1779,261h34v38h-34zM1833,398h34v38h-34zM893,459h34v38h-34zM1343,459h34v38h-34zM1779,459h34v38h-34zM1833,459h34v38h-34zM218,533h34v38h-34zM513,533h34v38h-34zM1188,533h34v38h-34zM730,593h34v38h-34zM218,653h34v38h-34zM947,653h34v38h-34zM1266,653h34v38h-34zM1343,653h34v38h-34zM218,716h34v38h-34zM458,716h34v38h-34zM163,774h34v38h-34zM218,774h34v38h-34zM273,774h34v38h-34zM326,774h34v38h-34zM458,849h34v38h-34zM893,849h34v38h-34zM947,849h34v38h-34zM110,911h34v38h-34zM1133,911h34v38h-34zM1266,911h34v38h-34zM1343,911h34v38h-34zM1398,911h34v38h-34zM1508,911h34v38h-34zM1561,911h34v38h-34zM1671,911h34v38h-34zM1779,911h34v38h-34zM1133,971h34v38h-34zM1725,971h34v38h-34zM1266,1044h34v38h-34zM1080,1106h34v38h-34zM1133,1106h34v38h-34zM458,1181h34v38h-34zM218,1243h34v38h-34zM513,1243h34v38h-34zM1671,1243h34v38h-34zM1833,1243h34v38h-34zM1133,1318h34v38h-34zM218,1378h34v38h-34zM326,1378h34v38h-34zM458,1378h34v38h-34zM1561,1378h34v38h-34zM1779,1378h34v38h-34z" fill="#e2432f"/><path d="M218,323h34v38h-34zM1508,323h34v38h-34zM163,459h34v38h-34zM566,459h34v38h-34zM1561,459h34v38h-34zM458,533h34v38h-34zM893,533h34v38h-34zM1266,533h34v38h-34zM218,593h34v38h-34zM326,593h34v38h-34zM838,593h34v38h-34zM1133,593h34v38h-34zM1188,593h34v38h-34zM621,716h34v38h-34zM513,849h34v38h-34zM783,849h34v38h-34zM838,849h34v38h-34zM326,911h34v38h-34zM403,911h34v38h-34zM675,911h34v38h-34zM893,911h34v38h-34zM1188,911h34v38h-34zM403,971h34v38h-34zM675,1106h34v38h-34zM893,1106h34v38h-34zM1343,1106h34v38h-34zM893,1243h34v38h-34zM110,1318h34v38h-34zM218,1318h34v38h-34zM458,1318h34v38h-34zM621,1318h34v38h-34zM893,1318h34v38h-34zM1343,1318h34v38h-34zM1616,1318h34v38h-34zM1671,1318h34v38h-34zM1725,1318h34v38h-34zM163,1378h34v38h-34z" fill="#f9c3ac"/><path d="M1343,323h34v38h-34zM1561,323h34v38h-34zM326,398h34v38h-34zM513,398h34v38h-34zM566,398h34v38h-34zM1133,398h34v38h-34zM1343,398h34v38h-34zM730,459h34v38h-34zM838,459h34v38h-34zM1001,459h34v38h-34zM1616,459h34v38h-34zM621,533h34v38h-34zM675,533h34v38h-34zM838,533h34v38h-34zM1001,533h34v38h-34zM1508,533h34v38h-34zM163,593h34v38h-34zM458,593h34v38h-34zM513,593h34v38h-34zM1833,593h34v38h-34zM1133,653h34v38h-34zM326,716h34v38h-34zM566,716h34v38h-34zM1001,716h34v38h-34zM403,849h34v38h-34zM1188,849h34v38h-34zM1266,849h34v38h-34zM1833,849h34v38h-34zM458,911h34v38h-34zM513,911h34v38h-34zM621,911h34v38h-34zM730,911h34v38h-34zM838,911h34v38h-34zM1001,911h34v38h-34zM1080,911h34v38h-34zM1616,911h34v38h-34zM1833,911h34v38h-34zM326,971h34v38h-34zM947,971h34v38h-34zM1453,971h34v38h-34zM1561,971h34v38h-34zM218,1044h34v38h-34zM947,1106h34v38h-34zM326,1181h34v38h-34zM621,1181h34v38h-34zM893,1181h34v38h-34zM326,1243h34v38h-34zM730,1243h34v38h-34zM783,1243h34v38h-34zM838,1243h34v38h-34zM1080,1243h34v38h-34zM1725,1243h34v38h-34zM403,1318h34v38h-34zM947,1318h34v38h-34zM1266,1318h34v38h-34zM1453,1318h34v38h-34zM1508,1318h34v38h-34zM513,1378h34v38h-34zM1616,1378h34v38h-34z" fill="#ee7357"/><path d="M218,459h34v38h-34zM326,459h34v38h-34zM403,459h34v38h-34zM621,459h34v38h-34zM1266,459h34v38h-34zM403,533h34v38h-34zM947,533h34v38h-34zM1343,533h34v38h-34zM1671,533h34v38h-34zM1725,533h34v38h-34zM1833,533h34v38h-34zM566,653h34v38h-34zM621,653h34v38h-34zM675,653h34v38h-34zM1508,653h34v38h-34zM403,716h34v38h-34zM730,716h34v38h-34zM1266,716h34v38h-34zM1561,716h34v38h-34zM1833,716h34v38h-34zM675,774h34v38h-34zM893,774h34v38h-34zM1616,774h34v38h-34zM1616,849h34v38h-34zM1725,849h34v38h-34zM1779,849h34v38h-34zM1453,911h34v38h-34zM1725,911h34v38h-34zM163,971h34v38h-34zM218,971h34v38h-34zM513,971h34v38h-34zM566,971h34v38h-34zM783,971h34v38h-34zM1343,971h34v38h-34zM1508,971h34v38h-34zM1188,1044h34v38h-34zM218,1181h34v38h-34zM566,1181h34v38h-34zM730,1181h34v38h-34zM838,1181h34v38h-34zM947,1181h34v38h-34zM1001,1181h34v38h-34zM1133,1181h34v38h-34zM1398,1181h34v38h-34zM1453,1181h34v38h-34zM1508,1181h34v38h-34zM1616,1181h34v38h-34zM163,1243h34v38h-34zM403,1243h34v38h-34zM1779,1243h34v38h-34zM1398,1318h34v38h-34zM403,1378h34v38h-34zM730,1378h34v38h-34zM838,1378h34v38h-34zM893,1378h34v38h-34zM947,1378h34v38h-34zM1001,1378h34v38h-34zM1133,1378h34v38h-34zM1725,1378h34v38h-34zM1833,1378h34v38h-34z" fill="#c42124"/><path d="M458,459h34v38h-34zM513,459h34v38h-34zM675,459h34v38h-34zM783,459h34v38h-34zM947,459h34v38h-34zM1133,459h34v38h-34zM1508,459h34v38h-34zM1725,459h34v38h-34zM110,533h34v38h-34zM273,533h34v38h-34zM566,533h34v38h-34zM947,593h34v38h-34zM1001,653h34v38h-34zM1398,653h34v38h-34zM1616,653h34v38h-34zM1671,653h34v38h-34zM1833,653h34v38h-34zM513,716h34v38h-34zM783,716h34v38h-34zM838,716h34v38h-34zM947,716h34v38h-34zM1133,716h34v38h-34zM1188,716h34v38h-34zM1616,716h34v38h-34zM1671,716h34v38h-34zM403,774h34v38h-34zM458,774h34v38h-34zM566,774h34v38h-34zM730,774h34v38h-34zM783,774h34v38h-34zM947,774h34v38h-34zM1001,774h34v38h-34zM1080,774h34v38h-34zM1133,774h34v38h-34zM1453,774h34v38h-34zM1508,774h34v38h-34zM1779,774h34v38h-34zM1833,774h34v38h-34zM110,849h34v38h-34zM1133,849h34v38h-34zM1671,849h34v38h-34zM458,971h34v38h-34zM893,971h34v38h-34zM1188,971h34v38h-34zM1266,971h34v38h-34zM1616,971h34v38h-34zM1779,971h34v38h-34zM1833,971h34v38h-34zM273,1181h34v38h-34zM403,1181h34v38h-34zM1188,1181h34v38h-34zM1266,1181h34v38h-34zM110,1243h34v38h-34zM458,1243h34v38h-34zM566,1243h34v38h-34zM621,1243h34v38h-34zM675,1243h34v38h-34zM1133,1243h34v38h-34zM1188,1243h34v38h-34zM1266,1243h34v38h-34zM1398,1243h34v38h-34zM1508,1243h34v38h-34zM1561,1243h34v38h-34zM783,1378h34v38h-34zM1188,1378h34v38h-34zM1266,1378h34v38h-34zM1398,1378h34v38h-34zM1453,1378h34v38h-34zM1508,1378h34v38h-34zM1671,1378h34v38h-34z" fill="#9c1f26"/><path d="M1398,459h34v38h-34zM1671,459h34v38h-34zM1398,716h34v38h-34zM1453,716h34v38h-34zM1725,716h34v38h-34zM1779,716h34v38h-34zM513,774h34v38h-34zM621,774h34v38h-34zM838,774h34v38h-34zM1188,774h34v38h-34zM1266,774h34v38h-34zM1343,774h34v38h-34zM1398,774h34v38h-34zM1561,774h34v38h-34zM1671,774h34v38h-34zM1725,774h34v38h-34zM1671,971h34v38h-34zM513,1181h34v38h-34zM1561,1181h34v38h-34zM1725,1181h34v38h-34zM1833,1181h34v38h-34zM947,1243h34v38h-34zM1453,1243h34v38h-34z" fill="#66151a"/><path d="M381,68V1438M1057,68V1438M1243,68V1438M1322,68V1438" stroke="#ddd" stroke-width="3.5" opacity="0.75"/></g><g transform="translate(795,1230) scale(0.17428)"><rect x="20" y="98" width="250" height="339" fill="#fff"/><path d="M65,98V437M96,98V437M127,98V437M158,98V437M189,98V437M220,98V437M251,98V437M20,160H270M20,267H270M20,372H270M20,213H270M20,320H270" stroke="#e4e4e4" stroke-width="3" fill="none"/><rect x="20" y="45" width="250" height="53" fill="#d9d9d9" stroke="#333" stroke-width="4"/><rect x="20" y="98" width="250" height="339" fill="none" stroke="#333" stroke-width="4"/><rect x="290" y="98" width="250" height="339" fill="#fff"/><path d="M335,98V437M366,98V437M397,98V437M428,98V437M459,98V437M490,98V437M521,98V437M290,160H540M290,267H540M290,372H540M290,213H540M290,320H540" stroke="#e4e4e4" stroke-width="3" fill="none"/><rect x="290" y="45" width="250" height="53" fill="#d9d9d9" stroke="#333" stroke-width="4"/><rect x="290" y="98" width="250" height="339" fill="none" stroke="#333" stroke-width="4"/><rect x="565" y="98" width="250" height="339" fill="#fff"/><path d="M610,98V437M641,98V437M672,98V437M703,98V437M734,98V437M765,98V437M796,98V437M565,160H815M565,267H815M565,372H815M565,213H815M565,320H815" stroke="#e4e4e4" stroke-width="3" fill="none"/><rect x="565" y="45" width="250" height="53" fill="#d9d9d9" stroke="#333" stroke-width="4"/><rect x="565" y="98" width="250" height="339" fill="none" stroke="#333" stroke-width="4"/><rect x="835" y="98" width="250" height="339" fill="#fff"/><path d="M880,98V437M911,98V437M942,98V437M973,98V437M1004,98V437M1035,98V437M1066,98V437M835,160H1085M835,267H1085M835,372H1085M835,213H1085M835,320H1085" stroke="#e4e4e4" stroke-width="3" fill="none"/><rect x="835" y="45" width="250" height="53" fill="#d9d9d9" stroke="#333" stroke-width="4"/><rect x="835" y="98" width="250" height="339" fill="none" stroke="#333" stroke-width="4"/><rect x="1110" y="98" width="250" height="339" fill="#fff"/><path d="M1155,98V437M1186,98V437M1217,98V437M1248,98V437M1279,98V437M1310,98V437M1341,98V437M1110,160H1360M1110,267H1360M1110,372H1360M1110,213H1360M1110,320H1360" stroke="#e4e4e4" stroke-width="3" fill="none"/><rect x="1110" y="45" width="250" height="53" fill="#d9d9d9" stroke="#333" stroke-width="4"/><rect x="1110" y="98" width="250" height="339" fill="none" stroke="#333" stroke-width="4"/><rect x="1380" y="98" width="250" height="339" fill="#fff"/><path d="M1425,98V437M1456,98V437M1487,98V437M1518,98V437M1549,98V437M1580,98V437M1611,98V437M1380,160H1630M1380,267H1630M1380,372H1630M1380,213H1630M1380,320H1630" stroke="#e4e4e4" stroke-width="3" fill="none"/><rect x="1380" y="45" width="250" height="53" fill="#d9d9d9" stroke="#333" stroke-width="4"/><rect x="1380" y="98" width="250" height="339" fill="none" stroke="#333" stroke-width="4"/><rect x="1650" y="98" width="250" height="339" fill="#fff"/><path d="M1695,98V437M1726,98V437M1757,98V437M1788,98V437M1819,98V437M1850,98V437M1881,98V437M1650,160H1900M1650,267H1900M1650,372H1900M1650,213H1900M1650,320H1900" stroke="#e4e4e4" stroke-width="3" fill="none"/><rect x="1650" y="45" width="250" height="53" fill="#d9d9d9" stroke="#333" stroke-width="4"/><rect x="1650" y="98" width="250" height="339" fill="none" stroke="#333" stroke-width="4"/><rect x="20" y="523" width="250" height="339" fill="#fff"/><path d="M65,523V862M96,523V862M127,523V862M158,523V862M189,523V862M220,523V862M251,523V862M20,587H270M20,692H270M20,798H270M20,640H270M20,745H270" stroke="#e4e4e4" stroke-width="3" fill="none"/><rect x="20" y="473" width="250" height="50" fill="#d9d9d9" stroke="#333" stroke-width="4"/><rect x="20" y="523" width="250" height="339" fill="none" stroke="#333" stroke-width="4"/><rect x="290" y="523" width="250" height="339" fill="#fff"/><path d="M335,523V862M366,523V862M397,523V862M428,523V862M459,523V862M490,523V862M521,523V862M290,587H540M290,692H540M290,798H540M290,640H540M290,745H540" stroke="#e4e4e4" stroke-width="3" fill="none"/><rect x="290" y="473" width="250" height="50" fill="#d9d9d9" stroke="#333" stroke-width="4"/><rect x="290" y="523" width="250" height="339" fill="none" stroke="#333" stroke-width="4"/><rect x="565" y="523" width="250" height="339" fill="#fff"/><path d="M610,523V862M641,523V862M672,523V862M703,523V862M734,523V862M765,523V862M796,523V862M565,587H815M565,692H815M565,798H815M565,640H815M565,745H815" stroke="#e4e4e4" stroke-width="3" fill="none"/><rect x="565" y="473" width="250" height="50" fill="#d9d9d9" stroke="#333" stroke-width="4"/><rect x="565" y="523" width="250" height="339" fill="none" stroke="#333" stroke-width="4"/><rect x="835" y="523" width="250" height="339" fill="#fff"/><path d="M880,523V862M911,523V862M942,523V862M973,523V862M1004,523V862M1035,523V862M1066,523V862M835,587H1085M835,692H1085M835,798H1085M835,640H1085M835,745H1085" stroke="#e4e4e4" stroke-width="3" fill="none"/><rect x="835" y="473" width="250" height="50" fill="#d9d9d9" stroke="#333" stroke-width="4"/><rect x="835" y="523" width="250" height="339" fill="none" stroke="#333" stroke-width="4"/><rect x="1110" y="523" width="250" height="339" fill="#fff"/><path d="M1155,523V862M1186,523V862M1217,523V862M1248,523V862M1279,523V862M1310,523V862M1341,523V862M1110,587H1360M1110,692H1360M1110,798H1360M1110,640H1360M1110,745H1360" stroke="#e4e4e4" stroke-width="3" fill="none"/><rect x="1110" y="473" width="250" height="50" fill="#d9d9d9" stroke="#333" stroke-width="4"/><rect x="1110" y="523" width="250" height="339" fill="none" stroke="#333" stroke-width="4"/><rect x="1380" y="523" width="250" height="339" fill="#fff"/><path d="M1425,523V862M1456,523V862M1487,523V862M1518,523V862M1549,523V862M1580,523V862M1611,523V862M1380,587H1630M1380,692H1630M1380,798H1630M1380,640H1630M1380,745H1630" stroke="#e4e4e4" stroke-width="3" fill="none"/><rect x="1380" y="473" width="250" height="50" fill="#d9d9d9" stroke="#333" stroke-width="4"/><rect x="1380" y="523" width="250" height="339" fill="none" stroke="#333" stroke-width="4"/><rect x="1650" y="523" width="250" height="339" fill="#fff"/><path d="M1695,523V862M1726,523V862M1757,523V862M1788,523V862M1819,523V862M1850,523V862M1881,523V862M1650,587H1900M1650,692H1900M1650,798H1900M1650,640H1900M1650,745H1900" stroke="#e4e4e4" stroke-width="3" fill="none"/><rect x="1650" y="473" width="250" height="50" fill="#d9d9d9" stroke="#333" stroke-width="4"/><rect x="1650" y="523" width="250" height="339" fill="none" stroke="#333" stroke-width="4"/><path d="M190,260L192.39,260L194.78,260L197.17,260L199.57,260L201.96,260L204.35,260L206.74,260L209.13,260L211.52,260L213.91,260L216.3,260L218.7,260L221.09,260L223.48,260L225.87,260L228.26,260L230.65,260L233.04,260L235.43,260L237.83,260L240.22,260L242.61,260L245,260L245,274L242.61,274L240.22,274L237.83,274L235.43,274L233.04,274L230.65,274L228.26,274L225.87,274L223.48,274L221.09,274L218.7,274L216.3,274L213.91,274L211.52,274L209.13,274L206.74,274L204.35,274L201.96,274L199.57,274L197.17,274L194.78,274L192.39,274L190,274Z" fill="#df8f44" stroke="#1a1a1a" stroke-width="2.5" stroke-linejoin="round"/><path d="M205,368.57L206.96,367.94L208.91,367.09L210.87,366.13L212.83,365.17L214.78,364.22L216.74,363.26L218.7,362.3L220.65,361.35L222.61,360.39L224.57,359.47L226.52,358.66L228.48,358.04L230.43,357.6L232.39,357.28L234.35,356.99L236.3,356.7L238.26,356.54L240.22,356.75L242.17,357.54L244.13,358.87L246.09,360.52L248.04,362.07L250,363.23L250,380.77L248.04,381.93L246.09,383.48L244.13,385.13L242.17,386.46L240.22,387.25L238.26,387.46L236.3,387.3L234.35,387.01L232.39,386.72L230.43,386.4L228.48,385.96L226.52,385.34L224.57,384.53L222.61,383.61L220.65,382.65L218.7,381.7L216.74,380.74L214.78,379.78L212.83,378.83L210.87,377.87L208.91,376.91L206.96,376.06L205,375.43Z" fill="#b24745" stroke="#1a1a1a" stroke-width="2.5" stroke-linejoin="round"/><path d="M150,160L220,267L235,372" fill="none" stroke="#000" stroke-width="3.5"/><circle cx="150" cy="160" r="4.5" fill="#000"/><circle cx="220" cy="267" r="4.5" fill="#000"/><circle cx="235" cy="372" r="4.5" fill="#000"/><path d="M300,142.15L306.74,142.39L313.48,142.7L320.22,143.04L326.96,143.42L333.7,143.94L340.43,144.72L347.17,145.83L353.91,147.13L360.65,148.52L367.39,149.84L374.13,150.94L380.87,151.68L387.61,152.06L394.35,152.22L401.09,152.3L407.83,152.39L414.57,152.48L421.3,152.57L428.04,152.65L434.78,152.74L441.52,152.83L448.26,152.9L455,152.96L455,167.04L448.26,167.1L441.52,167.17L434.78,167.26L428.04,167.35L421.3,167.43L414.57,167.52L407.83,167.61L401.09,167.7L394.35,167.78L387.61,167.94L380.87,168.32L374.13,169.06L367.39,170.16L360.65,171.48L353.91,172.87L347.17,174.17L340.43,175.28L333.7,176.06L326.96,176.58L320.22,176.96L313.48,177.3L306.74,177.61L300,177.85Z" fill="#384d55" stroke="#1a1a1a" stroke-width="2.5" stroke-linejoin="round"/><path d="M300,257L305.22,257L310.43,257L315.65,257L320.87,257L326.09,257L331.3,257L336.52,257L341.74,257L346.96,257L352.17,257L357.39,257L362.61,257L367.83,257L373.04,257L378.26,257L383.48,257L388.7,257L393.91,257L399.13,257L404.35,257L409.57,257L414.78,257L420,257L420,277L414.78,277L409.57,277L404.35,277L399.13,277L393.91,277L388.7,277L383.48,277L378.26,277L373.04,277L367.83,277L362.61,277L357.39,277L352.17,277L346.96,277L341.74,277L336.52,277L331.3,277L326.09,277L320.87,277L315.65,277L310.43,277L305.22,277L300,277Z" fill="#df8f44" stroke="#1a1a1a" stroke-width="2.5" stroke-linejoin="round"/><path d="M420,364.45L422.61,362.14L425.22,359.04L427.83,355.57L430.43,352.09L433.04,348.6L435.65,345.07L438.26,341.43L440.87,337.65L443.48,333.78L446.09,330.36L448.7,328.43L451.3,328.98L453.91,332L456.52,336.5L459.13,341.25L461.74,345.46L464.35,348.85L466.96,351.65L469.57,354.14L472.17,356.61L474.78,359.07L477.39,361.26L480,362.9L480,381.1L477.39,382.74L474.78,384.93L472.17,387.39L469.57,389.86L466.96,392.35L464.35,395.15L461.74,398.54L459.13,402.75L456.52,407.5L453.91,412L451.3,415.02L448.7,415.57L446.09,413.64L443.48,410.22L440.87,406.35L438.26,402.57L435.65,398.93L433.04,395.4L430.43,391.91L427.83,388.43L425.22,384.96L422.61,381.86L420,379.55Z" fill="#b24745" stroke="#1a1a1a" stroke-width="2.5" stroke-linejoin="round"/><path d="M345,160L365,267L447,372" fill="none" stroke="#000" stroke-width="3.5"/><circle cx="345" cy="160" r="4.5" fill="#000"/><circle cx="365" cy="267" r="4.5" fill="#000"/><circle cx="447" cy="372" r="4.5" fill="#000"/><path d="M577,140L584.3,140L591.61,140L598.91,140L606.22,140L613.52,140L620.83,140L628.13,140L635.43,140L642.74,140L650.04,140L657.35,140L664.65,140L671.96,140L679.26,140L686.57,140L693.87,140L701.17,140L708.48,140L715.78,140L723.09,140L730.39,140L737.7,140L745,140L745,180L737.7,180L730.39,180L723.09,180L715.78,180L708.48,180L701.17,180L693.87,180L686.57,180L679.26,180L671.96,180L664.65,180L657.35,180L650.04,180L642.74,180L635.43,180L628.13,180L620.83,180L613.52,180L606.22,180L598.91,180L591.61,180L584.3,180L577,180Z" fill="#384d55" stroke="#1a1a1a" stroke-width="2.5" stroke-linejoin="round"/><path d="M622,257.68L628.78,257.19L635.57,256.55L642.35,255.83L649.13,255.1L655.91,254.35L662.7,253.32L669.48,251.74L676.26,249.42L683.04,246.61L689.83,243.57L696.61,240.52L703.39,237.48L710.17,234.43L716.96,231.39L723.74,228.57L730.52,226.2L737.3,224.53L744.09,223.37L750.87,222.65L757.65,222.71L764.43,224.1L771.22,226.57L778,229.07L778,304.93L771.22,307.43L764.43,309.9L757.65,311.29L750.87,311.35L744.09,310.63L737.3,309.47L730.52,307.8L723.74,305.43L716.96,302.61L710.17,299.57L703.39,296.52L696.61,293.48L689.83,290.43L683.04,287.39L676.26,284.58L669.48,282.26L662.7,280.68L655.91,279.65L649.13,278.9L642.35,278.17L635.57,277.45L628.78,276.81L622,276.32Z" fill="#df8f44" stroke="#1a1a1a" stroke-width="2.5" stroke-linejoin="round"/><path d="M598,360.86L606.57,360.64L615.13,360.35L623.7,360.02L632.26,359.7L640.83,359.37L649.39,359.04L657.96,358.72L666.52,358.22L675.09,357.34L683.65,355.87L692.22,353.93L700.78,351.74L709.35,349.5L717.91,347.27L726.48,345.03L735.04,343.01L743.61,341.49L752.17,340.76L760.74,340.68L769.3,340.96L777.87,341.3L786.43,341.61L795,341.85L795,402.15L786.43,402.39L777.87,402.7L769.3,403.04L760.74,403.32L752.17,403.24L743.61,402.51L735.04,400.99L726.48,398.97L717.91,396.73L709.35,394.5L700.78,392.26L692.22,390.07L683.65,388.13L675.09,386.66L666.52,385.78L657.96,385.28L649.39,384.96L640.83,384.63L632.26,384.3L623.7,383.98L615.13,383.65L606.57,383.36L598,383.14Z" fill="#b24745" stroke="#1a1a1a" stroke-width="2.5" stroke-linejoin="round"/><path d="M653,160L725,267L725,372" fill="none" stroke="#000" stroke-width="3.5"/><circle cx="653" cy="160" r="4.5" fill="#000"/><circle cx="725" cy="267" r="4.5" fill="#000"/><circle cx="725" cy="372" r="4.5" fill="#000"/><path d="M845,112.52L851.3,113.29L857.61,114.43L863.91,116.01L870.22,118.12L876.52,120.71L882.83,123.6L889.13,126.58L895.43,129.57L901.74,132.55L908.04,135.42L914.35,137.97L920.65,139.98L926.96,141.46L933.26,142.61L939.57,143.65L945.87,144.62L952.17,145.43L958.48,145.96L964.78,146.28L971.09,146.48L977.39,146.65L983.7,146.81L990,146.92L990,173.08L983.7,173.19L977.39,173.35L971.09,173.52L964.78,173.72L958.48,174.04L952.17,174.57L945.87,175.38L939.57,176.35L933.26,177.39L926.96,178.54L920.65,180.02L914.35,182.03L908.04,184.58L901.74,187.45L895.43,190.43L889.13,193.42L882.83,196.4L876.52,199.29L870.22,201.88L863.91,203.99L857.61,205.57L851.3,206.71L845,207.48Z" fill="#384d55" stroke="#1a1a1a" stroke-width="2.5" stroke-linejoin="round"/><path d="M845,239.77L853.61,240.93L862.22,242.48L870.83,244.22L879.43,245.96L888.04,247.7L896.65,249.43L905.26,251.17L913.87,252.91L922.48,254.65L931.09,256.25L939.7,257.41L948.3,257.84L956.91,257.55L965.52,256.83L974.13,255.96L982.74,255.09L991.35,254.22L999.96,253.35L1008.57,252.48L1017.17,251.61L1025.78,250.74L1034.39,249.97L1043,249.39L1043,284.61L1034.39,284.03L1025.78,283.26L1017.17,282.39L1008.57,281.52L999.96,280.65L991.35,279.78L982.74,278.91L974.13,278.04L965.52,277.17L956.91,276.45L948.3,276.16L939.7,276.59L931.09,277.75L922.48,279.35L913.87,281.09L905.26,282.83L896.65,284.57L888.04,286.3L879.43,288.04L870.83,289.78L862.22,291.52L853.61,293.07L845,294.23Z" fill="#df8f44" stroke="#1a1a1a" stroke-width="2.5" stroke-linejoin="round"/><path d="M845,352.46L853.83,353.16L862.65,354.09L871.48,355.13L880.3,356.17L889.13,357.22L897.96,358.26L906.78,359.3L915.61,360.35L924.43,361.39L933.26,362.29L942.09,362.78L950.91,362.56L959.74,361.64L968.57,360.3L977.39,358.83L986.22,357.35L995.04,355.87L1003.87,354.39L1012.7,352.91L1021.52,351.43L1030.35,349.96L1039.17,348.64L1048,347.66L1048,396.34L1039.17,395.36L1030.35,394.04L1021.52,392.57L1012.7,391.09L1003.87,389.61L995.04,388.13L986.22,386.65L977.39,385.17L968.57,383.7L959.74,382.36L950.91,381.44L942.09,381.22L933.26,381.71L924.43,382.61L915.61,383.65L906.78,384.7L897.96,385.74L889.13,386.78L880.3,387.83L871.48,388.87L862.65,389.91L853.83,390.84L845,391.54Z" fill="#b24745" stroke="#1a1a1a" stroke-width="2.5" stroke-linejoin="round"/><path d="M878,160L915,267L955,372" fill="none" stroke="#000" stroke-width="3.5"/><circle cx="878" cy="160" r="4.5" fill="#000"/><circle cx="915" cy="267" r="4.5" fill="#000"/><circle cx="955" cy="372" r="4.5" fill="#000"/><path d="M1120,137.85L1127.3,137.61L1134.61,137.3L1141.91,136.96L1149.22,136.61L1156.52,136.26L1163.83,135.91L1171.13,135.57L1178.43,135.22L1185.74,134.87L1193.04,134.54L1200.35,134.27L1207.65,134.1L1214.96,134.02L1222.26,134L1229.57,134L1236.87,134L1244.17,134L1251.48,134L1258.78,134L1266.09,134L1273.39,134L1280.7,134L1288,134L1288,186L1280.7,186L1273.39,186L1266.09,186L1258.78,186L1251.48,186L1244.17,186L1236.87,186L1229.57,186L1222.26,186L1214.96,185.98L1207.65,185.9L1200.35,185.73L1193.04,185.46L1185.74,185.13L1178.43,184.78L1171.13,184.43L1163.83,184.09L1156.52,183.74L1149.22,183.39L1141.91,183.04L1134.61,182.7L1127.3,182.39L1120,182.15Z" fill="#384d55" stroke="#1a1a1a" stroke-width="2.5" stroke-linejoin="round"/><path d="M1120,242.39L1128.48,242.97L1136.96,243.74L1145.43,244.61L1153.91,245.48L1162.39,246.35L1170.87,247.22L1179.35,248.09L1187.83,248.96L1196.3,249.83L1204.78,250.6L1213.26,251.08L1221.74,251.08L1230.22,250.6L1238.7,249.83L1247.17,248.96L1255.65,248.09L1264.13,247.22L1272.61,246.35L1281.09,245.48L1289.57,244.61L1298.04,243.74L1306.52,242.97L1315,242.39L1315,291.61L1306.52,291.03L1298.04,290.26L1289.57,289.39L1281.09,288.52L1272.61,287.65L1264.13,286.78L1255.65,285.91L1247.17,285.04L1238.7,284.17L1230.22,283.4L1221.74,282.92L1213.26,282.92L1204.78,283.4L1196.3,284.17L1187.83,285.04L1179.35,285.91L1170.87,286.78L1162.39,287.65L1153.91,288.52L1145.43,289.39L1136.96,290.26L1128.48,291.03L1120,291.61Z" fill="#df8f44" stroke="#1a1a1a" stroke-width="2.5" stroke-linejoin="round"/><path d="M1120,364.55L1129.57,363.87L1139.13,362.97L1148.7,361.96L1158.26,360.94L1167.83,359.9L1177.39,358.52L1186.96,356.49L1196.52,353.58L1206.09,350.09L1215.65,346.32L1225.22,342.55L1234.78,338.82L1244.35,335.3L1253.91,332.17L1263.48,329.53L1273.04,327.22L1282.61,325.38L1292.17,324.45L1301.74,324.98L1311.3,327.03L1320.87,331.17L1330.43,336.51L1340,342.16L1340,401.84L1330.43,407.49L1320.87,412.83L1311.3,416.97L1301.74,419.02L1292.17,419.55L1282.61,418.62L1273.04,416.78L1263.48,414.47L1253.91,411.83L1244.35,408.7L1234.78,405.18L1225.22,401.45L1215.65,397.68L1206.09,393.91L1196.52,390.42L1186.96,387.51L1177.39,385.48L1167.83,384.1L1158.26,383.06L1148.7,382.04L1139.13,381.03L1129.57,380.13L1120,379.45Z" fill="#b24745" stroke="#1a1a1a" stroke-width="2.5" stroke-linejoin="round"/><path d="M1212,160L1212,267L1265,372" fill="none" stroke="#000" stroke-width="3.5"/><circle cx="1212" cy="160" r="4.5" fill="#000"/><circle cx="1212" cy="267" r="4.5" fill="#000"/><circle cx="1265" cy="372" r="4.5" fill="#000"/><path d="M1390,114.77L1392.61,115.93L1395.22,117.48L1397.83,119.22L1400.43,120.96L1403.04,122.7L1405.65,124.43L1408.26,126.17L1410.87,127.76L1413.48,129L1416.09,129.69L1418.7,129.96L1421.3,130L1423.91,130L1426.52,130L1429.13,130L1431.74,130L1434.35,130L1436.96,130L1439.57,130L1442.17,130L1444.78,130L1447.39,130L1450,130L1450,190L1447.39,190L1444.78,190L1442.17,190L1439.57,190L1436.96,190L1434.35,190L1431.74,190L1429.13,190L1426.52,190L1423.91,190L1421.3,190L1418.7,190.04L1416.09,190.31L1413.48,191L1410.87,192.24L1408.26,193.83L1405.65,195.57L1403.04,197.3L1400.43,199.04L1397.83,200.78L1395.22,202.52L1392.61,204.07L1390,205.23Z" fill="#384d55" stroke="#1a1a1a" stroke-width="2.5" stroke-linejoin="round"/><path d="M1390,222.29L1394.78,224.22L1399.57,226.8L1404.35,229.7L1409.13,232.59L1413.91,235.48L1418.7,238.27L1423.48,240.85L1428.26,243.14L1433.04,245.26L1437.83,247.29L1442.61,249.32L1447.39,251.31L1452.17,253.05L1456.96,254.36L1461.74,255.1L1466.52,255.48L1471.3,255.7L1476.09,255.91L1480.87,256.13L1485.65,256.35L1490.43,256.57L1495.22,256.76L1500,256.9L1500,277.1L1495.22,277.24L1490.43,277.43L1485.65,277.65L1480.87,277.87L1476.09,278.09L1471.3,278.3L1466.52,278.52L1461.74,278.9L1456.96,279.64L1452.17,280.95L1447.39,282.69L1442.61,284.68L1437.83,286.71L1433.04,288.74L1428.26,290.86L1423.48,293.15L1418.7,295.73L1413.91,298.52L1409.13,301.41L1404.35,304.3L1399.57,307.2L1394.78,309.78L1390,311.71Z" fill="#df8f44" stroke="#1a1a1a" stroke-width="2.5" stroke-linejoin="round"/><path d="M1390,350.23L1397.09,350.58L1404.17,351.04L1411.26,351.57L1418.35,352.09L1425.43,352.61L1432.52,353.13L1439.61,353.65L1446.7,354.17L1453.78,354.7L1460.87,355.23L1467.96,355.81L1475.04,356.46L1482.13,357.19L1489.22,357.96L1496.3,358.74L1503.39,359.52L1510.48,360.3L1517.57,361.09L1524.65,361.87L1531.74,362.65L1538.83,363.43L1545.91,364.13L1553,364.65L1553,379.35L1545.91,379.87L1538.83,380.57L1531.74,381.35L1524.65,382.13L1517.57,382.91L1510.48,383.7L1503.39,384.48L1496.3,385.26L1489.22,386.04L1482.13,386.81L1475.04,387.54L1467.96,388.19L1460.87,388.77L1453.78,389.3L1446.7,389.83L1439.61,390.35L1432.52,390.87L1425.43,391.39L1418.35,391.91L1411.26,392.43L1404.17,392.96L1397.09,393.42L1390,393.77Z" fill="#b24745" stroke="#1a1a1a" stroke-width="2.5" stroke-linejoin="round"/><path d="M1415,160L1420,267L1447,372" fill="none" stroke="#000" stroke-width="3.5"/><circle cx="1415" cy="160" r="4.5" fill="#000"/><circle cx="1420" cy="267" r="4.5" fill="#000"/><circle cx="1447" cy="372" r="4.5" fill="#000"/><path d="M1660,140L1668.35,140L1676.7,140L1685.04,140L1693.39,140L1701.74,140L1710.09,140L1718.43,140L1726.78,140L1735.13,140L1743.48,140L1751.83,140L1760.17,140L1768.52,140L1776.87,140L1785.22,140L1793.57,140L1801.91,140L1810.26,140L1818.61,140L1826.96,140L1835.3,140L1843.65,140L1852,140L1852,180L1843.65,180L1835.3,180L1826.96,180L1818.61,180L1810.26,180L1801.91,180L1793.57,180L1785.22,180L1776.87,180L1768.52,180L1760.17,180L1751.83,180L1743.48,180L1735.13,180L1726.78,180L1718.43,180L1710.09,180L1701.74,180L1693.39,180L1685.04,180L1676.7,180L1668.35,180L1660,180Z" fill="#384d55" stroke="#1a1a1a" stroke-width="2.5" stroke-linejoin="round"/><path d="M1660,257.68L1669.35,257.19L1678.7,256.55L1688.04,255.83L1697.39,255.1L1706.74,254.35L1716.09,253.29L1725.43,251.63L1734.78,249.16L1744.13,246.15L1753.48,242.89L1762.83,239.63L1772.17,236.37L1781.52,233.11L1790.87,229.85L1800.22,226.8L1809.57,224.19L1818.91,222.26L1828.26,221.14L1837.61,221.3L1846.96,223.23L1856.3,226.95L1865.65,231.2L1875,234.68L1875,299.32L1865.65,302.8L1856.3,307.05L1846.96,310.77L1837.61,312.7L1828.26,312.86L1818.91,311.74L1809.57,309.81L1800.22,307.2L1790.87,304.15L1781.52,300.89L1772.17,297.63L1762.83,294.37L1753.48,291.11L1744.13,287.85L1734.78,284.84L1725.43,282.37L1716.09,280.71L1706.74,279.65L1697.39,278.9L1688.04,278.17L1678.7,277.45L1669.35,276.81L1660,276.32Z" fill="#df8f44" stroke="#1a1a1a" stroke-width="2.5" stroke-linejoin="round"/><path d="M1660,360.88L1669.91,360.71L1679.83,360.48L1689.74,360.22L1699.65,359.96L1709.57,359.7L1719.48,359.43L1729.39,359.17L1739.3,358.91L1749.22,358.65L1759.13,358.31L1769.04,357.72L1778.96,356.72L1788.87,355.31L1798.78,353.65L1808.7,351.91L1818.61,350.17L1828.52,348.52L1838.43,347.1L1848.35,346.06L1858.26,345.36L1868.17,344.87L1878.09,344.48L1888,344.19L1888,399.81L1878.09,399.52L1868.17,399.13L1858.26,398.64L1848.35,397.94L1838.43,396.9L1828.52,395.48L1818.61,393.83L1808.7,392.09L1798.78,390.35L1788.87,388.69L1778.96,387.28L1769.04,386.28L1759.13,385.69L1749.22,385.35L1739.3,385.09L1729.39,384.83L1719.48,384.57L1709.57,384.3L1699.65,384.04L1689.74,383.78L1679.83,383.52L1669.91,383.29L1660,383.12Z" fill="#b24745" stroke="#1a1a1a" stroke-width="2.5" stroke-linejoin="round"/><path d="M1755,160L1790,267L1790,372" fill="none" stroke="#000" stroke-width="3.5"/><circle cx="1755" cy="160" r="4.5" fill="#000"/><circle cx="1790" cy="267" r="4.5" fill="#000"/><circle cx="1790" cy="372" r="4.5" fill="#000"/><path d="M30,539.52L38.17,540.29L46.35,541.45L54.52,543.09L62.7,545.32L70.87,548.11L79.04,551.24L87.22,554.47L95.39,557.7L103.57,560.93L111.74,564L119.91,566.58L128.09,568.37L136.26,569.36L144.43,569.87L152.61,570.22L160.78,570.57L168.96,570.91L177.13,571.26L185.3,571.61L193.48,571.96L201.65,572.3L209.83,572.61L218,572.85L218,601.15L209.83,601.39L201.65,601.7L193.48,602.04L185.3,602.39L177.13,602.74L168.96,603.09L160.78,603.43L152.61,603.78L144.43,604.13L136.26,604.64L128.09,605.63L119.91,607.42L111.74,610L103.57,613.07L95.39,616.3L87.22,619.53L79.04,622.76L70.87,625.89L62.7,628.68L54.52,630.91L46.35,632.55L38.17,633.71L30,634.48Z" fill="#384d55" stroke="#1a1a1a" stroke-width="2.5" stroke-linejoin="round"/><path d="M30,648.39L36.61,648.97L43.22,649.74L49.83,650.61L56.43,651.48L63.04,652.35L69.65,653.22L76.26,654.09L82.87,654.96L89.48,655.83L96.09,656.65L102.7,657.32L109.3,657.76L115.91,657.95L122.52,658L129.13,658L135.74,658L142.35,658L148.96,658L155.57,658L162.17,658L168.78,658L175.39,658L182,658L182,726L175.39,726L168.78,726L162.17,726L155.57,726L148.96,726L142.35,726L135.74,726L129.13,726L122.52,726L115.91,726.05L109.3,726.24L102.7,726.68L96.09,727.35L89.48,728.17L82.87,729.04L76.26,729.91L69.65,730.78L63.04,731.65L56.43,732.52L49.83,733.39L43.22,734.26L36.61,735.03L30,735.61Z" fill="#df8f44" stroke="#1a1a1a" stroke-width="2.5" stroke-linejoin="round"/><path d="M30,764.07L37.91,765.68L45.83,767.83L53.74,770.25L61.65,772.66L69.57,775.08L77.48,777.49L85.39,779.91L93.3,782.32L101.22,784.44L109.13,785.79L117.04,785.92L124.96,784.97L132.87,783.39L140.78,781.65L148.7,779.91L156.61,778.17L164.52,776.43L172.43,774.7L180.35,772.96L188.26,771.22L196.17,769.48L204.09,767.93L212,766.77L212,829.23L204.09,828.07L196.17,826.52L188.26,824.78L180.35,823.04L172.43,821.3L164.52,819.57L156.61,817.83L148.7,816.09L140.78,814.35L132.87,812.61L124.96,811.03L117.04,810.08L109.13,810.21L101.22,811.56L93.3,813.68L85.39,816.09L77.48,818.51L69.57,820.92L61.65,823.34L53.74,825.75L45.83,828.17L37.91,830.32L30,831.93Z" fill="#b24745" stroke="#1a1a1a" stroke-width="2.5" stroke-linejoin="round"/><path d="M68,587L90,692L110,798" fill="none" stroke="#000" stroke-width="3.5"/><circle cx="68" cy="587" r="4.5" fill="#000"/><circle cx="90" cy="692" r="4.5" fill="#000"/><circle cx="110" cy="798" r="4.5" fill="#000"/><path d="M300,551.77L306.3,552.93L312.61,554.48L318.91,556.22L325.22,557.96L331.52,559.7L337.83,561.43L344.13,563.17L350.43,564.77L356.74,566.05L363.04,566.83L369.35,567.23L375.65,567.41L381.96,567.55L388.26,567.7L394.57,567.84L400.87,567.99L407.17,568.13L413.48,568.28L419.78,568.42L426.09,568.57L432.39,568.71L438.7,568.84L445,568.94L445,605.06L438.7,605.16L432.39,605.29L426.09,605.43L419.78,605.58L413.48,605.72L407.17,605.87L400.87,606.01L394.57,606.16L388.26,606.3L381.96,606.45L375.65,606.59L369.35,606.77L363.04,607.17L356.74,607.95L350.43,609.23L344.13,610.83L337.83,612.57L331.52,614.3L325.22,616.04L318.91,617.78L312.61,619.52L306.3,621.07L300,622.23Z" fill="#384d55" stroke="#1a1a1a" stroke-width="2.5" stroke-linejoin="round"/><path d="M300,679.9L308.57,679.76L317.13,679.57L325.7,679.35L334.26,679.13L342.83,678.91L351.39,678.7L359.96,678.48L368.52,678.09L377.09,677.3L385.65,675.91L394.22,674.04L402.78,671.91L411.35,669.74L419.91,667.57L428.48,665.39L437.04,663.22L445.61,661.19L454.17,659.55L462.74,658.53L471.3,658.1L479.87,658L488.43,658L497,658L497,726L488.43,726L479.87,726L471.3,725.9L462.74,725.47L454.17,724.45L445.61,722.81L437.04,720.78L428.48,718.61L419.91,716.43L411.35,714.26L402.78,712.09L394.22,709.96L385.65,708.09L377.09,706.7L368.52,705.91L359.96,705.52L351.39,705.3L342.83,705.09L334.26,704.87L325.7,704.65L317.13,704.43L308.57,704.24L300,704.1Z" fill="#df8f44" stroke="#1a1a1a" stroke-width="2.5" stroke-linejoin="round"/><path d="M300,782.39L310,782.97L320,783.74L330,784.64L340,785.64L350,786.8L360,788.16L370,789.63L380,791.06L390,791.67L400,790.72L410,787.62L420,783.13L430,777.97L440,772.82L450,767.88L460,763.38L470,759.57L480,756.24L490,753.39L500,751.51L510,751.29L520,752.64L530,754.45L530,841.55L520,843.36L510,844.71L500,844.49L490,842.61L480,839.76L470,836.43L460,832.62L450,828.12L440,823.18L430,818.03L420,812.87L410,808.38L400,805.28L390,804.33L380,804.94L370,806.37L360,807.84L350,809.2L340,810.36L330,811.36L320,812.26L310,813.03L300,813.61Z" fill="#b24745" stroke="#1a1a1a" stroke-width="2.5" stroke-linejoin="round"/><path d="M345,587L430,692L460,798" fill="none" stroke="#000" stroke-width="3.5"/><circle cx="345" cy="587" r="4.5" fill="#000"/><circle cx="430" cy="692" r="4.5" fill="#000"/><circle cx="460" cy="798" r="4.5" fill="#000"/><path d="M577,564L583.13,564L589.26,564L595.39,564L601.52,564L607.65,564L613.78,564L619.91,564L626.04,564L632.17,564L638.3,564L644.43,564L650.57,564L656.7,564L662.83,564L668.96,564L675.09,564L681.22,564L687.35,564L693.48,564L699.61,564L705.74,564L711.87,564L718,564L718,610L711.87,610L705.74,610L699.61,610L693.48,610L687.35,610L681.22,610L675.09,610L668.96,610L662.83,610L656.7,610L650.57,610L644.43,610L638.3,610L632.17,610L626.04,610L619.91,610L613.78,610L607.65,610L601.52,610L595.39,610L589.26,610L583.13,610L577,610Z" fill="#384d55" stroke="#1a1a1a" stroke-width="2.5" stroke-linejoin="round"/><path d="M577,679.46L585.52,680.16L594.04,681.09L602.57,682.13L611.09,683.07L619.61,683.46L628.13,682.88L636.65,681.1L645.17,678.57L653.7,675.71L662.22,672.86L670.74,670L679.26,667.15L687.78,664.36L696.3,661.67L704.83,659.12L713.35,656.64L721.87,654.21L730.39,651.98L738.91,650.43L747.43,650.01L755.96,650.78L764.48,652.07L773,653.23L773,730.77L764.48,731.93L755.96,733.22L747.43,733.99L738.91,733.57L730.39,732.02L721.87,729.79L713.35,727.36L704.83,724.88L696.3,722.33L687.78,719.64L679.26,716.85L670.74,714L662.22,711.14L653.7,708.29L645.17,705.43L636.65,702.9L628.13,701.12L619.61,700.54L611.09,700.93L602.57,701.87L594.04,702.91L585.52,703.84L577,704.54Z" fill="#df8f44" stroke="#1a1a1a" stroke-width="2.5" stroke-linejoin="round"/><path d="M577,790L585.74,790L594.48,790L603.22,790L611.96,790L620.7,789.96L629.43,789.54L638.17,788.37L646.91,786.17L655.65,783.3L664.39,780.12L673.13,776.93L681.87,773.73L690.61,770.5L699.35,767.19L708.09,763.8L716.83,760.35L725.57,756.87L734.3,753.65L743.04,751.28L751.78,750.32L760.52,750.84L769.26,752.07L778,753.23L778,842.77L769.26,843.93L760.52,845.16L751.78,845.68L743.04,844.72L734.3,842.35L725.57,839.13L716.83,835.65L708.09,832.2L699.35,828.81L690.61,825.5L681.87,822.27L673.13,819.07L664.39,815.88L655.65,812.7L646.91,809.83L638.17,807.63L629.43,806.46L620.7,806.04L611.96,806L603.22,806L594.48,806L585.74,806L577,806Z" fill="#b24745" stroke="#1a1a1a" stroke-width="2.5" stroke-linejoin="round"/><path d="M645,587L695,692L720,798" fill="none" stroke="#000" stroke-width="3.5"/><circle cx="645" cy="587" r="4.5" fill="#000"/><circle cx="695" cy="692" r="4.5" fill="#000"/><circle cx="720" cy="798" r="4.5" fill="#000"/><path d="M845,568.81L853.61,568.52L862.22,568.13L870.83,567.7L879.43,567.26L888.04,566.83L896.65,566.39L905.26,565.96L913.87,565.37L922.48,564.43L931.09,562.95L939.7,561.05L948.3,558.91L956.91,556.74L965.52,554.57L974.13,552.39L982.74,550.22L991.35,548.22L999.96,546.68L1008.57,545.9L1017.17,545.81L1025.78,546.13L1034.39,546.52L1043,546.81L1043,627.19L1034.39,627.48L1025.78,627.87L1017.17,628.19L1008.57,628.1L999.96,627.32L991.35,625.78L982.74,623.78L974.13,621.61L965.52,619.43L956.91,617.26L948.3,615.09L939.7,612.95L931.09,611.05L922.48,609.57L913.87,608.63L905.26,608.04L896.65,607.61L888.04,607.17L879.43,606.74L870.83,606.3L862.22,605.87L853.61,605.48L845,605.19Z" fill="#384d55" stroke="#1a1a1a" stroke-width="2.5" stroke-linejoin="round"/><path d="M845,687.23L854.35,686.07L863.7,684.52L873.04,682.78L882.39,681.04L891.74,679.29L901.09,677.41L910.43,675.27L919.78,672.78L929.13,670.07L938.48,667.24L947.83,664.41L957.17,661.59L966.52,658.76L975.87,655.93L985.22,653.22L994.57,650.73L1003.91,648.59L1013.26,646.71L1022.61,645.16L1031.96,644.5L1041.3,645.4L1050.65,647.64L1060,650.07L1060,733.93L1050.65,736.36L1041.3,738.6L1031.96,739.5L1022.61,738.84L1013.26,737.29L1003.91,735.41L994.57,733.27L985.22,730.78L975.87,728.07L966.52,725.24L957.17,722.41L947.83,719.59L938.48,716.76L929.13,713.93L919.78,711.22L910.43,708.73L901.09,706.59L891.74,704.71L882.39,702.96L873.04,701.22L863.7,699.48L854.35,697.93L845,696.77Z" fill="#df8f44" stroke="#1a1a1a" stroke-width="2.5" stroke-linejoin="round"/><path d="M845,782.76L854.13,782.4L863.26,781.91L872.39,781.37L881.52,780.83L890.65,780.28L899.78,779.74L908.91,779.2L918.04,778.51L927.17,777.49L936.3,775.97L945.43,774.05L954.57,771.91L963.7,769.74L972.83,767.57L981.96,765.39L991.09,763.22L1000.22,761.19L1009.35,759.55L1018.48,758.53L1027.61,758.1L1036.74,758L1045.87,758L1055,758L1055,838L1045.87,838L1036.74,838L1027.61,837.9L1018.48,837.47L1009.35,836.45L1000.22,834.81L991.09,832.78L981.96,830.61L972.83,828.43L963.7,826.26L954.57,824.09L945.43,821.95L936.3,820.03L927.17,818.51L918.04,817.49L908.91,816.8L899.78,816.26L890.65,815.72L881.52,815.17L872.39,814.63L863.26,814.09L854.13,813.6L845,813.24Z" fill="#b24745" stroke="#1a1a1a" stroke-width="2.5" stroke-linejoin="round"/><path d="M965,587L985,692L975,798" fill="none" stroke="#000" stroke-width="3.5"/><circle cx="965" cy="587" r="4.5" fill="#000"/><circle cx="985" cy="692" r="4.5" fill="#000"/><circle cx="975" cy="798" r="4.5" fill="#000"/><path d="M1120,556.94L1128.13,556.86L1136.26,556.74L1144.39,556.61L1152.52,556.48L1160.65,556.35L1168.78,556.22L1176.91,556.09L1185.04,555.96L1193.17,555.83L1201.3,555.7L1209.43,555.57L1217.57,555.43L1225.7,555.3L1233.83,555.17L1241.96,555.04L1250.09,554.91L1258.22,554.78L1266.35,554.65L1274.48,554.52L1282.61,554.39L1290.74,554.26L1298.87,554.14L1307,554.06L1307,619.94L1298.87,619.86L1290.74,619.74L1282.61,619.61L1274.48,619.48L1266.35,619.35L1258.22,619.22L1250.09,619.09L1241.96,618.96L1233.83,618.83L1225.7,618.7L1217.57,618.57L1209.43,618.43L1201.3,618.3L1193.17,618.17L1185.04,618.04L1176.91,617.91L1168.78,617.78L1160.65,617.65L1152.52,617.52L1144.39,617.39L1136.26,617.26L1128.13,617.14L1120,617.06Z" fill="#384d55" stroke="#1a1a1a" stroke-width="2.5" stroke-linejoin="round"/><path d="M1120,667L1128.78,665.49L1137.57,663.48L1146.35,661.22L1155.13,658.96L1163.91,656.7L1172.7,654.43L1181.48,652.17L1190.26,649.91L1199.04,647.65L1207.83,645.63L1216.61,644.32L1225.39,644.21L1234.17,645.28L1242.96,647.07L1251.74,649.1L1260.52,651.13L1269.3,653.37L1278.09,656.18L1286.87,659.91L1295.65,664.49L1304.43,669.57L1313.22,674.2L1322,677.68L1322,706.32L1313.22,709.8L1304.43,714.43L1295.65,719.51L1286.87,724.09L1278.09,727.82L1269.3,730.63L1260.52,732.87L1251.74,734.9L1242.96,736.93L1234.17,738.72L1225.39,739.79L1216.61,739.68L1207.83,738.37L1199.04,736.35L1190.26,734.09L1181.48,731.83L1172.7,729.57L1163.91,727.3L1155.13,725.04L1146.35,722.78L1137.57,720.52L1128.78,718.51L1120,717Z" fill="#df8f44" stroke="#1a1a1a" stroke-width="2.5" stroke-linejoin="round"/><path d="M1120,763.08L1127.61,764.7L1135.22,766.85L1142.83,769.28L1150.43,771.71L1158.04,774.13L1165.65,776.56L1173.26,778.99L1180.87,781.37L1188.48,783.26L1196.09,784.22L1203.7,783.92L1211.3,782.78L1218.91,781.26L1226.52,779.73L1234.13,778.2L1241.74,776.68L1249.35,775.15L1256.96,773.63L1264.57,772.1L1272.17,770.58L1279.78,769.05L1287.39,767.7L1295,766.68L1295,829.32L1287.39,828.3L1279.78,826.95L1272.17,825.42L1264.57,823.9L1256.96,822.37L1249.35,820.85L1241.74,819.32L1234.13,817.8L1226.52,816.27L1218.91,814.74L1211.3,813.22L1203.7,812.08L1196.09,811.78L1188.48,812.74L1180.87,814.63L1173.26,817.01L1165.65,819.44L1158.04,821.87L1150.43,824.29L1142.83,826.72L1135.22,829.15L1127.61,831.3L1120,832.92Z" fill="#b24745" stroke="#1a1a1a" stroke-width="2.5" stroke-linejoin="round"/><path d="M1222,587L1210,692L1195,798" fill="none" stroke="#000" stroke-width="3.5"/><circle cx="1222" cy="587" r="4.5" fill="#000"/><circle cx="1210" cy="692" r="4.5" fill="#000"/><circle cx="1195" cy="798" r="4.5" fill="#000"/><path d="M1390,570.96L1393.83,570.9L1397.65,570.83L1401.48,570.74L1405.3,570.65L1409.13,570.57L1412.96,570.48L1416.78,570.39L1420.61,570.3L1424.43,570.22L1428.26,570.13L1432.09,570.04L1435.91,569.96L1439.74,569.87L1443.57,569.78L1447.39,569.7L1451.22,569.61L1455.04,569.52L1458.87,569.43L1462.7,569.35L1466.52,569.26L1470.35,569.17L1474.17,569.1L1478,569.04L1478,604.96L1474.17,604.9L1470.35,604.83L1466.52,604.74L1462.7,604.65L1458.87,604.57L1455.04,604.48L1451.22,604.39L1447.39,604.3L1443.57,604.22L1439.74,604.13L1435.91,604.04L1432.09,603.96L1428.26,603.87L1424.43,603.78L1420.61,603.7L1416.78,603.61L1412.96,603.52L1409.13,603.43L1405.3,603.35L1401.48,603.26L1397.65,603.17L1393.83,603.1L1390,603.04Z" fill="#384d55" stroke="#1a1a1a" stroke-width="2.5" stroke-linejoin="round"/><path d="M1390,680.26L1398.39,680.64L1406.78,681.16L1415.17,681.74L1423.57,682.32L1431.96,682.9L1440.35,683.52L1448.74,684.21L1457.13,684.99L1465.52,685.83L1473.91,686.65L1482.3,687.32L1490.7,687.76L1499.09,687.95L1507.48,688L1515.87,688L1524.26,688L1532.65,688L1541.04,688L1549.43,688L1557.83,688L1566.22,688L1574.61,688L1583,688L1583,696L1574.61,696L1566.22,696L1557.83,696L1549.43,696L1541.04,696L1532.65,696L1524.26,696L1515.87,696L1507.48,696L1499.09,696.05L1490.7,696.24L1482.3,696.68L1473.91,697.35L1465.52,698.17L1457.13,699.01L1448.74,699.79L1440.35,700.48L1431.96,701.1L1423.57,701.68L1415.17,702.26L1406.78,702.84L1398.39,703.36L1390,703.74Z" fill="#df8f44" stroke="#1a1a1a" stroke-width="2.5" stroke-linejoin="round"/><path d="M1390,750.58L1393.83,754.44L1397.65,759.47L1401.48,764.81L1405.3,769.59L1409.13,773.83L1412.96,777.76L1416.78,781.58L1420.61,785.09L1424.43,787.87L1428.26,789.53L1432.09,790.31L1435.91,790.61L1439.74,790.83L1443.57,791.04L1447.39,791.26L1451.22,791.48L1455.04,791.7L1458.87,791.91L1462.7,792.13L1466.52,792.35L1470.35,792.57L1474.17,792.76L1478,792.9L1478,803.1L1474.17,803.24L1470.35,803.43L1466.52,803.65L1462.7,803.87L1458.87,804.09L1455.04,804.3L1451.22,804.52L1447.39,804.74L1443.57,804.96L1439.74,805.17L1435.91,805.39L1432.09,805.69L1428.26,806.47L1424.43,808.13L1420.61,810.91L1416.78,814.42L1412.96,818.24L1409.13,822.17L1405.3,826.41L1401.48,831.19L1397.65,836.53L1393.83,841.56L1390,845.42Z" fill="#b24745" stroke="#1a1a1a" stroke-width="2.5" stroke-linejoin="round"/><path d="M1435,587L1440,692L1400,798" fill="none" stroke="#000" stroke-width="3.5"/><circle cx="1435" cy="587" r="4.5" fill="#000"/><circle cx="1440" cy="692" r="4.5" fill="#000"/><circle cx="1400" cy="798" r="4.5" fill="#000"/><path d="M1660,546.03L1664.65,547.58L1669.3,549.64L1673.96,551.96L1678.61,554.28L1683.26,556.59L1687.91,558.87L1692.57,561.08L1697.22,563.2L1701.87,565.26L1706.52,567.29L1711.17,569.32L1715.83,571.31L1720.48,573.05L1725.13,574.36L1729.78,575.1L1734.43,575.48L1739.09,575.7L1743.74,575.91L1748.39,576.13L1753.04,576.35L1757.7,576.57L1762.35,576.76L1767,576.9L1767,597.1L1762.35,597.24L1757.7,597.43L1753.04,597.65L1748.39,597.87L1743.74,598.09L1739.09,598.3L1734.43,598.52L1729.78,598.9L1725.13,599.64L1720.48,600.95L1715.83,602.69L1711.17,604.68L1706.52,606.71L1701.87,608.74L1697.22,610.8L1692.57,612.92L1687.91,615.13L1683.26,617.41L1678.61,619.72L1673.96,622.04L1669.3,624.36L1664.65,626.42L1660,627.97Z" fill="#384d55" stroke="#1a1a1a" stroke-width="2.5" stroke-linejoin="round"/><path d="M1660,647.55L1665.65,649.86L1671.3,652.96L1676.96,656.41L1682.61,659.77L1688.26,662.98L1693.91,666.02L1699.57,668.96L1705.22,671.86L1710.87,674.75L1716.52,677.51L1722.17,679.82L1727.83,681.4L1733.48,682.24L1739.13,682.65L1744.78,682.91L1750.43,683.17L1756.09,683.43L1761.74,683.7L1767.39,683.96L1773.04,684.22L1778.7,684.48L1784.35,684.71L1790,684.88L1790,699.12L1784.35,699.29L1778.7,699.52L1773.04,699.78L1767.39,700.04L1761.74,700.3L1756.09,700.57L1750.43,700.83L1744.78,701.09L1739.13,701.35L1733.48,701.76L1727.83,702.6L1722.17,704.18L1716.52,706.49L1710.87,709.25L1705.22,712.14L1699.57,715.04L1693.91,717.98L1688.26,721.02L1682.61,724.23L1676.96,727.59L1671.3,731.04L1665.65,734.14L1660,736.45Z" fill="#df8f44" stroke="#1a1a1a" stroke-width="2.5" stroke-linejoin="round"/><path d="M1660,759.16L1665.87,760.9L1671.74,763.22L1677.61,765.83L1683.48,768.43L1689.35,771.04L1695.22,773.55L1701.09,775.89L1706.96,778L1712.83,779.96L1718.7,781.84L1724.57,783.72L1730.43,785.57L1736.3,787.18L1742.17,788.35L1748.04,788.97L1753.91,789.24L1759.78,789.35L1765.65,789.46L1771.52,789.57L1777.39,789.67L1783.26,789.78L1789.13,789.88L1795,789.95L1795,806.05L1789.13,806.12L1783.26,806.22L1777.39,806.33L1771.52,806.43L1765.65,806.54L1759.78,806.65L1753.91,806.76L1748.04,807.03L1742.17,807.65L1736.3,808.82L1730.43,810.43L1724.57,812.28L1718.7,814.16L1712.83,816.04L1706.96,818L1701.09,820.11L1695.22,822.45L1689.35,824.96L1683.48,827.57L1677.61,830.17L1671.74,832.78L1665.87,835.1L1660,836.84Z" fill="#b24745" stroke="#1a1a1a" stroke-width="2.5" stroke-linejoin="round"/><path d="M1680,587L1680,692L1688,798" fill="none" stroke="#000" stroke-width="3.5"/><circle cx="1680" cy="587" r="4.5" fill="#000"/><circle cx="1680" cy="692" r="4.5" fill="#000"/><circle cx="1688" cy="798" r="4.5" fill="#000"/><path d="M50,160H150M50,140V182" stroke="#273a40" stroke-width="5" fill="none"/><path d="M170,112C164,130 164,190 170,205C176,190 176,130 170,112Z" fill="#384d55" stroke="#1a1a1a" stroke-width="2.5"/><path d="M150,160L170,200L220,267" stroke="#000" stroke-width="3.5" fill="none"/><path d="M34,862v10M96,862v10M158,862v10M220,862v10M304,862v10M366,862v10M428,862v10M490,862v10M579,862v10M641,862v10M703,862v10M765,862v10M849,862v10M911,862v10M973,862v10M1035,862v10M1124,862v10M1186,862v10M1248,862v10M1310,862v10M1394,862v10M1456,862v10M1518,862v10M1580,862v10M1664,862v10M1726,862v10M1788,862v10M1850,862v10" stroke="#333" stroke-width="3"/></g><text x="820.27" y="1245.16" font-size="6.7" text-anchor="middle" fill="#c23a3a">CD44</text><text x="867.32" y="1245.16" font-size="6.7" text-anchor="middle" fill="#c23a3a">EPCAM</text><text x="915.25" y="1245.16" font-size="6.7" text-anchor="middle" fill="#c23a3a">EGFR</text><text x="962.31" y="1245.16" font-size="6.7" text-anchor="middle" fill="#c23a3a">ITGA6</text><text x="1010.23" y="1245.16" font-size="6.7" text-anchor="middle" fill="#c23a3a">CDH1</text><text x="1057.29" y="1245.16" font-size="6.7" text-anchor="middle" fill="#c23a3a">CCND1</text><text x="1104.34" y="1245.16" font-size="6.7" text-anchor="middle" fill="#c23a3a">MKI67</text><text x="820.27" y="1319.75" font-size="6.7" text-anchor="middle" fill="#111">CD24</text><text x="867.32" y="1319.75" font-size="6.7" text-anchor="middle" fill="#111">TGFBI</text><text x="915.25" y="1319.75" font-size="6.7" text-anchor="middle" fill="#111">CDH3</text><text x="962.31" y="1319.75" font-size="6.7" text-anchor="middle" fill="#111">PCNA</text><text x="1010.23" y="1319.75" font-size="6.7" text-anchor="middle" fill="#111">VIM</text><text x="1057.29" y="1319.75" font-size="6.7" text-anchor="middle" fill="#111">CDH2</text><text x="1104.34" y="1319.75" font-size="6.7" text-anchor="middle" fill="#111">ERBB2</text><g transform="translate(1180,1195) scale(0.17428)"><rect x="55" y="267" width="383" height="401" fill="#fff"/><path d="M152,267V668M300,267V668M55,315H438M55,375H438M55,435H438M55,495H438M55,555H438M55,615H438" stroke="#e9e9e9" stroke-width="4" fill="none"/><rect x="55" y="73" width="383" height="194" fill="#d9d9d9" stroke="#333" stroke-width="5"/><rect x="55" y="267" width="383" height="401" fill="none" stroke="#333" stroke-width="5"/><circle cx="173" cy="620" r="25" fill="#1b9e77" stroke="#111" stroke-width="5"/><circle cx="325" cy="388" r="25" fill="#d95f02" stroke="#111" stroke-width="5"/><rect x="503" y="267" width="383" height="401" fill="#fff"/><path d="M600,267V668M748,267V668M503,315H886M503,375H886M503,435H886M503,495H886M503,555H886M503,615H886" stroke="#e9e9e9" stroke-width="4" fill="none"/><rect x="503" y="73" width="383" height="194" fill="#d9d9d9" stroke="#333" stroke-width="5"/><rect x="503" y="267" width="383" height="401" fill="none" stroke="#333" stroke-width="5"/><circle cx="620" cy="590" r="25" fill="#1b9e77" stroke="#111" stroke-width="5"/><circle cx="773" cy="348" r="25" fill="#d95f02" stroke="#111" stroke-width="5"/><rect x="952" y="267" width="383" height="401" fill="#fff"/><path d="M1049,267V668M1197,267V668M952,315H1335M952,375H1335M952,435H1335M952,495H1335M952,555H1335M952,615H1335" stroke="#e9e9e9" stroke-width="4" fill="none"/><rect x="952" y="73" width="383" height="194" fill="#d9d9d9" stroke="#333" stroke-width="5"/><rect x="952" y="267" width="383" height="401" fill="none" stroke="#333" stroke-width="5"/><circle cx="1068" cy="620" r="25" fill="#1b9e77" stroke="#111" stroke-width="5"/><circle cx="1222" cy="395" r="25" fill="#d95f02" stroke="#111" stroke-width="5"/><rect x="1400" y="267" width="383" height="401" fill="#fff"/><path d="M1497,267V668M1645,267V668M1400,315H1783M1400,375H1783M1400,435H1783M1400,495H1783M1400,555H1783M1400,615H1783" stroke="#e9e9e9" stroke-width="4" fill="none"/><rect x="1400" y="73" width="383" height="194" fill="#d9d9d9" stroke="#333" stroke-width="5"/><rect x="1400" y="267" width="383" height="401" fill="none" stroke="#333" stroke-width="5"/><circle cx="1517" cy="620" r="25" fill="#1b9e77" stroke="#111" stroke-width="5"/><circle cx="1670" cy="380" r="25" fill="#d95f02" stroke="#111" stroke-width="5"/><rect x="55" y="910" width="383" height="400" fill="#fff"/><path d="M152,910V1310M300,910V1310M55,958H438M55,1018H438M55,1078H438M55,1138H438M55,1198H438M55,1258H438" stroke="#e9e9e9" stroke-width="4" fill="none"/><rect x="55" y="717" width="383" height="193" fill="#d9d9d9" stroke="#333" stroke-width="5"/><rect x="55" y="910" width="383" height="400" fill="none" stroke="#333" stroke-width="5"/><circle cx="172" cy="1062" r="25" fill="#1b9e77" stroke="#111" stroke-width="5"/><circle cx="325" cy="1263" r="25" fill="#d95f02" stroke="#111" stroke-width="5"/><rect x="503" y="910" width="383" height="400" fill="#fff"/><path d="M600,910V1310M748,910V1310M503,958H886M503,1018H886M503,1078H886M503,1138H886M503,1198H886M503,1258H886" stroke="#e9e9e9" stroke-width="4" fill="none"/><rect x="503" y="717" width="383" height="193" fill="#d9d9d9" stroke="#333" stroke-width="5"/><rect x="503" y="910" width="383" height="400" fill="none" stroke="#333" stroke-width="5"/><circle cx="620" cy="1097" r="25" fill="#1b9e77" stroke="#111" stroke-width="5"/><circle cx="772" cy="1202" r="25" fill="#d95f02" stroke="#111" stroke-width="5"/><rect x="952" y="910" width="383" height="400" fill="#fff"/><path d="M1049,910V1310M1197,910V1310M952,958H1335M952,1018H1335M952,1078H1335M952,1138H1335M952,1198H1335M952,1258H1335" stroke="#e9e9e9" stroke-width="4" fill="none"/><rect x="952" y="717" width="383" height="193" fill="#d9d9d9" stroke="#333" stroke-width="5"/><rect x="952" y="910" width="383" height="400" fill="none" stroke="#333" stroke-width="5"/><circle cx="1068" cy="1053" r="25" fill="#1b9e77" stroke="#111" stroke-width="5"/><circle cx="1220" cy="1263" r="25" fill="#d95f02" stroke="#111" stroke-width="5"/><rect x="1400" y="910" width="383" height="400" fill="#fff"/><path d="M1497,910V1310M1645,910V1310M1400,958H1783M1400,1018H1783M1400,1078H1783M1400,1138H1783M1400,1198H1783M1400,1258H1783" stroke="#e9e9e9" stroke-width="4" fill="none"/><rect x="1400" y="717" width="383" height="193" fill="#d9d9d9" stroke="#333" stroke-width="5"/><rect x="1400" y="910" width="383" height="400" fill="none" stroke="#333" stroke-width="5"/><circle cx="1517" cy="1162" r="25" fill="#1b9e77" stroke="#111" stroke-width="5"/><circle cx="1668" cy="1263" r="25" fill="#d95f02" stroke="#111" stroke-width="5"/></g><text x="1220.52" y="1228.98" font-size="11.5" text-anchor="middle" fill="#1a1a1a">VIM</text><text x="1299.73" y="1228.98" font-size="11.5" text-anchor="middle" fill="#1a1a1a">CDH2</text><text x="1379.11" y="1228.98" font-size="11.5" text-anchor="middle" fill="#1a1a1a">SNAI2</text><text x="1457.1" y="1228.98" font-size="11.5" text-anchor="middle" fill="#1a1a1a">MKI67</text><text x="1222" y="1341.22" font-size="11.5" text-anchor="middle" fill="#1a1a1a">EPCAM</text><text x="1300.16" y="1341.22" font-size="11.5" text-anchor="middle" fill="#1a1a1a">SNAI1</text><text x="1379.11" y="1341.22" font-size="11.5" text-anchor="middle" fill="#1a1a1a">MMP2</text><text x="1457.45" y="1341.22" font-size="11.5" text-anchor="middle" fill="#1a1a1a">TIMP2</text><g transform="translate(1580,1195) scale(0.15711)"><path d="M140,410L180,370L195,300L250,265L285,175L335,165L360,195L400,185L345,215L370,265L430,280L470,270" fill="none" stroke="#a8a8a8" stroke-width="3.6" stroke-linejoin="round"/><path d="M265,325L320,265L360,300L340,360L265,325M340,360L420,300L480,350L540,300L545,390L420,370L410,440L260,430L250,480L330,520L420,470L415,440" fill="none" stroke="#a8a8a8" stroke-width="3.6" stroke-linejoin="round"/><path d="M215,465L300,440L420,440L470,470L560,430L630,440L635,475L560,490L480,520L420,510L350,570L280,590L240,560L250,610L320,640L400,590L470,600L540,560L600,580L655,560" fill="none" stroke="#a8a8a8" stroke-width="3.6" stroke-linejoin="round"/><path d="M130,600L165,555L235,550L245,600L200,625L150,635L130,600M200,625L270,650L320,690L380,660L450,610L520,590L580,600L625,625L600,680L540,660L470,650L480,700L420,715L410,770L350,735L370,790L340,850L290,810L295,775" fill="none" stroke="#a8a8a8" stroke-width="3.6" stroke-linejoin="round"/><path d="M480,740L545,700L590,640L560,560L590,500L545,440L575,395L620,385L560,350L540,300M250,520L340,500L420,520L500,490L560,500L600,560L640,600L610,640L575,590" fill="none" stroke="#a8a8a8" stroke-width="3.6" stroke-linejoin="round"/><path d="M240,600L300,630L350,580L420,600L480,560L540,580L590,545L620,520" fill="none" stroke="#a8a8a8" stroke-width="3.6" stroke-linejoin="round"/><path d="M285,175L300,240L265,300L215,330L190,380L140,410L150,425" fill="none" stroke="#a8a8a8" stroke-width="3.6" stroke-linejoin="round"/><path d="M330,340L370,300L400,310L360,350L330,340M420,370L470,300L540,300L560,400L600,380L620,390" fill="none" stroke="#a8a8a8" stroke-width="3.6" stroke-linejoin="round"/><path d="M250,440L300,480L380,500L440,450L520,470L560,440L610,455L630,440M230,500L300,520L380,490L450,520L520,500L600,520L640,560L600,600" fill="none" stroke="#a8a8a8" stroke-width="3.6" stroke-linejoin="round"/><path d="M235,550L290,580L360,560L430,590L500,550L560,570L610,540L655,565M260,640L330,690L400,650L460,680L530,640L590,650L625,625" fill="none" stroke="#a8a8a8" stroke-width="3.6" stroke-linejoin="round"/><path d="M300,440L350,470L420,440M470,470L500,430L560,430M345,570L400,545L470,565L540,530L600,545" fill="none" stroke="#a8a8a8" stroke-width="3.6" stroke-linejoin="round"/><path d="M470,600L500,640L560,620L600,640M410,710L450,690L480,650M480,700L520,720L560,690L600,680" fill="none" stroke="#a8a8a8" stroke-width="3.6" stroke-linejoin="round"/><path d="M510,245L575,245L590,225L560,190L580,130L640,85L690,90M700,140L720,200L760,220L770,300L720,340L640,370L610,330L620,280L670,250L700,200L690,150L650,130" fill="none" stroke="#3aa832" stroke-width="5" stroke-linejoin="round"/><path d="M640,370L700,420L770,470M800,390L770,400L770,440L790,470M820,400L850,440L870,490L920,495L960,520L990,560L1030,575L1100,520L1170,495L1220,490L1230,540L1180,590L1100,615L1040,605L1030,570" fill="none" stroke="#3aa832" stroke-width="5" stroke-linejoin="round"/><path d="M960,520L950,550L900,570L870,600L860,640L820,660L770,690L740,730L760,690L800,660L870,640L900,650L910,690L880,720L830,740L770,760L760,800L790,830L860,850" fill="none" stroke="#3aa832" stroke-width="5" stroke-linejoin="round"/><path d="M740,520L725,560L745,600L800,610M720,750L740,800L780,840L850,850L910,870L950,900L920,920L860,935L850,980L810,1000L800,1040" fill="none" stroke="#3aa832" stroke-width="5" stroke-linejoin="round"/><path d="M600,280L610,340L640,370" fill="none" stroke="#3aa832" stroke-width="5" stroke-linejoin="round"/><path d="M645,70L715,80L715,125L690,115L665,130L672,100Z" fill="#3fae35"/><path d="M690,300L720,280L765,285L770,245L795,240L795,295L765,325L720,320L690,330Z" fill="#39a52f"/><path d="M790,375L830,385L818,415L795,410Z" fill="#2f9a3a"/><path d="M770,470L800,455L812,480L785,492Z" fill="#1f7a3a"/><path d="M1030,560L1120,510L1145,515L1135,545L1045,590Z" fill="#43b334"/><path d="M1060,600L1180,580L1195,590L1110,622L1065,615Z" fill="#43b334"/><path d="M770,600L860,585L870,615L800,625Z" fill="#3aa832"/><path d="M745,520L800,560L820,580L790,580L745,540Z" fill="#2c8c2c"/><path d="M770,690L810,670L800,700L775,715Z" fill="#45b040"/><path d="M800,745L855,725L845,765Z" fill="#56b848"/><path d="M850,845L900,825L960,800L990,785L975,815L930,850L880,865Z" fill="#256a33"/><path d="M890,780L920,775L925,810L900,815Z" fill="#1f5a2c"/><path d="M1180,150L1215,185L1225,235L1260,250M1175,255L1180,290L1115,295L1130,320L1200,330L1250,300L1240,260L1290,330L1330,310" fill="none" stroke="#d8432e" stroke-width="4.6" stroke-linejoin="round"/><path d="M1240,260L1250,330L1270,400L1330,430L1390,405L1415,440L1410,480L1350,490L1300,465L1270,430L1200,400" fill="none" stroke="#d8432e" stroke-width="4.6" stroke-linejoin="round"/><path d="M1160,440L1180,480L1220,490L1215,540L1240,580L1290,620L1330,625L1380,650L1400,700L1360,720L1310,690" fill="none" stroke="#d8432e" stroke-width="4.6" stroke-linejoin="round"/><path d="M1290,530L1320,560L1300,600" fill="none" stroke="#d8432e" stroke-width="4.6" stroke-linejoin="round"/><path d="M1225,225C1240,195 1290,195 1305,225L1335,310L1315,315L1295,255C1270,270 1235,260 1225,225Z" fill="#b01218"/><path d="M1005,385L1060,370L1075,395L1040,405L1065,450L1040,455L1010,410Z" fill="#d31a16"/><path d="M1080,375L1250,410L1300,470L1270,440L1160,410L1090,400Z" fill="#b5161a"/><path d="M1060,425L1150,420L1160,435L1075,460Z" fill="#c8201a"/><path d="M1235,590L1270,585L1285,615L1255,630Z" fill="#a02a2a"/><path d="M1285,530L1305,525L1310,560L1295,565Z" fill="#b02a22"/><path d="M1330,625L1360,680L1420,720L1490,775L1430,800L1370,770L1340,800L1400,840L1350,860L1320,900L1340,950L1290,990" fill="none" stroke="#e2694a" stroke-width="4.4" stroke-linejoin="round"/><path d="M1240,760L1250,800L1290,800L1330,790M1235,940L1170,950L1135,985L1160,1020L1230,1010L1280,1010L1310,1040L1320,1080L1280,1110L1220,1100" fill="none" stroke="#e2694a" stroke-width="4.4" stroke-linejoin="round"/><path d="M1280,1110L1240,1140L1180,1140L1110,1165L1160,1185L1230,1170L1270,1200L1250,1230L1200,1215" fill="none" stroke="#e2694a" stroke-width="4.4" stroke-linejoin="round"/><path d="M1220,720C1225,680 1290,665 1320,690L1350,715L1310,745L1290,710C1270,700 1250,710 1245,735Z" fill="#e8532c"/><path d="M1235,850L1250,850L1265,960L1285,1015L1260,1005L1240,960Z" fill="#b85a44"/><path d="M1280,840L1310,840L1305,900L1290,935L1280,900Z" fill="#c0573f"/><path d="M1175,995L1240,990L1245,1010L1185,1015Z" fill="#c0775f"/><path d="M1125,1060C1140,1035 1185,1040 1190,1070L1165,1090L1160,1065C1150,1060 1140,1070 1150,1095L1130,1100Z" fill="#c4836a"/><path d="M800,1040L780,1080L740,1130L720,1175L760,1200L800,1230L790,1270L740,1290" fill="none" stroke="#8fbf3f" stroke-width="4.4" stroke-linejoin="round"/><path d="M720,1175L640,1210L585,1235L600,1280L590,1305M640,1210L680,1260L660,1295" fill="none" stroke="#c8d84a" stroke-width="4.4" stroke-linejoin="round"/><path d="M860,1100L880,1150L860,1200L870,1250L900,1260" fill="none" stroke="#c8c83a" stroke-width="4.4" stroke-linejoin="round"/><path d="M960,1090L940,1140L900,1180L860,1200" fill="none" stroke="#d8c832" stroke-width="4.4" stroke-linejoin="round"/><path d="M985,1060L995,1110L960,1160L930,1230L940,1290L960,1330" fill="none" stroke="#d8b030" stroke-width="4.4" stroke-linejoin="round"/><path d="M1040,1090L1065,1110L1040,1150L1020,1200L980,1260L960,1310L1000,1350" fill="none" stroke="#e09a2a" stroke-width="4.4" stroke-linejoin="round"/><path d="M1100,1165L1060,1230L1040,1290L1070,1330L1060,1380" fill="none" stroke="#e08a30" stroke-width="4.4" stroke-linejoin="round"/><path d="M870,1345L860,1400L880,1440" fill="none" stroke="#d8b030" stroke-width="4.4" stroke-linejoin="round"/><path d="M940,1290L930,1340L950,1360L930,1410L880,1420" fill="none" stroke="#d8a82a" stroke-width="4.4" stroke-linejoin="round"/><path d="M800,1040L830,1060L860,1045L900,1030L910,1070L950,1085L985,1060" fill="none" stroke="#a8b84a" stroke-width="4.4" stroke-linejoin="round"/><path d="M745,1100L770,1150L820,1160L860,1200L830,1240L800,1230" fill="none" stroke="#b8c850" stroke-width="4.4" stroke-linejoin="round"/><path d="M900,1180L930,1200L960,1240L990,1270L1000,1310L985,1340" fill="none" stroke="#d8b830" stroke-width="4.4" stroke-linejoin="round"/><path d="M1040,1090L1050,1130L1070,1160L1060,1200L1030,1225" fill="none" stroke="#e8a028" stroke-width="4.4" stroke-linejoin="round"/><path d="M860,1250L880,1290L870,1345M900,1260L940,1290" fill="none" stroke="#d0b838" stroke-width="4.4" stroke-linejoin="round"/><path d="M1000,1350L1030,1370L1060,1380L1080,1365" fill="none" stroke="#d89a30" stroke-width="4.4" stroke-linejoin="round"/><path d="M690,1225L720,1250L750,1240M660,1295L700,1290L740,1290" fill="none" stroke="#b8d060" stroke-width="4.4" stroke-linejoin="round"/><path d="M1110,1165L1130,1120L1170,1100L1220,1100" fill="none" stroke="#e07a48" stroke-width="4.4" stroke-linejoin="round"/><path d="M680,1060L735,1050L760,1075L745,1100L700,1090Z" fill="#8db843"/><path d="M745,1090L800,1060L790,1095L750,1140Z" fill="#6fb23a"/><path d="M620,1180L660,1170L705,1205L680,1225L640,1205Z" fill="#5f9a38"/><path d="M735,1215L775,1205L770,1250L745,1255Z" fill="#9cc45a"/><path d="M820,1050L860,1040L870,1075L840,1095L820,1080Z" fill="#9aa850"/><path d="M870,1025L905,1025L905,1065L880,1075Z" fill="#a8b04a"/><path d="M800,1110L860,1085L845,1130L815,1150Z" fill="#e6e04a"/><path d="M885,1115L925,1125L905,1165L890,1150Z" fill="#e0d63a"/><path d="M915,1085L965,1080L960,1115L925,1120Z" fill="#b8b050"/><path d="M955,1150L995,1160L970,1195Z" fill="#e6c42e"/><path d="M1015,1185L1055,1195L1030,1225Z" fill="#e8a020"/><path d="M930,1290L960,1285L965,1350L935,1365Z" fill="#c8a030"/><path d="M850,1345L885,1355L890,1440L865,1445L850,1400Z" fill="#d8ae28"/><path d="M1090,1215C1130,1200 1170,1230 1165,1275L1140,1300L1120,1290L1135,1260C1125,1245 1105,1250 1100,1270Z" fill="#d8861e"/><path d="M1175,1240L1230,1225L1240,1270L1200,1290L1215,1320L1200,1355L1160,1360L1150,1325L1180,1300Z" fill="#f0b88a"/><path d="M1050,1360L1080,1365L1075,1400L1055,1400Z" fill="#c88a40"/><path d="M750,1240L800,1270L790,1290L750,1280Z" fill="#c0d070"/></g></svg></body></html>
